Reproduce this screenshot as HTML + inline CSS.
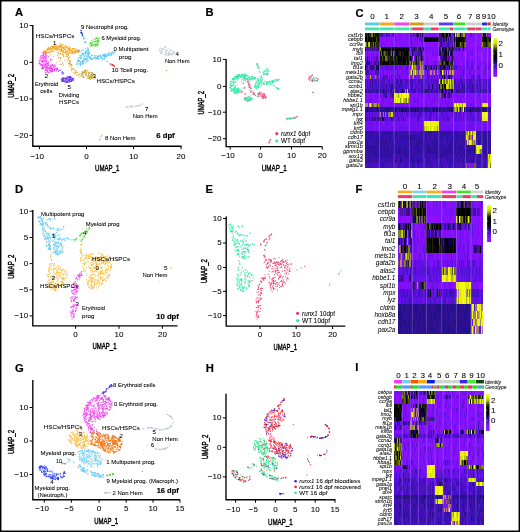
<!DOCTYPE html><html><head><meta charset="utf-8"><style>html,body{margin:0;padding:0;background:#fff}svg{display:block}text{font-family:"Liberation Sans",sans-serif;fill:#000;stroke:#000;stroke-width:0.07px}</style></head><body>
<svg width="520" height="532" viewBox="0 0 520 532" shape-rendering="auto">
<rect x="0" y="0" width="520" height="532" fill="#fff"/>
<path d="M32.8 25V146.2H181.6" fill="none" stroke="#000" stroke-width="1.35"/>
<path d="M29.6 25.6H32.8M29.6 62.3H32.8M29.6 98.9H32.8M29.6 135.4H32.8M39.4 146.2V149.2M86.5 146.2V149.2M133.6 146.2V149.2M181 146.2V149.2" stroke="#000" stroke-width="1"/>
<path d="M60.3 44.1h1m-.9-.3h1m1 .7h1m-19 6.4h1m.2 0h1m-.6-.1h1m-.6-1.7h1m-.7 1.4h1m-.9-.8h1m-.5-1.2h1m-.6-.9h1m-.8 1.8h1m-.9-2h1m-1 2h1m-.8-1.4h1m-.8 1h1m-.8-.5h1m-.9-.1h1m-.6.4h1m-.7 1.2h1m-.7-1.2h1m-.8-1.1h1m-1-.5h1m-.8 2h1m-.6.8h1m-.6-1.8h1m-.9 1.1h1m-.7-.4h1m-1-.1h1m-1-.6h1m-1-1.8h1m-.8.1h1m-1 3.5h1m-.8-.1h1m-.9-3.5h1m-1 .3h1m-.9-.1h1m-1 .3h1m-.9.6h1m-.8.7h1m-.9-.5h1m-.7-1.3h1m-.7 1.8h1m-1-.7h1m-.9-1.1h1m-.6 2.3h1m-.7 0h1m-.9-2.4h1m-.8 1.3h1m-.9-.6h1m-.9 3h1m-1-3.3h1m-.9.9h1m-.8-2.2h1m-.9 3.9h1m-.9-3.1h1m-.7 2.1h1m-1-1.6h1m-.8-.1h1m-.8 3h1m-.8-.9h1m-.8-.4h1m-.9-3.2h1m-.8 4.7h1m-.9-1.8h1m-.9-.7h1m-.9.1h1m-.7 3.5h1m-1-4.4h1m-.9-.3h1m-1 1.1h1m-.9.7h1m-.9 1.2h1m-.9-.2h1m-.9-.5h1m-.8-1h1m-.7 1.9h1m-.8-2.9h1m-.6 2.5h1m-.7-3.3h1m-.6.9h1m-1-1.3h1m-1 1.7h1m-.9 2.5h1m-1-2.5h1m-1 .4h1m-.9 2.2h1m-.7-.7h1m-.9-3.8h1m-.8 2.3h1m-1 3.4h1m-1-1.7h1m-.3-1.2h1m-.9-2.1h1m-1 .3h1m-.9 4.8h1m-.9-5.2h1m-1 3.7h1m-.9.1h1m-1 1h1m-1-4.5h1m-.9.3h1m-.9-.5h1m-.8 4.5h1m-1-2.9h1m-1 1.3h1m-.7 1.3h1m-.9-3.7h1m-.9-.9h1m-.8 2.3h1m-.3.8h1m-.9-.5h1m-1 2.5h1m-.7-2.7h1m-.6.2h1m-1-.7h1m-.9 1.3h1m-.8.8h1m-.9-2.8h1m-.3.7h1m-.9 1.9h1m-.9-3.8h1m-.8 5.5h1m-.9-1.7h1m-.4-1.5h1m-.8-.7h1m-.6 0h1m-.7.8h1m-.6-.9h1m-.8 1.4h1m-.8 0h1m-.7 1.8h1m-.6.4h1m-.9-2h1m-.5 2.1h1m-1-.9h1m-.8-2.8h1m-.9 1.7h1m-1 1h1m-.6-2.6h1m-.8 1.2h1m-1 .7h1m-1 1.9h1m-.9-.2h1m-.6-.7h1m-.9.4h1m-.8-1.1h1m.3 1.5h1m-.6-2.3h1m-1 .8h1m-.9-.8h1m-.4.5h1m-.1-.3h1m-.8 2.3h1m-.5-2.1h1m-.7 1.6h1m-.9-1.6h1m-.3 1.7h1m-.1-.9h1m-.4.7h1m-1 .3h1m-.5.1h1m-1-.7h1m-.7.8h1m-35.7 1h1m-1 0h1m-.2 1.3h1m-.8-1.8h1m-.7.8h1m-1 0h1m-.8.6h1m-.5-.8h1m-.9-.7h1m-.8 1.7h1m-.9-1.2h1m-.9 2h1m-.6-.8h1m-1-.2h1m-.4-.1h1m-.9.1h1m.5-.1h1m-.7-1.2h1m-.6.6h1m-.6.2h1m-.3-.4h1m-.9 3.1h1m-.2-3h1m.3-.8h1m-.9.3h1m-.3 5h1m-.4-4.8h1m2.4 3.7h1m-.3-2.4h1m-.9-1.1h1m-.6 1.7h1m-1 .2h1m.5-.1h1m-.9-.2h1m-.8-2.4h1m-.7 3.1h1m-.1-3h1m-.7-.1h1m-.7 3.1h1m-.9-2h1m-.7 1.1h1m-.8 1.9h1m-.8-.3h1m-.9-2.7h1m-.8 2.6h1m-1-2.8h1m-.8 4.5h1m-.8-5.2h1m-.9 5.1h1m-.4-3.5h1m0 0h1m-.9-.3h1m-.9-1.5h1m-.7 2.2h1m-1-.9h1m-.9-1.1h1m-1 .8h1m-.8 4.7h1m-.8-4.8h1m-1 2.6h1m-.8-2.2h1m-.5 4.1h1m-1-1.6h1m-.8-3.7h1m-.9 5.4h1m-.9-3.5h1m-.9-1.9h1m-.6 3.6h1m-.8-1.6h1m-1 2.3h1m-.8-.3h1m-.6-2h1m-.3-.7h1m-.9 4.5h1m-.7-3.6h1m-.9-.5h1m.2.5h1m-.6-2.1h1m-.9.4h1m-1 .1h1m-.8-.1h1m-.9 1h1m-.5-1h1m-1 1.4h1m-.9-1h1m-.9.9h1m-.5.6h1m-.5-1.2h1m-.7-1.1h1m-.6 1.1h1m-.6.1h1m-.9-1.1h1m-.6 1.9h1m-1-1.1h1m-.8.2h1m-.8-.2h1m-.4-.7h1m-.5.1h1m-.6-.4h1m-.9 1.7h1m-.8-1.5h1m0 1.3h1m-23.5 10.3h1m1.5-5h1m-1-.8h1m.4 4.5h1m-.5-3h1m-.8-.5h1m-.9-.4h1m3 2.5h1m1.9.4h1m-.7-1.5h1m-.5-.3h1m-.5-1.2h1m-1 2.9h1m-1-2.9h1m-.5 4.6h1m-1 .7h1m-.8-1.2h1m-.6-1.4h1m-.7 1.5h1m-11.5 2.7h1m.7.1h1m-.2-1h1m-.9-.5h1m-.1 2h1m4.2-1.5h1m-.9-.1h1m-.7.5h1m-.5-.1h1m-.9 3h1m-.9-3.2h1m-.4.6h1m-.8-1.2h1m-.3 3.2h1m-1 2.5h1m-1-4.4h1m-.9 0h1m-.9.9h1m-1 3.5h1m-.8-4.1h1m-.8.3h1m-.2 3.9h1m-.3-.2h1m-2.8 1.9h1m.8 1.7h1m-1-3.1h1m-.4.5h1m-.5 3.2h1m-.5 1.3h1m-.9-3.4h1m-.4 2.2h1m-.7-1.9h1m-.8 1h1m-.3.6h1m-.7.1h1m-1-.2h1m.3 2.2h1m-.1-.4h1m-.2-.7h1m85.1-3.1h1m-.5-.3h1m-90.9 5.2h1m1.3.8h1" stroke="#f4a521" stroke-width="1"/>
<path d="M40.5 56.2h1m-1 0h1m-.1-1.1h1m-.3.8h1m-.8-.3h1m-.6-2.6h1m-1-.4h1m-.9 1.4h1m-.9-1.4h1m-1 2.2h1m-.9 0h1m-.7-2.2h1m-.9 1.8h1m-1 1.7h1m-1 .7h1m-.6.2h1m-.9-.6h1m-.2-.6h1m-.6-1h1m-1 .2h1m-1-1.4h1m-.2 2.7h1m-.4-.6h1m.3.9h1m-10.2 5.6h1m-.8-1.5h1m-.7-.1h1m-.7-2.4h1m0-.3h1m-1 2.8h1m-1-.8h1m-.9-1.2h1m-.6 2.9h1m-.7-.3h1m-.7-3.8h1m-.8 4.7h1m-1-1.1h1m-.7 1.2h1m-1-1.3h1m-.9-2.8h1m-.7-.8h1m-.9 3.6h1m-.6.6h1m-.7-2.9h1m-.8.6h1m-.8 1.2h1m-.9-.2h1m-.5 1.7h1m-1-1.3h1m-.8-2.5h1m-.8 2.7h1m-1-.1h1m-.8-2.3h1m-.7.2h1m-.9-1.3h1m-.7 4.5h1m-1-3.3h1m-.9 2.1h1m-1-3.5h1m-.5 3h1m-1 2.6h1m-.6-1.3h1m.3.9h1m-.6-.3h1m.8-3.1h1m-1 1.7h1m.3-1h1m-13.6 3.8h1m-.5-.2h1m-.7.5h1m-.8.5h1m-.3-.3h1m-.9 1.2h1m-.9.1h1m-.6 3h1m-.8-3.7h1m-.9 4.1h1m-.7-.3h1m-.7-.3h1m-1-1.4h1m-.9-1h1m-.8-.4h1m-.9 1.2h1m-1-1.8h1m-1 3h1m-.8-1.4h1m-1-1.3h1m-.8 3.8h1m-.9-1.3h1m-.9.8h1m-.6-.6h1m-.9-3.9h1m-.9 1.6h1m-.6 1.6h1m-.7-2.8h1m-.8 3.1h1m-1-2.2h1m-.6-.5h1m-.9 3.1h1m-.8-1h1m-.9-1.4h1m-.8-1.5h1m-1 1.7h1m-.9-1.5h1m-.8 2.3h1m-.9 2.2h1m-.8-.5h1m-.9.6h1m-.9-1.1h1m-.7-.9h1m-1-3.1h1m-1 .7h1m-.9 1.1h1m-.8 2.9h1m-1-1h1m-1-1.1h1m-.4-2.4h1m-1 0h1m-.8.6h1m-.8 4.4h1m-.7-3.3h1m-.9 0h1m-.7 2.7h1m-.9-.6h1m-1 .3h1m-.8-.8h1m-.8 1.7h1m-.6-1h1m-.7.2h1m-.7-1.7h1m-.9 2.2h1m-.9-3.3h1m-.8 1.7h1m-.9-.3h1m-.9 1.9h1m-1-3.1h1m-.7 3.3h1m-.9-.1h1m-.9-1h1m-.4-2.3h1m-1-.8h1m-1 3h1m-1 1.1h1m-.6-3.4h1m-.3.4h1m-.6 1.1h1m-.8.3h1m-1 .1h1m-1-.2h1m-.5-1.6h1m-.8 3.3h1m-.6-3.4h1m-.8 3.8h1m-1-2.7h1m0 2.4h1m-1-.2h1m-.2 0h1m-1-.3h1m-13 2.8h1m-.7 1.7h1m-.9-2.5h1m-.8-.7h1m-.7-.3h1m-1 3.7h1m-.7-2.3h1m-.4 1.4h1m-.7-1.3h1m-.8-.1h1m-.6 1.4h1m-.9-.3h1m-.9-2h1m-.6 2.9h1m-.7 0h1m-.3-2.4h1m-.7.2h1m-.6.5h1m-.8.9h1m-.8-.9h1m-.4-1.5h1m-.8 2.8h1m-1-.5h1m-.6-2h1m-.9 1.2h1m-.9.7h1m-.8 0h1m-1-.3h1m-.8-1.5h1m-.9.3h1m-.9-.3h1m-1-.4h1m-.8.6h1m-.9.6h1m0 .7h1m-.7-1.6h1m-.6.6h1m-.9.4h1m-.9-1.5h1m-1 1.6h1m-.5-1.7h1m.5.9h1m0-.5h1" stroke="#f03cf0" stroke-width="1"/>
<path d="M56.1 70.9h1m.2-1.8h1m-.3 2.2h1m-.4-1.1h1m.3.3h1m.5 2.1h1m-.8 1.7h1m-.8-2.6h1m-.7 1.1h1m-.3.2h1m-1 .7h1m-3.2 5.9h1m-.6-.8h1m-.9 2h1m-.6.2h1m-.7-.4h1m-.8-2.6h1m-.7.5h1m-1 .9h1m-.9.8h1m-1-.5h1m-.8-2.1h1m-1 2.8h1m-.9-.8h1m-.9-.8h1m-1 .5h1m-1 1.2h1m-1-1.8h1m-1 1.5h1m-.9-1.7h1m-.6.2h1m-.6-.5h1m-.9 2.7h1m-.9-2.5h1m-.6 2.4h1m-.9-2.6h1m-.8 1.1h1m-.9-.8h1m-.7-.2h1m-.9 2h1m-.7-1.2h1m-1 .3h1m-.8-1.3h1m-.4 1.4h1m-1-1.2h1m-.7.3h1m-1-.7h1m-.8 2.8h1m-1-3.9h1m-.7 1.5h1m-.6-.9h1m-1 2h1m-.8-2.2h1m-.9.6h1m-.7 2.7h1m-1-1.3h1m-1 1.1h1m-.7-3.3h1m-.9-.3h1m-.9 0h1m-1 2.9h1m-.7.8h1m-.7-.6h1m-1-.8h1m-.9-1.5h1m-1 .9h1m-1-1.7h1m-.9 3.2h1m-.9-3.1h1m-.9.1h1m-1 3.7h1m-1-.8h1m-.9-2.9h1m-.9.7h1m-.8-.1h1m-.9 1.7h1m-1-2.4h1m-.9 1.3h1m-.9 1.2h1m-.8-.6h1m-1-1.5h1m-.9 1.9h1m-.6 1.3h1m-1-2.8h1m-.9 2.1h1m-.7 1.1h1m-.7-1.8h1m-1 1.4h1m-.9-1.4h1m-.8.7h1m-1-1.1h1m-.7 1.3h1m-1-1.7h1m-.6.7h1m-.8.2h1m-1 1.6h1m-.5-1.9h1m-12.3 2.7h1m-.1 0h1m-.6-.4h1m-1 .1h1m-.5.5h1m-.1.3h1m-.4 0h1m-.8.3h1m-.8.4h1m-.8-1.6h1m-.9.5h1m-.7-.5h1m-.7.7h1m-.5.7h1m-1-.8h1m-.8-.3h1m-.4.5h1m-.3-.7h1m-.8 1h1m-.5-1.1h1m-.2.4h1m-.9 0h1m-.4-.2h1m-.7.2h1" stroke="#6a3cf2" stroke-width="1"/>
<path d="M81.4 36.6h1m.1-.4h1m-.3 2.7h1m-.7-1.4h1m-.9.7h1m-.5-.2h1m-2.1 1.1h1m.2 3.1h1m-.9-.2h1m-.4.9h1m-.7-1h1m-.8.1h1m-7.6 8.2h1m1.5-.1h1m.8-.1h1m.7-1.4h1m.2 2.2h1m-.5-.5h1m-.3.4h1m-.9-3h1m-.9 2.2h1m-1-1.4h1m-.6 1.8h1m-.9-.8h1m-1 .8h1m-11.2 1.1h1m-.2.1h1m-.8-.4h1m-.8.1h1m-.7-.1h1m-.7.8h1m-1 3.8h1m-.8-.4h1m-.2.3h1m-.6-1.7h1m-.8 2.7h1m-.7-5.4h1m-.6 2.3h1m-.8.7h1m-1 .1h1m-.7-.5h1m-.8 0h1m-1 1.6h1m-.9-.7h1m-.3-2.4h1m-.9 1.8h1m-.9 2.8h1m-.6-.4h1m-.6-2.2h1m-.6-2.7h1m-.9 1.9h1m-.7-.8h1m-.8 2.9h1m-.9-2.3h1m-.8 2.6h1m-1-3.8h1m-1 1.1h1m-.9-1.7h1m-.3 5.2h1m-.6-4.5h1m-.9 1.5h1m-.7 2.5h1m-1-1.3h1m-.6.3h1m-.9-2h1m-.9-.4h1m-1 4.1h1m-.8-2.4h1m-.9 1.3h1m-.7-4.3h1m-1 1.6h1m-.9.5h1m-.5-.3h1m-.9-1h1m-.7 4.7h1m-.8-.2h1m.3-1.7h1m-.3.7h1m-.9-.5h1m1.2.2h1m-.7.3h1m-.8 1.1h1m.2-1.4h1m.2 1h1m-.8 0h1m-1 .4h1m-.3-.6h1m-.9-.5h1m-.3.4h1m-.4-.2h1m-.6.3h1m-.7-1.1h1m-.9.3h1m1.1-.3h1m-.9-.1h1m-.5 1.1h1m-.4-.9h1m-1-.2h1m-.4-.4h1m-1 2.2h1m-1-1.9h1m-.9 1h1m-1-.5h1m-.8.4h1m-.6-1.1h1m-1 1.2h1m-1 1h1m-.5-.4h1m-.8-.6h1m-.9-1.7h1m-.9 1h1m-.9-1.4h1m-.6 2.7h1m-.4-3h1m-1 2.1h1m-.4 0h1m-.4-1h1m-.9.7h1m-.9-.9h1m-.9-1.2h1m0-.7h1m-.6 2.7h1m-.9-2h1m-.9 1.1h1m-.6.3h1m-.4-.4h1m-.8-1.2h1m-.9 2.2h1m-.6-1.7h1m-.7-1.3h1m-.8 1.5h1m-.9-2.2h1m.2 2.3h1m-.8-1.9h1m-.4.7h1m-.8.1h1m-1-.3h1m-.8-1.2h1m-38.7 11.4h1m-.3-2.6h1m-.6 1.2h1m-1-.1h1m-1-.2h1m-.9.3h1m-.9-2.3h1m-.8 1.4h1m-.9-2.8h1m-.3 4h1m-.9-.9h1m-.7-3.5h1m-.4 4.7h1m-.9-4.2h1m-1 1.2h1m-.9 4.1h1m-1-4.9h1m-.7-.5h1m-.7 4h1m-.4-2.6h1m-.7 3h1m-.9 0h1m-.8-.5h1m-.7-.5h1m-.8 1.1h1m-.9.7h1m-1-2h1m-.6 2.1h1m-1-1.8h1m-.7-2.3h1m-1 1.5h1m-.9-1.8h1m-.6 2.9h1m-.9-2.3h1m-.3 0h1m-.7.7h1m-1-1.1h1m-.9.4h1m-.7 1h1m-1 2.9h1m-.4-.9h1m-.7-2.3h1m-.8-1.1h1m-.9.4h1m-.9 1.3h1m-.6-2.5h1m-.6 2.8h1m-.7.4h1m-.8-2h1m.2-1.9h1m-1 .1h1m-.6.9h1m-1-.4h1m-.2 0h1m-.8 1.7h1m-.9-1.6h1m-.7.8h1m-.8.6h1m-.5-.1h1m-.3-.3h1m-.7-.1h1m-.7-.4h1m-.5-.3h1m-.5-.4h1m0-.5h1m-.9.5h1m-.9 1.5h1m-.1-.4h1m-.8-1h1m-.8 1h1m-.5-.9h1m-.9.7h1m-.8-.4h1m-.8-.8h1m-.9.9h1m-1-.5h1m-.4 1.6h1m-.8-.7h1m1.2-1.5h1m-1-.2h1m-1 1.6h1m-.9-1.4h1m.2-.2h1m-.9 1.6h1m-1 1.1h1m-.3-1h1m.2 1.1h1m-1-1.5h1m-.8.5h1m.3-1.3h1m-.4 3.7h1m.3.6h1m-32.4 2.5h1m.4-.6h1m-.4 1h1m-.1-1.3h1m0 1.5h1m-.9-1.3h1m-.7-.5h1m-.9 1.1h1m-1 1.1h1m-.9-.2h1m-.6-1.5h1m.4.6h1m-.4-.7h1m-.8.5h1m-.8-.6h1" stroke="#55c6f3" stroke-width="1"/>
<path d="M95.4 38.3h1m-.7-.9h1m-.6.8h1m-.2.3h1m.1-.5h1m-.6.7h1m-9.6 5.4h1m-.9-1.7h1m-.8 1.4h1m-.3-.6h1m-.5 1.1h1m-1-1.4h1m-1-2.5h1m-.1 2.5h1m-.5 1.9h1m-1-2.9h1m-.4-2.7h1m-.8 2.7h1m.1-.7h1m-1 3.6h1m-.9-3.3h1m-.9 2.4h1m-1-4.1h1m-.3 4.2h1m-.9-2.7h1m-.5 2h1m-.6.5h1m-.8-2.3h1m-1-.4h1m-1-.8h1m-.9 4.5h1m-.9.2h1m-1-.1h1m-.9-.1h1m-.8-2.8h1m-.9-2.2h1m-.7 4.6h1m-.7-3.4h1m-.8 1h1m-1-1.5h1m-9.8 4.7h1m.3 1.2h1m-.5-.5h1m-.8-.5h1m0 0h1m0-.3h1m-.7 1h1m.2-.2h1m-.6-.6h1m-1-.3h1m.2 1.1h1" stroke="#35d81a" stroke-width="1"/>
<path d="M80.4 30.6h1m-.8 1.8h1m-.9.1h1m-1 .4h1m-.9-2.2h1m-.8 2.1h1m-.9-.5h1m-.8.9h1m-.6.9h1m-.8 1.2h1m-1-1.6h1m-.7 1.6h1" stroke="#0d2fd0" stroke-width="1"/>
<path d="M109.4 63.9h1m.3.2h1m-1 .8h1m.1.1h1m-.7-.3h1m-.7.5h1m-.3.3h1m-.9-.3h1m-.6 1.1h1m-.7.4h1" stroke="#e81515" stroke-width="1"/>
<path d="M80.9 74.9h1m-.6-.6h1m-.9-2.5h1m-1 2.2h1m-.4-1.6h1m-.9-.4h1m-1 .9h1m-.7.3h1m-.9-.7h1m-.3.4h1m-.9-.5h1m-.6-1.8h1m-.4 1.6h1m-.9-.3h1m-1-1.6h1m-1 1h1m-.7 2.4h1m-.8-3.5h1m-.9 1h1m-.9 3h1m-.7-2.6h1m-1 2.2h1m-.3-.1h1m-.9-1.1h1m-.7-2.3h1m-.2.7h1m-.5 3.2h1m-.8-1.5h1m-.2 1.1h1m-.4-.6h1m-1-.8h1m.2 2h1m-.4-1.9h1m-1 2.4h1m-.9-.3h1m-.8-.8h1m-.7-.5h1m-.9.1h1m-1-.1h1m-12.4 3h1m0-.9h1m-.1 1.7h1m-.9-2h1m-.9 1.6h1m-.3.7h1m-1-.3h1m.9-1.5h1m0 .1h1m-.8 2.5h1m-.5-1.4h1m-.1-1h1m-.7-.7h1m-.7 3.1h1m-1-1.5h1m-.9.3h1m-.8 1.4h1m-.6-.1h1m-.7-1h1m-.9-.4h1m-1 1h1m-.8 1h1m-.7-3.2h1m-1 3.5h1m-.5-3.1h1m-.9.8h1m-.8-.6h1m-1 .9h1m-.7 1.1h1m-.9-1.5h1m-.5 1.7h1m-.8-1.7h1m-.9-1.5h1m-.8.3h1m.1 3.5h1m-.4-1.6h1m-.6 0h1m-.9-1h1m-.8 1.6h1" stroke="#c59a1c" stroke-width="1"/>
<path d="M158.9 49.3h1m-.6 1.2h1m-.5-2.4h1m.3.4h1m-.9.1h1m-.7 1.4h1m-.7.2h1m-.9-1.1h1m-.8.5h1m.3-.3h1m-.9-2.2h1m-.7 2h1m0-1.8h1m-.9-.5h1m-.7.6h1m-.9-.8h1m-.9 3.4h1m-.2.6h1m-.6-1.6h1m.7-.8h1m-.3 2.5h1m-.3-.8h1m.1.7h1m-12.3 1.3h1m-.2 1.8h1m-.9-2.6h1m-.9 1.2h1m-.7 1.6h1m-.5-2.1h1m-.9.9h1m-.7-.3h1m.9 2.4h1m-.2-2.7h1m-.6 2.5h1m-.8-1.6h1m-.8-1.2h1m-.8 3.9h1m-.9-1.6h1m-.9-1.8h1m-.7-.1h1m-.1 1.9h1m-.9-3h1m-.5 2.8h1m-.8 1.7h1m-.7-.9h1m-.8-1.4h1m-1-.3h1m-.8 2h1m-.6-1.9h1m-.9 1.3h1m-.8-2.5h1m-.7 3.4h1m-.7-.9h1m-.9-.6h1m-.1.3h1m-.6.2h1m-.8-.3h1m-.9-.3h1m-.1-2.4h1m-1 3.7h1m-.6-1.2h1m-1 .4h1m-.7-1.9h1m-1 1.2h1m-.3-.5h1m-1-1.6h1m-.9 1.1h1" stroke="#c3c8cc" stroke-width="1"/>
<path d="M139 105h1m1.7-1.4h1m-.8.8h1m-17.2 2.5h1m-.9 0h1m-.8.8h1m-.5-1.3h1m-.6.2h1m-.5 1.1h1m.1-.9h1m-.5-.4h1m-.3-.1h1m-.2 1h1m-.9-1.5h1m-.7 1h1m-.7.2h1m-.6-1.2h1m-.8.7h1m-.2.5h1m1-.8h1m-.8.5h1m-.2-.7h1m-.9.1h1m.6-.4h1m-.8.5h1m-.6-.1h1m-.6-.5h1m-.5.1h1m.9-.5h1" stroke="#c7cbc9" stroke-width="1"/>
<path d="M98.8 139.6h1m-.8.5h1m-.6-1.1h1m-.7.3h1m-.3-2.9h1m-.8.4h1m-.4-1.5h1m-.6 0h1" stroke="#d6c77a" stroke-width="1"/>
<path d="M226.1 59V146.6H322.3" fill="none" stroke="#000" stroke-width="1.35"/>
<path d="M222.9 59.4H226.1M222.9 86.4H226.1M222.9 112.2H226.1M222.9 138.7H226.1M230.2 146.6V149.6M260.6 146.6V149.6M291.5 146.6V149.6M322.3 146.6V149.6" stroke="#000" stroke-width="1"/>
<path d="M264.5 71.6h1m1.4 3h1m-33.1 1.8h1m9.6-.9h1m1.1 5.5h1m2.6-2.1h1m-.6-2.2h1m24.2 3.4h1m30.5-1.3h1m-.8-2.7h1m-.6 2.2h1m-.7 2h1m-.7-.9h1m-.9-1.9h1m-.7-.7h1m-.9.4h1m-.1-.2h1m-1-1.6h1m-.9 5.6h1m-.5-2h1m-.7 1.8h1m-.7-5.8h1m-.8 5.5h1m-1-1.3h1m-.2 1.2h1m-.9-2.1h1m.7 2.3h1m-.2-2.7h1m-.7 2.5h1m-.1.2h1m-.4-.9h1m-.9-1.2h1m-83.4 3.8h1m7.1 1.1h1m.6-2.4h1m1.1 1.3h1m-.4-.2h1m-.7 3.1h1m-.8-1.1h1m-.8-2.7h1m-.9 2.5h1m-.6-.9h1m-.7 3.3h1m-.9-.3h1m-.7-1.1h1m-.8 2.1h1m13.1-2.8h1m47.4-2.6h1m3.4-.5h1m-86.9 9.6h1m6.2.8h1m1.7 1.1h1m-.2-1.2h1m-.1.7h1m.6-4h1m-.4-.8h1m3.1 0h1m.6 3.8h1m-1-3.2h1m-.9.7h1m-.9 3.8h1m-.8-4.1h1m0 2.7h1m0 1.6h1m-.3.1h1m5.2-.6h1m.5.6h1m50.4-.3h1m-.7-.2h1m-69.1 1.8h1m-.9 4.8h1m-.8-1.3h1m-.9-3.4h1m1.6 2.8h1m4.5-2.7h1m-.2-.3h1m-.9.1h1m-.9-.2h1m-.2 1.7h1m1.7-1.8h1m-.8.6h1m-.9 1.4h1m-.9 1.1h1m-.7-2.7h1m-.9-.4h1m-.3-.4h1m-.7 1.3h1m-.7 1.5h1m-.9-3h1m-.5 1.6h1m.1 1.5h1m-.9-.5h1m-.7 2.2h1m-1-1.1h1m-.8-2h1m-.5-.5h1m-1-.6h1m-1 3.3h1m-1 .7h1m-.7-1.6h1m-1 2.5h1m-.7-2.2h1m-.6 1.6h1m-.9-4.2h1m-1 3.1h1m-1-1.4h1m-.8-.8h1m-.8-.3h1m-.9.1h1m-1 2.4h1m-.8-.9h1m-.3 2.6h1m-.7-1.2h1m-.7 0h1m-.9-.7h1m-22.3 3h1m-.4-.3h1m1.8 1h1m-.8-.1h1m-.6-.7h1m.4.7h1m.4-1.2h1m44.4 17.2h1m-.8.6h1m-11.6 1.8h1m-.5-.4h1m.6.1h1m0 .6h1m-.5-.2h1m-.6-.4h1m-.5.4h1m.3-.6h1m-.2-.1h1m.1.1h1m-.7 0h1m-.4-.4h1m-.9-.5h1m-26.3 22.8h1m-.9.3h1m-.3-1.1h1m-2.8 3.1h1m-.9.4h1m-.7-.8h1m-.8.2h1" stroke="#f2366b" stroke-width="1"/>
<path d="M256.5 63.5h1m-.9 1.2h1m-1 .1h1m-1 .3h1m-.9-1.6h1m-.8 1.5h1m-1-.3h1m-.9.6h1m-.9 2.5h1m-.8-1.9h1m-.9.9h1m-1-1.1h1m-.8 1.1h1m-.8.7h1m-.3.9h1m-.7.4h1m6.9.1h1m-30.3 6h1m-.9.1h1m0-.1h1m-.5-.1h1m.9.1h1m-.9-.2h1m.2-.3h1m-.8-.3h1m.1.3h1m-.9 0h1m-.9.2h1m-.9-.1h1m-.6.3h1m-.5-1.3h1m13.2-1.7h1m-.9-.1h1m-.7.7h1m2.3-.4h1m-.8 1h1m-.7 1.9h1m-.9-2.4h1m-.8 2h1m-.9-2.1h1m-.9-1.9h1m-1 3.6h1m-.1-.4h1m-.6.2h1m-1-4.2h1m-.8 4.9h1m-.4-3.5h1m-1 2.6h1m-.9.8h1m-.5-5.5h1m-.9 2.2h1m-.7 1.4h1m-.7.4h1m-.9-1.7h1m-.9 2.4h1m-1-4.6h1m-1 4.8h1m-.9-.1h1m-1-.1h1m-.8-3.6h1m-.5.5h1m-37.2 9.1h1m-1-.3h1m-.8-.6h1m-.8.6h1m-.5-1h1m-.8.6h1m-.6 2h1m-1-2.1h1m-.9-.5h1m-.9 1.2h1m-.9-.9h1m-1-.6h1m-.7 1.5h1m-1-.1h1m-1-1.4h1m-.7-1.3h1m0 .2h1m-1 0h1m-.8-1h1m-.9.7h1m-1 1.8h1m-.7.4h1m-.8-2.3h1m-.9.9h1m-.7-.9h1m-.9-1.2h1m-1 3.4h1m-.7-1.3h1m-.7 1.3h1m-1-2.6h1m-.7.5h1m-1-.1h1m-1-.4h1m-.8 1.2h1m-.9-2.4h1m-.9.7h1m-.8 2.6h1m-1-2.1h1m-1-.4h1m-.6.4h1m-.9-.5h1m-.7.8h1m-.7-.8h1m-.9-.4h1m-.9-.2h1m-.8 1.9h1m-.4.2h1m-.9-.7h1m-.9-.2h1m-.7-.8h1m-.9.1h1m-.8 2.5h1m-.8-2h1m-.5 3.5h1m-1-2.6h1m-.7-.2h1m-.4-1.5h1m-1 .3h1m-.7 1.1h1m-.9-1.1h1m-1 4.4h1m-.9-1.9h1m-.9.1h1m-.8 2.2h1m-.9-4.5h1m-.8 1.2h1m-1 0h1m-1 .7h1m-.7.5h1m-1-.6h1m-.9-1.1h1m-.9 1.6h1m-.8.8h1m-.9-3.2h1m-.9 4h1m-.7-3.4h1m-.9-.4h1m-1 1.8h1m-.9 1h1m-.6-2.8h1m-1 .5h1m-.8-1.5h1m-.9 4.5h1m-.6-4h1m-.7 2.7h1m-1 1.3h1m-.9-1.3h1m-.8 1.6h1m-1-.6h1m-1-.8h1m-.7-3.1h1m-1 5.4h1m-.9-1.6h1m-.9-3.8h1m-.8.6h1m-.8 2.4h1m-.5-.7h1m-.9 2.1h1m-.8-1.8h1m-.6 0h1m-1-.6h1m-.8-.1h1m-.7 2.7h1m-1-.4h1m-.9-3.3h1m-1 1.7h1m-.2 2h1m-.7-1.2h1m-1 0h1m-.8-.7h1m-.7.7h1m-1 .9h1m-1-2.7h1m-.9-.6h1m-.6 3.7h1m-.5-1.7h1m-.9-1.9h1m-.9 1.7h1m-.6.3h1m-.9-.6h1m-.8 1.2h1m-.7-1.1h1m-.7.6h1m-.7-1.3h1m-.7 1.1h1m-1 1.2h1m-.9-1.8h1m-1 .2h1m-.6-.4h1m-.9.5h1m-.3.4h1m.4 1.9h1m-.7-2h1m-.7 1.7h1m-.9.6h1m-.8-.4h1m-.9 0h1m-.5-1.1h1m-.9 1.3h1m-.1-.4h1m-1-3.5h1m-.6 3.4h1m-.9-.9h1m-.4-1.3h1m-.7 2.5h1m-.8-2.2h1m-1-2.2h1m-.9 1.6h1m-.7.3h1m-1-.6h1m-1 .6h1m-.9 3h1m-.4-.8h1m-.9-.7h1m8.6 1.7h1m-.5 0h1m-.3-.6h1m.4.6h1m-.8-1h1m-.4-.5h1m-.6 1.3h1m-.1-1h1m-.4.5h1m-.2.1h1m-.5-.8h1m-.8-.2h1m30.3-1.7h1m1-2.4h1m-1 4.4h1m-.8-4h1m-.6 3.4h1m-.5-2.2h1m-.5 3.5h1m-.2-.6h1m-.8-1.7h1m-.5 2.3h1m-.2.3h1m-.2-2.2h1m-88.3 6.8h1m0-2h1m-1 2h1m-.9-.5h1m-1-.9h1m-1-1.8h1m-1 0h1m-.6 3.7h1m-.8-4.5h1m-.8 5.1h1m-1-.8h1m-.8.9h1m-1-.9h1m-.9-3.8h1m-.8 3.8h1m-.4-3.6h1m-.9 3.2h1m-.8-3h1m-.7 3.2h1m-.9-1.9h1m-.9 1.9h1m-.7-4.2h1m-1 2.7h1m-.9-.9h1m-.5-.9h1m-.6 3.8h1m-.2.6h1m.4-1.2h1m-.9-4.1h1m3.5.2h1m-.3 1.9h1m11.1 3.5h1m-.2-1h1m-1-.1h1m-1-.1h1m-1 .2h1m-.9-1.7h1m-.8 1h1m-1-2h1m-.5 2.9h1m-1-.7h1m-.8-2.5h1m-.8-1.1h1m-.8 1.4h1m-.9 4h1m-1-.1h1m-.7-3.9h1m-.4 1h1m-.9 2.2h1m-.9 0h1m-.9-.4h1m-.8-.3h1m-.8 1.3h1m-1-5.4h1m-.7 5.4h1m-.8-1.9h1m-1-1.3h1m-.8-1.1h1m-.8 1.6h1m-1-1.9h1m-.6 1.9h1m-.8.5h1m-1-.8h1m-.7 3.1h1m-.9-5.3h1m-.9.2h1m-.5 2h1m-.9-1.5h1m-.5-.4h1m-.8 3.6h1m-1-4.3h1m-.8 1.3h1m0 .9h1m-.4-.3h1m-.9 1.3h1m-.9-1.2h1m-.3-1.9h1m-.6 2.7h1m-.8-.1h1m-.1-2.4h1m-.8.2h1m-.7 1h1m-.9.3h1m-.9 1.2h1m-.4-.3h1m-.9-.7h1m-.9.7h1m-.6-1.7h1m-1 1.5h1m-.9-1.5h1m-.9 1.2h1m-.5.9h1m-.6-2.3h1m-.4 0h1m-.8-.7h1m-.9.2h1m-.6 1.1h1m-1 1.1h1m-1-1h1m-.2-.1h1m-1 1.9h1m-.8-3.2h1m-.2-.1h1m-.6-.1h1m-1 .7h1m-1 2.1h1m-1-2.4h1m-.8.3h1m-.8 0h1m-1 .7h1m-.5-.7h1m-.9-.5h1m-.7 4.3h1m-1-3.3h1m-.6-.7h1m-.6 4.4h1m.5-4.7h1m37.6-.2h1m-85.8 6.2h1m-.7-.2h1m-.8.4h1m-.9.4h1m-.5-.3h1m-1 .9h1m-.9.1h1m-.6 2.4h1m-.8-.2h1m-.8-.2h1m-.9-1h1m-.7-1.2h1m-.8 1.8h1m-.9.5h1m-.7-.4h1m-.3-.3h1m-.8-1.9h1m-.9 3.9h1m-.9-2.4h1m-.9-1h1m-.9.1h1m-.8.6h1m-1 3.1h1m-.9-1.5h1m-.9-.4h1m-.9.4h1m-1-.7h1m-.7-2.9h1m-1 .5h1m-1 .8h1m-1 3.8h1m-.9-2.5h1m-.9 2.5h1m-1-3.2h1m-.7-1.8h1m-1 4.3h1m-.4-3.1h1m-.8 1.6h1m-1 .2h1m-.9 1.6h1m-1-2.2h1m-.8 1.2h1m-1 1.2h1m-.8-1.9h1m-.9 2.3h1m-.8-2.2h1m-.9 2.2h1m-.9-3.4h1m-.9-.8h1m-.9 1.3h1m-1-.3h1m-.9 1.4h1m-1-2.2h1m-.7 2.3h1m-1-.7h1m-.9 1.5h1m-1 .8h1m-.7-4h1m-.9-.5h1m-1 2.1h1m-1 .8h1m-1 .9h1m-.8.1h1m-.5-3.2h1m-.7 1h1m-1 .1h1m-.9 1.9h1m-.7.4h1m-.9-.8h1m-.7 0h1m-.9-2.1h1m-.3 1.6h1m-.5 0h1m.9-2.8h1m4.9-.3h1m-.6 2.1h1m.2-1.8h1m-1 3.1h1m3.1-3.7h1m-.6.7h1m-.4-.9h1m-.4 1.1h1m-.6.3h1m-1-.2h1m-.8-1.1h1m.4 0h1m-.9.3h1m-.4 4.8h1m15.8-4.8h1m-.2.1h1m-.9.6h1m-.3.1h1m-.8-.2h1m-.8.3h1m-.6.2h1m-.9-.2h1m-.7.8h1m-.8.3h1m-45.3 3.8h1m-.4-.1h1m-.4.5h1m.7-.7h1m-.6 0h1m5.1 5.9h1m-.8-.6h1m.1.5h1m-.9-.5h1m-1 .3h1m-.4-.8h1m-.5 0h1m-.8.2h1m-.6.5h1m-1 .2h1m-.3-.6h1m-1-.5h1m-.2-.1h1m-.6-.6h1m-.9-.1h1m-.5 1.6h1m-.8-1.5h1m-.8.4h1m-.9 1.3h1m-.9-.9h1m-1 .9h1m-.8-.1h1m-.2-.1h1m-.8-.3h1m-.6.2h1m-.5 0h1m-.6-4.3h1m.1-.6h1m2.2 3h1m0-3.1h1m1.7.5h1m.9 4.1h1m-.7-.7h1m-18.8 2.1h1m-.7.2h1m-.9.7h1m-.4-.4h1m-1 .6h1m-.4.2h1m-.8-1.3h1m-.9 1.3h1m-.8.2h1m-.9.3h1m-.4-1.5h1m-.7 1.3h1m-.4-1.6h1m-.5 1.4h1m-1-1.3h1m-.8-.4h1m-.8.1h1m-.9.4h1m-.6.7h1m-.6-.1h1m-.9-.7h1m-.8.3h1m-.7-.3h1m34.4 19.2h1m-.8.6h1m-.4-.8h1m-.7.8h1m-.3-.6h1m-.2-.4h1m-.4-.4h1m-.8.7h1m-.6-.7h1m1.1.7h1m-.4-.5h1m.1-.2h1m-.4-.1h1m.6-.3h1m-26.9 21.8h1" stroke="#33e9a9" stroke-width="1"/>
<circle cx="276.8" cy="133.7" r="1.6" fill="#f2366b"/>
<circle cx="276.8" cy="141.0" r="1.6" fill="#33e9a9"/>
<rect x="364.95" y="22.5" width="14.40" height="2.9" fill="#5ec8f2"/>
<rect x="379.65" y="22.5" width="14.40" height="2.9" fill="#f4a622"/>
<rect x="394.35" y="22.5" width="14.90" height="2.9" fill="#f045f0"/>
<rect x="409.55" y="22.5" width="14.20" height="2.9" fill="#c9a020"/>
<rect x="424.05" y="22.5" width="14.60" height="2.9" fill="#c9cdd0"/>
<rect x="438.95" y="22.5" width="14.40" height="2.9" fill="#5a3cf0"/>
<rect x="453.65" y="22.5" width="11.70" height="2.9" fill="#44dd22"/>
<rect x="465.65" y="22.5" width="10.00" height="2.9" fill="#c9cdd0"/>
<rect x="475.95" y="22.5" width="5.80" height="2.9" fill="#c9cdd0"/>
<rect x="482.05" y="22.5" width="5.30" height="2.9" fill="#1f2fd8"/>
<rect x="487.65" y="22.5" width="3.00" height="2.9" fill="#e82020"/>
<rect x="365.00" y="27.5" width="14.30" height="2.8" fill="#3de6ae"/>
<rect x="379.70" y="27.5" width="14.30" height="2.8" fill="#3de6ae"/>
<rect x="394.40" y="27.5" width="14.80" height="2.8" fill="#3de6ae"/>
<rect x="409.60" y="27.5" width="2.54" height="2.8" fill="#3de6ae"/>
<rect x="412.14" y="27.5" width="11.56" height="2.8" fill="#f03c64"/>
<rect x="424.10" y="27.5" width="6.96" height="2.8" fill="#3de6ae"/>
<rect x="431.06" y="27.5" width="7.54" height="2.8" fill="#f03c64"/>
<rect x="439.00" y="27.5" width="10.73" height="2.8" fill="#3de6ae"/>
<rect x="449.73" y="27.5" width="3.57" height="2.8" fill="#f03c64"/>
<rect x="453.70" y="27.5" width="11.60" height="2.8" fill="#3de6ae"/>
<rect x="465.70" y="27.5" width="1.78" height="2.8" fill="#3de6ae"/>
<rect x="467.48" y="27.5" width="8.12" height="2.8" fill="#f03c64"/>
<rect x="476.00" y="27.5" width="5.70" height="2.8" fill="#f03c64"/>
<rect x="482.10" y="27.5" width="5.20" height="2.8" fill="#3de6ae"/>
<rect x="487.70" y="27.5" width="2.90" height="2.8" fill="#3de6ae"/>
<path d="M365 35.03h1M379 35.03h1M483 39.69h1M367 44.35h1M463 44.35h1M486 44.35h1M384 49.01h1M405 49.01h1M452 49.01h1M395 53.66h1M398 53.66h1M402 53.66h1M395 58.32h1M402 58.32h1M406 58.32h1M452 58.32h1M396 62.98h1M452 90.93h1" stroke="#101010" stroke-width="4.66" shape-rendering="crispEdges"/>
<path d="M366 35.03h1M370 35.03h1M439 35.03h1M377 39.69h1M464 39.69h1M370 44.35h1M372 44.35h1M399 53.66h1M403 53.66h1M391 58.32h1M408 58.32h1M381 62.98h1M389 62.98h2" stroke="#202000" stroke-width="4.66" shape-rendering="crispEdges"/>
<path d="M367 35.03h1M412 49.01h1M411 58.32h1M366 62.98h1M368 62.98h1M428 67.64h1M447 67.64h1M378 72.30h1M451 76.96h1M391 86.27h2M399 86.27h1M412 86.27h1M462 86.27h1M464 86.27h1M472 86.27h1M476 86.27h1M481 86.27h1M365 90.93h2M376 90.93h2M382 90.93h1M384 90.93h1M390 90.93h1M397 90.93h2M403 90.93h1M408 90.93h1M414 90.93h1M422 90.93h1M431 90.93h1M441 90.93h1M456 90.93h2M462 90.93h1M464 90.93h1M473 90.93h1M480 90.93h1M390 95.59h1M366 109.57h1M372 109.57h1M375 109.57h1M381 109.57h1M385 109.57h1M390 109.57h1M392 109.57h1M407 109.57h1M419 109.57h3M426 109.57h1M430 109.57h1M432 109.57h1M438 109.57h1M442 109.57h2M447 109.57h2M457 109.57h1M468 109.57h1M473 109.57h1M477 109.57h1M480 109.57h1M488 109.57h1M465 114.23h1M372 118.88h1M375 118.88h1M377 118.88h1M385 118.88h1M366 132.86h2M369 132.86h1M371 132.86h1M377 132.86h1M379 132.86h1M381 132.86h1M383 132.86h1M385 132.86h8M394 132.86h2M402 132.86h1M411 132.86h1M415 132.86h1M421 132.86h3M426 132.86h1M431 132.86h1M434 132.86h1M438 132.86h1M440 132.86h12M453 132.86h1M458 132.86h1M461 132.86h1M476 132.86h1M478 132.86h1M483 132.86h3M487 132.86h1M366 137.52h1M368 137.52h4M373 137.52h1M376 137.52h2M379 137.52h1M381 137.52h1M383 137.52h1M385 137.52h1M387 137.52h1M389 137.52h2M394 137.52h2M400 137.52h1M402 137.52h2M407 137.52h1M409 137.52h1M411 137.52h2M414 137.52h3M425 137.52h1M430 137.52h1M435 137.52h2M438 137.52h1M439 137.52h1M442 137.52h2M451 137.52h1M454 137.52h1M458 137.52h1M460 137.52h2M464 137.52h2M480 137.52h2M482 137.52h4M488 137.52h1M370 142.18h1M372 142.18h1M376 142.18h1M379 142.18h1M380 142.18h1M383 142.18h3M389 142.18h1M392 142.18h2M403 142.18h1M405 142.18h1M409 142.18h1M411 142.18h1M414 142.18h1M419 142.18h3M425 142.18h1M428 142.18h1M433 142.18h1M436 142.18h1M439 142.18h1M447 142.18h1M449 142.18h1M452 142.18h1M455 142.18h2M458 142.18h1M461 142.18h1M463 142.18h1M480 142.18h1M483 142.18h2M486 142.18h1M489 142.18h2M366 146.84h1M368 146.84h6M377 146.84h1M380 146.84h1M387 146.84h2M391 146.84h3M394 146.84h3M398 146.84h2M401 146.84h2M406 146.84h1M408 146.84h1M414 146.84h3M419 146.84h1M422 146.84h1M426 146.84h2M429 146.84h2M434 146.84h1M436 146.84h1M440 146.84h1M443 146.84h2M448 146.84h1M450 146.84h2M454 146.84h2M457 146.84h1M459 146.84h1M462 146.84h2M467 146.84h3M484 146.84h1M486 146.84h2M365 151.49h1M367 151.49h2M371 151.49h1M375 151.49h2M378 151.49h2M380 151.49h2M383 151.49h1M386 151.49h4M398 151.49h1M404 151.49h1M407 151.49h2M410 151.49h2M413 151.49h1M416 151.49h2M419 151.49h2M424 151.49h2M428 151.49h1M430 151.49h1M433 151.49h2M438 151.49h1M443 151.49h1M446 151.49h4M452 151.49h2M458 151.49h1M461 151.49h1M463 151.49h2M472 151.49h2M475 151.49h1M483 151.49h1M485 151.49h1M488 151.49h1M490 151.49h1M366 156.15h1M372 156.15h2M375 156.15h1M381 156.15h7M390 156.15h1M394 156.15h1M400 156.15h1M404 156.15h2M408 156.15h1M410 156.15h1M412 156.15h3M417 156.15h1M420 156.15h1M424 156.15h1M427 156.15h1M429 156.15h1M433 156.15h1M435 156.15h3M439 156.15h5M445 156.15h2M448 156.15h1M453 156.15h1M456 156.15h1M458 156.15h1M461 156.15h2M464 156.15h1M466 156.15h1M468 156.15h1M471 156.15h1M474 156.15h2M477 156.15h1M480 156.15h2M486 156.15h1M368 160.81h1M374 160.81h1M376 160.81h1M384 160.81h1M387 160.81h1M396 160.81h1M401 160.81h1M411 160.81h3M419 160.81h1M421 160.81h1M426 160.81h1M435 160.81h1M440 160.81h1M447 160.81h1M452 160.81h1M463 160.81h1M466 160.81h1M469 160.81h1M473 160.81h1M476 160.81h2M487 160.81h1M398 165.47h1M405 165.47h1M412 165.47h1M453 165.47h1M484 165.47h1" stroke="#3010a0" stroke-width="4.66" shape-rendering="crispEdges"/>
<path d="M368 35.03h1M373 35.03h1M442 35.03h1M446 35.03h1M465 35.03h1M485 35.03h1M487 35.03h1M368 39.69h1M432 39.69h1M434 39.69h1M436 39.69h1M454 39.69h1M458 39.69h1M465 39.69h1M485 39.69h1M374 44.35h1M456 44.35h1M382 49.01h1M385 49.01h1M387 49.01h1M390 49.01h1M392 49.01h2M394 49.01h4M399 49.01h2M403 49.01h2M408 49.01h1M453 49.01h1M388 53.66h1M392 53.66h1M396 53.66h2M405 53.66h1M446 53.66h1M451 53.66h1M394 58.32h1M397 58.32h4M403 58.32h1M409 58.32h2M384 62.98h1M403 62.98h1M442 62.98h1M431 67.64h1M441 81.62h1M439 86.27h1M442 90.93h1" stroke="#000010" stroke-width="4.66" shape-rendering="crispEdges"/>
<path d="M369 35.03h1M462 44.35h1M383 53.66h1M365 118.88h1" stroke="#303010" stroke-width="4.66" shape-rendering="crispEdges"/>
<path d="M371 35.03h1M373 44.35h1M460 44.35h1M393 53.66h1M385 58.32h1M440 86.27h1M452 86.27h1M390 114.23h1" stroke="#708000" stroke-width="4.66" shape-rendering="crispEdges"/>
<path d="M372 35.03h1M416 72.30h1M445 72.30h1M446 81.62h1M406 100.25h1M490 165.47h1" stroke="#808010" stroke-width="4.66" shape-rendering="crispEdges"/>
<path d="M374 35.03h1M444 35.03h1M461 44.35h1M391 49.01h1M441 62.98h1" stroke="#404000" stroke-width="4.66" shape-rendering="crispEdges"/>
<path d="M375 35.03h1M378 35.03h1M370 39.69h1M374 39.69h1M378 39.69h1M429 39.69h1M435 39.69h1M437 39.69h1M457 39.69h1M461 39.69h3M482 39.69h1M484 39.69h1M489 39.69h2M457 44.35h2M487 44.35h1M389 49.01h1M398 49.01h1M407 49.01h1M446 49.01h1M380 53.66h1M389 53.66h1M408 53.66h1M381 58.32h1M384 58.32h1M388 58.32h1M405 58.32h1M407 58.32h1M453 58.32h1M382 62.98h1M387 62.98h1M391 62.98h1M393 62.98h1M394 62.98h1M399 62.98h4M416 62.98h1M446 62.98h1M448 62.98h1M442 86.27h1M444 86.27h2" stroke="#101000" stroke-width="4.66" shape-rendering="crispEdges"/>
<path d="M376 35.03h1" stroke="#101020" stroke-width="4.66" shape-rendering="crispEdges"/>
<path d="M377 35.03h1M414 49.01h1M412 53.66h1M439 53.66h1M445 58.32h2M452 62.98h1M425 67.64h1M367 109.57h1M395 109.57h1M470 109.57h1" stroke="#100050" stroke-width="4.66" shape-rendering="crispEdges"/>
<path d="M380 35.03h1M440 35.03h2M440 39.69h1M444 39.69h1M452 44.35h1M485 44.35h1M367 49.01h1M372 49.01h1M419 49.01h1M442 58.32h1M375 62.98h1M411 62.98h1M430 67.64h1M442 67.64h1M453 67.64h1M366 72.30h1M427 72.30h1M440 72.30h1M446 72.30h1M389 76.96h1M379 81.62h1M446 90.93h1M392 95.59h1M453 95.59h1M374 118.88h1" stroke="#401080" stroke-width="4.66" shape-rendering="crispEdges"/>
<path d="M381 35.03h1M416 35.03h1M440 44.35h1M373 49.01h1M413 53.66h1M422 58.32h2M374 62.98h1M443 62.98h1M451 67.64h1M385 76.96h1M449 90.93h1M443 95.59h1M378 118.88h1" stroke="#501090" stroke-width="4.66" shape-rendering="crispEdges"/>
<path d="M382 35.03h1M368 49.01h1M379 62.98h1M448 67.64h1M367 72.30h2M427 76.96h1M367 81.62h1M410 81.62h2M419 81.62h2M433 81.62h1M454 81.62h1M467 81.62h1M469 81.62h3M481 81.62h1M370 86.27h1M401 86.27h1M411 86.27h1M422 86.27h1M438 86.27h1M458 86.27h1M463 86.27h1M465 86.27h1M468 86.27h2M473 86.27h1M480 86.27h1M489 86.27h2M370 90.93h1M374 90.93h1M387 90.93h1M401 90.93h1M406 90.93h1M413 90.93h1M419 90.93h1M423 90.93h1M433 90.93h1M437 90.93h1M469 90.93h2M489 90.93h1M384 95.59h1M374 109.57h1M394 109.57h1M435 109.57h1M441 109.57h1M445 109.57h1M397 114.23h1M409 114.23h1M369 118.88h1M439 118.88h1M443 118.88h1M372 132.86h1M374 132.86h3M378 132.86h1M380 132.86h1M397 132.86h1M399 132.86h3M403 132.86h3M408 132.86h1M412 132.86h3M418 132.86h1M420 132.86h1M424 132.86h1M427 132.86h1M432 132.86h2M436 132.86h1M454 132.86h1M459 132.86h2M462 132.86h1M482 132.86h1M489 132.86h1M367 137.52h1M375 137.52h1M380 137.52h1M384 137.52h1M386 137.52h1M388 137.52h1M391 137.52h1M393 137.52h1M396 137.52h3M401 137.52h1M404 137.52h1M418 137.52h1M422 137.52h1M427 137.52h1M431 137.52h3M437 137.52h1M444 137.52h2M449 137.52h2M455 137.52h1M477 137.52h1M479 137.52h1M486 137.52h1M489 137.52h1M366 142.18h1M369 142.18h1M371 142.18h1M373 142.18h2M377 142.18h1M387 142.18h2M391 142.18h1M398 142.18h1M402 142.18h1M407 142.18h2M412 142.18h1M415 142.18h1M417 142.18h1M426 142.18h2M429 142.18h1M442 142.18h1M444 142.18h3M448 142.18h1M450 142.18h1M453 142.18h1M454 142.18h1M459 142.18h2M462 142.18h1M476 142.18h2M378 146.84h2M382 146.84h1M385 146.84h2M389 146.84h2M397 146.84h1M403 146.84h1M405 146.84h1M407 146.84h1M409 146.84h2M412 146.84h1M420 146.84h1M431 146.84h1M433 146.84h1M437 146.84h1M445 146.84h1M452 146.84h2M456 146.84h1M464 146.84h2M470 146.84h1M475 146.84h1M482 146.84h2M488 146.84h1M366 151.49h1M377 151.49h1M382 151.49h1M390 151.49h1M394 151.49h1M401 151.49h1M412 151.49h1M414 151.49h1M426 151.49h1M442 151.49h1M454 151.49h1M456 151.49h1M460 151.49h1M462 151.49h1M466 151.49h1M471 151.49h1M489 151.49h1M365 156.15h1M367 156.15h1M370 156.15h1M392 156.15h2M395 156.15h5M403 156.15h1M409 156.15h1M418 156.15h1M422 156.15h1M426 156.15h1M428 156.15h1M431 156.15h1M434 156.15h1M438 156.15h1M444 156.15h1M447 156.15h1M449 156.15h4M454 156.15h2M459 156.15h2M463 156.15h1M465 156.15h1M467 156.15h1M469 156.15h2M478 156.15h1M482 156.15h3M365 160.81h3M369 160.81h1M378 160.81h2M380 160.81h2M383 160.81h1M385 160.81h1M388 160.81h1M390 160.81h1M393 160.81h1M394 160.81h1M399 160.81h1M404 160.81h1M407 160.81h1M410 160.81h1M422 160.81h1M429 160.81h2M433 160.81h1M436 160.81h2M441 160.81h1M443 160.81h2M446 160.81h1M448 160.81h1M451 160.81h1M455 160.81h2M460 160.81h3M464 160.81h1M467 160.81h2M470 160.81h1M474 160.81h1M478 160.81h1M480 160.81h2M482 160.81h1M484 160.81h2M366 165.47h1M368 165.47h1M375 165.47h1M379 165.47h1M381 165.47h1M383 165.47h1M385 165.47h1M392 165.47h1M394 165.47h1M423 165.47h1M426 165.47h4M438 165.47h1M445 165.47h1M448 165.47h2M462 165.47h2M477 165.47h1" stroke="#4010b0" stroke-width="4.66" shape-rendering="crispEdges"/>
<path d="M383 35.03h1M412 35.03h1M411 39.69h1M442 44.35h1M446 44.35h1M369 49.01h1M457 49.01h1M482 49.01h1M417 53.66h1M440 58.32h1M467 62.98h1M471 67.64h2M379 72.30h1M397 72.30h1M404 81.62h1M423 81.62h1M474 81.62h1M367 90.93h1M474 90.93h1M380 95.59h1M447 95.59h1M450 95.59h1M367 114.23h1M378 114.23h1M406 114.23h1M416 114.23h1M460 114.23h1M478 114.23h1M376 118.88h1M404 118.88h1M447 118.88h1" stroke="#6010d0" stroke-width="4.66" shape-rendering="crispEdges"/>
<path d="M384 35.03h2M391 35.03h1M401 35.03h1M406 35.03h1M414 35.03h1M470 35.03h1M474 35.03h1M395 39.69h1M415 39.69h1M422 39.69h1M410 44.35h1M412 44.35h1M445 44.35h1M450 44.35h2M379 49.01h1M421 49.01h1M425 49.01h1M430 49.01h1M467 49.01h1M473 49.01h1M477 49.01h1M481 49.01h1M486 49.01h1M489 49.01h1M376 53.66h1M423 53.66h1M432 53.66h1M437 53.66h1M467 53.66h1M471 53.66h2M368 58.32h1M371 58.32h2M427 58.32h1M370 62.98h1M433 62.98h1M435 62.98h1M437 62.98h2M454 62.98h2M458 62.98h1M466 62.98h1M468 62.98h1M470 62.98h1M475 62.98h1M477 62.98h1M484 62.98h1M489 62.98h1M368 67.64h1M375 67.64h1M381 67.64h1M383 67.64h2M388 67.64h1M394 67.64h1M402 67.64h1M417 67.64h2M460 67.64h2M463 67.64h1M468 67.64h1M470 67.64h1M476 67.64h2M479 67.64h1M481 67.64h1M483 67.64h1M486 67.64h1M489 67.64h2M369 72.30h1M372 72.30h3M380 72.30h1M389 72.30h1M393 72.30h1M395 72.30h1M401 72.30h1M403 72.30h1M407 72.30h1M426 72.30h1M428 72.30h2M435 72.30h1M438 72.30h1M464 72.30h2M466 72.30h1M475 72.30h1M477 72.30h1M482 72.30h1M368 76.96h1M371 76.96h2M382 76.96h1M392 76.96h1M396 76.96h3M400 76.96h2M405 76.96h1M419 76.96h1M424 76.96h1M426 76.96h1M447 76.96h1M457 76.96h2M463 76.96h1M466 76.96h1M475 76.96h1M476 76.96h2M480 76.96h1M482 76.96h2M485 76.96h1M487 76.96h1M488 76.96h1M390 81.62h1M393 81.62h1M427 81.62h1M434 81.62h1M413 86.27h1M460 86.27h1M416 90.93h1M444 90.93h1M447 90.93h1M365 95.59h1M371 95.59h1M374 95.59h1M387 95.59h1M411 95.59h1M413 95.59h1M418 95.59h1M421 95.59h2M427 95.59h1M434 95.59h1M436 95.59h2M457 95.59h1M463 95.59h1M469 95.59h1M474 95.59h1M478 95.59h2M482 95.59h1M366 100.25h1M369 100.25h3M381 100.25h1M383 100.25h1M389 100.25h1M393 100.25h1M409 100.25h1M414 100.25h2M426 100.25h1M429 100.25h1M434 100.25h1M437 100.25h2M439 100.25h1M442 100.25h1M445 100.25h1M449 100.25h1M460 100.25h1M465 100.25h1M473 100.25h1M476 100.25h1M480 100.25h2M489 100.25h1M380 104.91h2M386 104.91h1M390 104.91h3M396 104.91h1M398 104.91h1M401 104.91h1M403 104.91h1M406 104.91h1M411 104.91h1M417 104.91h1M421 104.91h1M427 104.91h1M431 104.91h2M440 104.91h1M446 104.91h2M450 104.91h1M471 104.91h1M473 104.91h2M371 114.23h1M377 114.23h1M396 114.23h1M405 114.23h1M422 114.23h1M432 114.23h1M434 114.23h1M440 114.23h1M448 114.23h1M450 114.23h2M453 114.23h1M464 114.23h1M467 114.23h1M480 114.23h1M381 118.88h1M396 118.88h1M400 118.88h1M402 118.88h1M407 118.88h2M409 118.88h1M415 118.88h2M420 118.88h4M428 118.88h1M431 118.88h4M441 118.88h2M444 118.88h1M451 118.88h3M454 118.88h1M464 118.88h1M468 118.88h2M479 118.88h1M488 118.88h1M365 123.54h7M373 123.54h1M376 123.54h4M380 123.54h2M384 123.54h3M388 123.54h4M394 123.54h7M402 123.54h2M406 123.54h1M409 123.54h8M418 123.54h5M439 123.54h4M444 123.54h1M447 123.54h2M450 123.54h1M452 123.54h2M455 123.54h1M457 123.54h3M462 123.54h1M464 123.54h2M468 123.54h8M476 123.54h2M479 123.54h2M482 123.54h2M485 123.54h1M487 123.54h1M489 123.54h2M365 128.20h4M370 128.20h3M374 128.20h1M376 128.20h1M379 128.20h1M381 128.20h4M386 128.20h8M395 128.20h5M401 128.20h7M409 128.20h7M418 128.20h6M439 128.20h2M442 128.20h7M450 128.20h4M455 128.20h1M457 128.20h2M463 128.20h3M466 128.20h8M475 128.20h1M476 128.20h3M480 128.20h2M482 128.20h6M489 128.20h2" stroke="#7010f0" stroke-width="4.66" shape-rendering="crispEdges"/>
<path d="M386 35.03h1M448 44.35h1M463 72.30h1M461 81.62h1M431 109.57h1M418 118.88h1M368 132.86h1M370 132.86h1M382 132.86h1M384 132.86h1M417 132.86h1M419 132.86h1M425 132.86h1M429 132.86h1M435 132.86h1M456 132.86h1M463 132.86h1M465 132.86h1M479 132.86h2M490 132.86h1M365 137.52h1M374 137.52h1M378 137.52h1M382 137.52h1M399 137.52h1M406 137.52h1M417 137.52h1M419 137.52h3M423 137.52h1M424 137.52h1M429 137.52h1M434 137.52h1M440 137.52h2M446 137.52h1M448 137.52h1M452 137.52h1M456 137.52h2M462 137.52h1M478 137.52h1M487 137.52h1M365 142.18h1M375 142.18h1M381 142.18h1M390 142.18h1M395 142.18h1M397 142.18h1M399 142.18h2M406 142.18h1M422 142.18h1M431 142.18h1M434 142.18h2M438 142.18h1M440 142.18h1M465 142.18h1M478 142.18h1M487 142.18h1M365 146.84h1M376 146.84h1M383 146.84h1M400 146.84h1M418 146.84h1M423 146.84h1M425 146.84h1M432 146.84h1M438 146.84h1M439 146.84h1M442 146.84h1M446 146.84h2M458 146.84h1M466 146.84h1M473 146.84h1M485 146.84h1M369 151.49h1M385 151.49h1M391 151.49h2M396 151.49h1M402 151.49h1M406 151.49h1M421 151.49h1M423 151.49h1M435 151.49h1M439 151.49h3M451 151.49h1M455 151.49h1M457 151.49h1M467 151.49h1M482 151.49h1M484 151.49h1M369 156.15h1M376 156.15h4M380 156.15h1M388 156.15h2M406 156.15h1M411 156.15h1M415 156.15h2M473 156.15h1M476 156.15h1M479 156.15h1M485 156.15h1M371 160.81h1M391 160.81h1M395 160.81h1M402 160.81h1M414 160.81h1M416 160.81h2M423 160.81h1M427 160.81h2M449 160.81h2M453 160.81h1M471 160.81h2M479 160.81h1M373 165.47h1M382 165.47h1M414 165.47h1M417 165.47h1M439 165.47h1M441 165.47h1M485 165.47h1" stroke="#3010b0" stroke-width="4.66" shape-rendering="crispEdges"/>
<path d="M387 35.03h1M417 39.69h1M456 49.01h1M377 58.32h1M395 67.64h1M377 72.30h1M399 76.96h1M473 76.96h1M376 81.62h1M389 81.62h1M394 81.62h1M396 81.62h1M398 81.62h1M412 81.62h1M422 81.62h1M428 81.62h1M435 81.62h1M455 81.62h1M457 81.62h1M476 81.62h1M479 81.62h1M486 81.62h1M367 86.27h1M369 86.27h1M376 86.27h1M378 86.27h1M380 86.27h1M383 86.27h1M390 86.27h1M393 86.27h1M394 86.27h1M397 86.27h1M400 86.27h1M402 86.27h1M405 86.27h1M421 86.27h1M429 86.27h1M433 86.27h1M437 86.27h1M455 86.27h2M461 86.27h1M467 86.27h1M471 86.27h1M477 86.27h1M371 90.93h3M386 90.93h1M388 90.93h1M395 90.93h2M400 90.93h1M415 90.93h1M427 90.93h1M432 90.93h1M435 90.93h2M440 90.93h1M459 90.93h1M461 90.93h1M471 90.93h2M481 90.93h1M485 90.93h3M451 95.59h1M397 109.57h1M365 114.23h1M384 114.23h1M395 114.23h1M419 114.23h1M431 114.23h1M456 114.23h1M367 118.88h1M398 118.88h1M430 118.88h1M472 118.88h1M398 132.86h1M407 132.86h1M409 132.86h2M416 132.86h1M439 132.86h1M452 132.86h1M372 137.52h1M392 137.52h1M428 137.52h1M459 137.52h1M368 142.18h1M394 142.18h1M396 142.18h1M401 142.18h1M404 142.18h1M413 142.18h1M430 142.18h1M443 142.18h1M457 142.18h1M481 142.18h1M421 146.84h1M422 151.49h1M487 151.49h1M371 156.15h1M374 156.15h1M402 156.15h1M419 156.15h1M421 156.15h1M423 156.15h1M430 156.15h1M432 156.15h1M457 156.15h1M472 156.15h1M373 160.81h1M375 160.81h1M377 160.81h1M382 160.81h1M386 160.81h1M389 160.81h1M392 160.81h1M397 160.81h1M403 160.81h1M405 160.81h2M408 160.81h1M415 160.81h1M420 160.81h1M431 160.81h2M438 160.81h1M445 160.81h1M454 160.81h1M457 160.81h1M459 160.81h1M465 160.81h1M475 160.81h1M486 160.81h1M369 165.47h3M376 165.47h1M380 165.47h1M384 165.47h1M386 165.47h2M390 165.47h1M399 165.47h1M401 165.47h1M404 165.47h1M406 165.47h3M410 165.47h1M413 165.47h1M418 165.47h2M421 165.47h2M430 165.47h3M436 165.47h2M440 165.47h1M442 165.47h2M450 165.47h2M454 165.47h3M459 165.47h1M464 165.47h2M476 165.47h1M478 165.47h4M482 165.47h1M487 165.47h1" stroke="#4010c0" stroke-width="4.66" shape-rendering="crispEdges"/>
<path d="M388 35.03h1M415 35.03h1M419 35.03h1M419 39.69h1M452 39.69h1M414 44.35h1M366 49.01h1M427 49.01h1M462 49.01h1M410 53.66h1M366 58.32h1M413 62.98h1M400 67.64h1M432 67.64h1M370 72.30h1M392 72.30h1M471 72.30h1M443 76.96h1M381 95.59h1M467 95.59h1M448 104.91h1M389 118.88h1" stroke="#7010e0" stroke-width="4.66" shape-rendering="crispEdges"/>
<path d="M389 35.03h1M420 35.03h1M418 53.66h1M420 53.66h1M415 58.32h1M451 62.98h1M438 67.64h1M441 72.30h1M385 90.93h1M460 90.93h1M383 95.59h1M393 95.59h1M448 95.59h1M371 118.88h1M393 118.88h1" stroke="#401090" stroke-width="4.66" shape-rendering="crispEdges"/>
<path d="M390 35.03h1M394 35.03h2M398 35.03h2M407 35.03h2M421 35.03h1M424 35.03h1M426 35.03h1M428 35.03h1M432 35.03h2M437 35.03h1M467 35.03h1M472 35.03h2M475 35.03h1M480 35.03h2M488 35.03h1M490 35.03h1M382 39.69h1M386 39.69h2M391 39.69h1M394 39.69h1M396 39.69h1M398 39.69h6M406 39.69h3M409 39.69h1M414 39.69h1M447 39.69h1M449 39.69h1M466 39.69h1M468 39.69h2M472 39.69h1M474 39.69h2M476 39.69h1M479 39.69h1M481 39.69h1M380 44.35h3M384 44.35h2M392 44.35h2M394 44.35h1M396 44.35h1M400 44.35h1M402 44.35h1M404 44.35h3M413 44.35h1M415 44.35h1M417 44.35h2M420 44.35h2M425 44.35h1M430 44.35h1M433 44.35h2M436 44.35h1M453 44.35h1M466 44.35h1M475 44.35h1M476 44.35h1M478 44.35h1M426 49.01h1M432 49.01h7M461 49.01h1M464 49.01h1M466 49.01h1M470 49.01h1M472 49.01h1M475 49.01h1M476 49.01h1M478 49.01h3M485 49.01h1M487 49.01h1M488 49.01h1M365 53.66h2M368 53.66h1M370 53.66h1M372 53.66h3M377 53.66h2M424 53.66h1M428 53.66h1M431 53.66h1M433 53.66h4M438 53.66h1M454 53.66h1M456 53.66h1M461 53.66h3M470 53.66h1M474 53.66h2M481 53.66h1M482 53.66h3M486 53.66h1M489 53.66h2M378 58.32h1M414 58.32h1M425 58.32h2M430 58.32h2M435 58.32h1M454 58.32h1M456 58.32h2M460 58.32h2M463 58.32h3M466 58.32h1M468 58.32h1M472 58.32h1M474 58.32h2M476 58.32h1M478 58.32h2M483 58.32h2M487 58.32h1M489 58.32h2M365 62.98h1M409 62.98h1M419 62.98h1M424 62.98h3M431 62.98h1M456 62.98h1M461 62.98h1M464 62.98h1M473 62.98h2M478 62.98h1M480 62.98h1M483 62.98h1M485 62.98h1M487 62.98h1M490 62.98h1M398 67.64h1M403 67.64h1M408 67.64h1M410 67.64h1M419 67.64h1M427 67.64h1M458 67.64h1M469 67.64h1M473 67.64h1M480 67.64h1M482 67.64h1M487 67.64h1M365 72.30h1M381 72.30h2M384 72.30h3M390 72.30h2M404 72.30h2M408 72.30h1M418 72.30h1M424 72.30h2M436 72.30h1M448 72.30h1M451 72.30h1M455 72.30h1M459 72.30h2M462 72.30h1M468 72.30h1M480 72.30h2M487 72.30h1M488 72.30h3M366 76.96h2M369 76.96h1M373 76.96h2M378 76.96h2M381 76.96h1M390 76.96h1M394 76.96h1M402 76.96h1M404 76.96h1M407 76.96h1M414 76.96h1M416 76.96h1M430 76.96h1M433 76.96h1M436 76.96h1M438 76.96h1M446 76.96h1M456 76.96h1M459 76.96h1M461 76.96h1M465 76.96h1M467 76.96h1M470 76.96h1M481 76.96h1M489 76.96h1M377 81.62h1M366 95.59h2M369 95.59h2M375 95.59h2M378 95.59h2M409 95.59h1M414 95.59h2M417 95.59h1M419 95.59h2M423 95.59h1M424 95.59h3M431 95.59h1M433 95.59h1M435 95.59h1M438 95.59h1M439 95.59h1M446 95.59h1M454 95.59h3M458 95.59h2M461 95.59h1M465 95.59h1M466 95.59h1M468 95.59h1M470 95.59h4M475 95.59h1M476 95.59h2M480 95.59h2M486 95.59h2M489 95.59h2M365 100.25h1M367 100.25h2M372 100.25h7M382 100.25h1M384 100.25h1M386 100.25h3M391 100.25h1M410 100.25h4M416 100.25h1M418 100.25h2M421 100.25h1M424 100.25h2M428 100.25h1M432 100.25h1M435 100.25h1M440 100.25h2M447 100.25h1M450 100.25h1M452 100.25h2M454 100.25h1M458 100.25h2M461 100.25h1M464 100.25h1M466 100.25h2M469 100.25h4M475 100.25h1M477 100.25h2M482 100.25h2M487 100.25h1M488 100.25h1M490 100.25h1M377 104.91h1M379 104.91h1M384 104.91h1M387 104.91h3M393 104.91h1M395 104.91h1M397 104.91h1M399 104.91h2M402 104.91h1M404 104.91h2M407 104.91h2M412 104.91h1M414 104.91h3M419 104.91h1M422 104.91h1M424 104.91h2M429 104.91h2M435 104.91h2M439 104.91h1M441 104.91h2M444 104.91h1M451 104.91h1M466 104.91h2M469 104.91h1M472 104.91h1M475 104.91h1M478 104.91h1M488 104.91h2M410 118.88h1M374 123.54h1M382 123.54h2M392 123.54h2M401 123.54h1M407 123.54h2M443 123.54h1M454 123.54h1M460 123.54h2M478 123.54h1M378 128.20h1M394 128.20h1M441 128.20h1M454 128.20h1M461 128.20h1M479 128.20h1M488 128.20h1M469 137.52h1M472 137.52h1M468 165.47h1M470 165.47h4M475 165.47h1" stroke="#8010ff" stroke-width="4.66" shape-rendering="crispEdges"/>
<path d="M392 35.03h1M409 35.03h1M452 35.03h1M410 39.69h1M420 39.69h2M423 39.69h1M442 39.69h1M451 39.69h1M409 44.35h1M411 44.35h1M439 44.35h1M443 44.35h1M455 49.01h1M460 49.01h1M414 53.66h1M365 58.32h1M369 58.32h1M375 58.32h1M379 58.32h1M373 62.98h1M434 62.98h1M369 67.64h1M379 67.64h1M380 67.64h1M385 67.64h1M390 67.64h4M396 67.64h2M399 67.64h1M401 67.64h1M406 67.64h1M429 67.64h1M435 67.64h1M457 67.64h1M466 67.64h2M488 67.64h1M383 72.30h1M387 72.30h1M398 72.30h1M457 72.30h1M474 72.30h1M432 76.96h1M445 76.96h1M454 76.96h1M462 76.96h1M468 76.96h1M472 76.96h1M474 76.96h1M490 76.96h1M366 81.62h1M368 81.62h1M373 81.62h1M380 81.62h1M385 81.62h2M395 81.62h1M399 81.62h1M402 81.62h1M408 81.62h1M416 81.62h2M424 81.62h1M429 81.62h2M432 81.62h1M456 81.62h1M458 81.62h1M463 81.62h1M466 81.62h1M468 81.62h1M473 81.62h1M478 81.62h1M482 81.62h2M485 81.62h1M366 86.27h1M371 86.27h1M373 86.27h1M377 86.27h1M387 86.27h1M407 86.27h1M409 86.27h2M414 86.27h1M418 86.27h3M426 86.27h1M430 86.27h2M434 86.27h2M457 86.27h1M466 86.27h1M478 86.27h1M482 86.27h1M485 86.27h1M389 90.93h1M399 90.93h1M429 90.93h1M479 90.93h1M391 95.59h1M429 95.59h1M417 100.25h1M426 104.91h1M481 104.91h1M366 114.23h1M368 114.23h1M370 114.23h1M374 114.23h3M379 114.23h1M394 114.23h1M398 114.23h2M404 114.23h1M408 114.23h1M413 114.23h1M417 114.23h1M424 114.23h1M435 114.23h1M437 114.23h2M439 114.23h1M444 114.23h1M446 114.23h1M449 114.23h1M454 114.23h2M461 114.23h1M466 114.23h1M469 114.23h1M473 114.23h3M476 114.23h2M479 114.23h1M488 114.23h1M368 118.88h1M370 118.88h1M384 118.88h1M386 118.88h1M388 118.88h1M390 118.88h1M395 118.88h1M397 118.88h1M399 118.88h1M413 118.88h2M426 118.88h2M435 118.88h1M438 118.88h1M440 118.88h1M457 118.88h1M465 118.88h1M466 118.88h1M473 118.88h1M475 118.88h1M481 118.88h1M417 123.54h1M380 128.20h1M417 128.20h1M460 128.20h1M374 165.47h1M378 165.47h1M396 165.47h1M416 165.47h1" stroke="#6010e0" stroke-width="4.66" shape-rendering="crispEdges"/>
<path d="M393 35.03h1M417 35.03h1M450 35.03h1M484 35.03h1M365 49.01h1M409 49.01h1M463 49.01h1M450 53.66h1M367 58.32h1M421 58.32h1M443 58.32h2M367 62.98h1M369 62.98h1M445 62.98h1M440 67.64h1M451 90.93h1M449 95.59h1M415 109.57h1M433 109.57h1M436 109.57h1M439 109.57h1M452 109.57h1M475 109.57h1M476 109.57h1M482 109.57h1" stroke="#200060" stroke-width="4.66" shape-rendering="crispEdges"/>
<path d="M396 35.03h2M400 35.03h1M402 35.03h4M425 35.03h1M427 35.03h1M429 35.03h1M431 35.03h1M436 35.03h1M438 35.03h1M466 35.03h1M468 35.03h1M477 35.03h3M489 35.03h1M380 39.69h2M383 39.69h3M388 39.69h3M392 39.69h2M397 39.69h1M404 39.69h2M412 39.69h2M416 39.69h1M418 39.69h1M467 39.69h1M470 39.69h2M473 39.69h1M477 39.69h2M480 39.69h1M383 44.35h1M386 44.35h1M388 44.35h4M395 44.35h1M397 44.35h3M401 44.35h1M403 44.35h1M407 44.35h2M419 44.35h1M423 44.35h1M424 44.35h1M426 44.35h2M429 44.35h1M431 44.35h2M435 44.35h1M437 44.35h2M467 44.35h2M470 44.35h5M477 44.35h1M479 44.35h3M428 49.01h1M431 49.01h1M468 49.01h2M471 49.01h1M474 49.01h1M483 49.01h2M369 53.66h1M375 53.66h1M379 53.66h1M411 53.66h1M425 53.66h1M427 53.66h1M429 53.66h2M455 53.66h1M457 53.66h1M459 53.66h2M464 53.66h2M466 53.66h1M473 53.66h1M476 53.66h1M478 53.66h3M485 53.66h1M487 53.66h1M488 53.66h1M370 58.32h1M419 58.32h1M424 58.32h1M428 58.32h2M432 58.32h3M436 58.32h3M450 58.32h1M455 58.32h1M458 58.32h2M470 58.32h2M473 58.32h1M480 58.32h2M482 58.32h1M485 58.32h2M423 62.98h1M428 62.98h2M457 62.98h1M459 62.98h2M462 62.98h1M465 62.98h1M469 62.98h1M476 62.98h1M486 62.98h1M437 67.64h1M475 67.64h1M484 67.64h1M388 72.30h1M396 72.30h1M400 72.30h1M454 72.30h1M456 72.30h1M467 72.30h1M476 72.30h1M483 72.30h1M388 76.96h1M408 76.96h1M452 76.96h1M464 76.96h1M469 76.96h1M484 76.96h1M486 76.96h1M372 95.59h2M382 95.59h1M389 95.59h1M412 95.59h1M416 95.59h1M430 95.59h1M452 95.59h1M484 95.59h2M380 100.25h1M390 100.25h1M420 100.25h1M423 100.25h1M427 100.25h1M436 100.25h1M443 100.25h2M456 100.25h1M462 100.25h2M468 100.25h1M474 100.25h1M486 100.25h1M385 104.91h1M420 104.91h1M428 104.91h1M433 104.91h1M437 104.91h1M476 104.91h1M479 104.91h1M469 165.47h1" stroke="#9010ff" stroke-width="4.66" shape-rendering="crispEdges"/>
<path d="M410 35.03h1M413 49.01h1M415 49.01h1M419 53.66h1M443 53.66h1M448 58.32h1" stroke="#501080" stroke-width="4.66" shape-rendering="crispEdges"/>
<path d="M411 35.03h1M430 35.03h1M434 35.03h2M451 35.03h1M469 35.03h1M476 35.03h1M387 44.35h1M416 44.35h1M428 44.35h1M469 44.35h1M371 49.01h1M410 49.01h1M424 49.01h1M429 49.01h1M490 49.01h1M367 53.66h1M371 53.66h1M426 53.66h1M458 53.66h1M468 53.66h2M477 53.66h1M374 58.32h1M462 58.32h1M467 58.32h1M469 58.32h1M477 58.32h1M488 58.32h1M372 62.98h1M421 62.98h1M430 62.98h1M432 62.98h1M436 62.98h1M463 62.98h1M471 62.98h1M479 62.98h1M482 62.98h1M488 62.98h1M404 67.64h1M462 67.64h1M465 67.64h1M474 67.64h1M399 72.30h1M402 72.30h1M409 72.30h1M432 72.30h1M439 72.30h1M444 72.30h1M458 72.30h1M470 72.30h1M472 72.30h2M478 72.30h2M485 72.30h2M403 76.96h1M406 76.96h1M410 76.96h2M417 76.96h2M423 76.96h1M425 76.96h1M435 76.96h1M453 76.96h1M455 76.96h1M368 95.59h1M377 95.59h1M388 95.59h1M410 95.59h1M428 95.59h1M432 95.59h1M460 95.59h1M462 95.59h1M464 95.59h1M483 95.59h1M488 95.59h1M385 100.25h1M392 100.25h1M422 100.25h1M430 100.25h2M433 100.25h1M446 100.25h1M448 100.25h1M451 100.25h1M455 100.25h1M457 100.25h1M479 100.25h1M484 100.25h2M368 104.91h1M382 104.91h2M394 104.91h1M409 104.91h2M413 104.91h1M418 104.91h1M423 104.91h1M434 104.91h1M438 104.91h1M443 104.91h1M445 104.91h1M449 104.91h1M452 104.91h2M468 104.91h1M477 104.91h1M480 104.91h1M490 104.91h1M457 114.23h1M462 114.23h1M406 118.88h1M412 118.88h1M450 118.88h1M459 118.88h1M462 118.88h1M372 123.54h1M375 123.54h1M404 123.54h2M423 123.54h1M445 123.54h2M449 123.54h1M451 123.54h1M456 123.54h1M463 123.54h1M466 123.54h2M484 123.54h1M486 123.54h1M488 123.54h1M369 128.20h1M373 128.20h1M375 128.20h1M377 128.20h1M408 128.20h1M416 128.20h1M459 128.20h1M462 128.20h1M474 128.20h1M467 165.47h1" stroke="#8010f0" stroke-width="4.66" shape-rendering="crispEdges"/>
<path d="M413 35.03h1M423 35.03h1M444 44.35h1M375 49.01h1M411 49.01h1M458 49.01h1M415 53.66h2M447 58.32h1M451 58.32h1M481 62.98h1M382 67.64h1M386 67.64h2M446 67.64h1M454 67.64h1M394 72.30h1M484 72.30h1M428 76.96h1M431 76.96h1M437 76.96h1M478 76.96h1M369 81.62h1M371 81.62h1M374 81.62h1M381 81.62h1M383 81.62h2M387 81.62h2M392 81.62h1M403 81.62h1M405 81.62h1M409 81.62h1M421 81.62h1M425 81.62h2M431 81.62h1M436 81.62h1M459 81.62h1M462 81.62h1M477 81.62h1M484 81.62h1M487 81.62h1M488 81.62h2M374 86.27h2M381 86.27h2M385 86.27h1M388 86.27h1M398 86.27h1M404 86.27h1M406 86.27h1M408 86.27h1M417 86.27h1M423 86.27h1M424 86.27h1M436 86.27h1M454 86.27h1M474 86.27h2M479 86.27h1M484 86.27h1M487 86.27h1M488 86.27h1M369 90.93h1M379 90.93h1M381 90.93h1M392 90.93h1M404 90.93h1M410 90.93h1M417 90.93h2M420 90.93h2M434 90.93h1M450 90.93h1M455 90.93h1M463 90.93h1M466 90.93h2M476 90.93h1M483 90.93h1M369 114.23h1M381 114.23h1M387 114.23h1M393 114.23h1M400 114.23h1M402 114.23h1M407 114.23h1M412 114.23h1M414 114.23h2M418 114.23h1M420 114.23h1M423 114.23h1M425 114.23h2M429 114.23h2M433 114.23h1M436 114.23h1M442 114.23h1M447 114.23h1M458 114.23h1M463 114.23h1M468 114.23h1M470 114.23h2M481 114.23h1M490 114.23h1M373 118.88h1M387 118.88h1M405 118.88h1M417 118.88h1M436 118.88h1M446 118.88h1M449 118.88h1M460 118.88h2M467 118.88h1M470 118.88h1M474 118.88h1M478 118.88h1M480 118.88h1M489 118.88h1M424 160.81h1M442 160.81h1M367 165.47h1M372 165.47h1M377 165.47h1M389 165.47h1M391 165.47h1M393 165.47h1M395 165.47h1M400 165.47h1M402 165.47h2M409 165.47h1M411 165.47h1M415 165.47h1M424 165.47h1M434 165.47h2M444 165.47h1M446 165.47h2M452 165.47h1M457 165.47h2M461 165.47h1M483 165.47h1M486 165.47h1" stroke="#5010d0" stroke-width="4.66" shape-rendering="crispEdges"/>
<path d="M418 35.03h1M439 39.69h1M450 39.69h1M440 49.01h1M444 49.01h1M459 49.01h1M465 49.01h1M394 53.66h1M442 53.66h1M441 58.32h1M371 62.98h1M378 62.98h1M377 67.64h1M441 67.64h1M378 81.62h1M397 81.62h1M439 90.93h1M465 90.93h1M386 95.59h1M416 109.57h1M391 118.88h1" stroke="#301080" stroke-width="4.66" shape-rendering="crispEdges"/>
<path d="M422 35.03h1" stroke="#101030" stroke-width="4.66" shape-rendering="crispEdges"/>
<path d="M443 35.03h1M383 49.01h1M423 49.01h1M442 49.01h1M449 49.01h1M382 53.66h1M378 67.64h1M444 67.64h1M444 76.96h1M445 90.93h1" stroke="#000020" stroke-width="4.66" shape-rendering="crispEdges"/>
<path d="M445 35.03h1" stroke="#301060" stroke-width="4.66" shape-rendering="crispEdges"/>
<path d="M447 35.03h1M443 49.01h1M448 53.66h1M365 67.64h1M376 67.64h1M444 95.59h2M402 109.57h1" stroke="#100040" stroke-width="4.66" shape-rendering="crispEdges"/>
<path d="M448 35.03h1M415 76.96h1M466 142.18h1" stroke="#603080" stroke-width="4.66" shape-rendering="crispEdges"/>
<path d="M449 35.03h1M443 39.69h1M388 49.01h1M404 58.32h1" stroke="#100020" stroke-width="4.66" shape-rendering="crispEdges"/>
<path d="M453 35.03h1M453 39.69h1M370 49.01h1M370 67.64h2M442 76.96h1M426 90.93h1M490 90.93h1" stroke="#301070" stroke-width="4.66" shape-rendering="crispEdges"/>
<path d="M454 35.03h1M446 39.69h1M420 49.01h1M445 49.01h1M390 58.32h1M379 118.88h1M382 118.88h1" stroke="#100030" stroke-width="4.66" shape-rendering="crispEdges"/>
<path d="M455 35.03h1M399 95.59h1M395 100.25h1M397 100.25h1M426 123.54h1M489 160.81h1" stroke="#e0e010" stroke-width="4.66" shape-rendering="crispEdges"/>
<path d="M456 35.03h1M449 62.98h1" stroke="#604070" stroke-width="4.66" shape-rendering="crispEdges"/>
<path d="M457 35.03h1M445 81.62h1M448 86.27h1M369 104.91h1M459 104.91h1M426 128.20h1" stroke="#c0d000" stroke-width="4.66" shape-rendering="crispEdges"/>
<path d="M458 35.03h1M482 44.35h1M380 49.01h1M400 100.25h1M378 104.91h1M462 104.91h1M471 137.52h1M481 151.49h1" stroke="#90a000" stroke-width="4.66" shape-rendering="crispEdges"/>
<path d="M459 35.03h1M449 53.66h1M441 86.27h1M480 151.49h1" stroke="#808000" stroke-width="4.66" shape-rendering="crispEdges"/>
<path d="M460 35.03h1M483 35.03h1M381 49.01h1M439 49.01h1M421 53.66h1M445 53.66h1M402 90.93h1" stroke="#200050" stroke-width="4.66" shape-rendering="crispEdges"/>
<path d="M461 35.03h1M455 39.69h1M385 53.66h1M387 58.32h1" stroke="#505000" stroke-width="4.66" shape-rendering="crispEdges"/>
<path d="M462 35.03h1M488 44.35h1M414 62.98h1M440 81.62h1M451 81.62h1" stroke="#506000" stroke-width="4.66" shape-rendering="crispEdges"/>
<path d="M463 35.03h2M414 67.64h1M405 100.25h1M408 100.25h1M470 137.52h1" stroke="#a0a010" stroke-width="4.66" shape-rendering="crispEdges"/>
<path d="M471 35.03h1M445 39.69h1M374 49.01h1M454 49.01h1M409 53.66h1M449 58.32h1M366 67.64h1M374 67.64h1M407 67.64h1M424 67.64h1M456 67.64h1M371 72.30h1M375 72.30h1M461 72.30h1M469 72.30h1M386 76.96h1M391 76.96h1M395 76.96h1M434 76.96h1M460 76.96h1M479 76.96h1M382 81.62h1M407 81.62h1M413 81.62h1M415 81.62h1M418 81.62h1M437 81.62h1M460 81.62h1M464 81.62h2M472 81.62h1M480 81.62h1M365 86.27h1M384 86.27h1M389 86.27h1M415 86.27h2M470 86.27h1M486 86.27h1M375 90.93h1M453 90.93h1M478 90.93h1M484 90.93h1M385 95.59h1M372 114.23h1M421 114.23h1M441 114.23h1M452 114.23h1M392 118.88h1M394 118.88h1M411 118.88h1M429 118.88h1M448 118.88h1M455 118.88h1M463 118.88h1M393 132.86h1M372 160.81h1M398 160.81h1M425 160.81h1M434 160.81h1M439 160.81h1M483 160.81h1M365 165.47h1M388 165.47h1M425 165.47h1M433 165.47h1M460 165.47h1" stroke="#5010c0" stroke-width="4.66" shape-rendering="crispEdges"/>
<path d="M482 35.03h1M375 44.35h1M464 44.35h1M440 62.98h1M443 86.27h1" stroke="#606000" stroke-width="4.66" shape-rendering="crispEdges"/>
<path d="M486 35.03h1M388 114.23h1" stroke="#907070" stroke-width="4.66" shape-rendering="crispEdges"/>
<path d="M365 39.69h2M369 39.69h1M371 39.69h1M373 39.69h1M375 39.69h1M379 39.69h1M424 39.69h4M430 39.69h2M433 39.69h1M438 39.69h1M456 39.69h1M459 39.69h2M486 39.69h2M441 44.35h1M386 49.01h1M401 49.01h2M406 49.01h1M401 53.66h1M404 53.66h1M406 53.66h2M444 53.66h1M380 58.32h1M401 58.32h1M380 62.98h1M383 62.98h1M386 62.98h1M388 62.98h1M398 62.98h1M404 62.98h2M407 62.98h2M447 62.98h1M449 76.96h1" stroke="#000000" stroke-width="4.66" shape-rendering="crispEdges"/>
<path d="M367 39.69h1M488 39.69h1M376 44.35h1M379 44.35h1M484 44.35h1M400 53.66h1" stroke="#303000" stroke-width="4.66" shape-rendering="crispEdges"/>
<path d="M372 39.69h1M386 53.66h1M443 67.64h1" stroke="#202010" stroke-width="4.66" shape-rendering="crispEdges"/>
<path d="M376 39.69h1M393 58.32h1" stroke="#405000" stroke-width="4.66" shape-rendering="crispEdges"/>
<path d="M428 39.69h1M383 58.32h1M416 58.32h1M392 62.98h1" stroke="#001000" stroke-width="4.66" shape-rendering="crispEdges"/>
<path d="M441 39.69h1" stroke="#202040" stroke-width="4.66" shape-rendering="crispEdges"/>
<path d="M448 39.69h1M418 49.01h1M451 49.01h1M418 58.32h1M439 67.64h1M383 76.96h1M439 76.96h1M372 81.62h1M400 81.62h2M379 86.27h1M386 86.27h1M428 86.27h1M411 90.93h1M424 90.93h2M438 90.93h1M448 90.93h1M458 90.93h1M475 90.93h1M482 90.93h1M368 109.57h3M373 109.57h1M376 109.57h1M383 109.57h1M391 109.57h1M398 109.57h1M400 109.57h1M403 109.57h1M410 109.57h1M414 109.57h1M423 109.57h1M427 109.57h1M429 109.57h1M446 109.57h1M466 109.57h1M471 109.57h1M474 109.57h1M479 109.57h1M489 109.57h1M365 132.86h1M373 132.86h1M406 132.86h1M428 132.86h1M430 132.86h1M437 132.86h1M455 132.86h1M457 132.86h1M464 132.86h1M477 132.86h1M481 132.86h1M486 132.86h1M405 137.52h1M408 137.52h1M413 137.52h1M426 137.52h1M447 137.52h1M463 137.52h1M476 137.52h1M490 137.52h1M367 142.18h1M378 142.18h1M382 142.18h1M386 142.18h1M410 142.18h1M416 142.18h1M418 142.18h1M423 142.18h1M424 142.18h1M432 142.18h1M437 142.18h1M441 142.18h1M451 142.18h1M464 142.18h1M479 142.18h1M482 142.18h1M488 142.18h1M367 146.84h1M374 146.84h2M381 146.84h1M384 146.84h1M404 146.84h1M411 146.84h1M413 146.84h1M424 146.84h1M428 146.84h1M435 146.84h1M441 146.84h1M449 146.84h1M460 146.84h1M471 146.84h2M489 146.84h1M370 151.49h1M372 151.49h3M384 151.49h1M393 151.49h1M395 151.49h1M397 151.49h1M400 151.49h1M403 151.49h1M409 151.49h1M415 151.49h1M418 151.49h1M431 151.49h2M436 151.49h2M444 151.49h2M459 151.49h1M465 151.49h1M468 151.49h1M486 151.49h1M368 156.15h1M391 156.15h1M401 156.15h1M407 156.15h1M425 156.15h1M487 156.15h1M370 160.81h1M400 160.81h1M409 160.81h1M458 160.81h1" stroke="#301090" stroke-width="4.66" shape-rendering="crispEdges"/>
<path d="M365 44.35h1M396 95.59h1M458 104.91h1M430 123.54h1" stroke="#e0e000" stroke-width="4.66" shape-rendering="crispEdges"/>
<path d="M366 44.35h1M381 53.66h1M384 53.66h1M444 81.62h1M469 132.86h1" stroke="#607000" stroke-width="4.66" shape-rendering="crispEdges"/>
<path d="M368 44.35h1M370 76.96h1M453 86.27h1M403 100.25h1M456 104.91h1M475 142.18h1" stroke="#b0c000" stroke-width="4.66" shape-rendering="crispEdges"/>
<path d="M369 44.35h1M479 151.49h1" stroke="#d0d000" stroke-width="4.66" shape-rendering="crispEdges"/>
<path d="M371 44.35h1M377 44.35h2M390 53.66h1M397 62.98h1M450 62.98h1" stroke="#203000" stroke-width="4.66" shape-rendering="crispEdges"/>
<path d="M422 44.35h1M373 58.32h1M472 62.98h1M389 67.64h1M405 67.64h1M459 67.64h1M464 67.64h1M485 67.64h1M406 72.30h1M429 76.96h1M440 76.96h1M414 81.62h1M368 86.27h1M395 86.27h1M403 86.27h1M425 86.27h1M427 86.27h1M468 90.93h1M488 90.93h1M441 95.59h1M379 100.25h1M470 104.91h1M373 114.23h1M382 114.23h1M386 114.23h1M401 114.23h1M403 114.23h1M410 114.23h2M427 114.23h2M443 114.23h1M445 114.23h1M472 114.23h1M489 114.23h1M419 118.88h1M424 118.88h2M437 118.88h1M445 118.88h1M456 118.88h1M458 118.88h1M471 118.88h1M476 118.88h2M387 123.54h1M481 123.54h1M385 128.20h1M400 128.20h1M449 128.20h1M456 128.20h1" stroke="#6010f0" stroke-width="4.66" shape-rendering="crispEdges"/>
<path d="M447 44.35h1M376 62.98h2M415 62.98h1M433 67.64h1M376 72.30h1M384 76.96h1M370 81.62h1M396 86.27h1M366 118.88h1M403 118.88h1" stroke="#5010b0" stroke-width="4.66" shape-rendering="crispEdges"/>
<path d="M449 44.35h1M376 49.01h1M376 58.32h1M393 76.96h1M450 76.96h1M477 90.93h1M442 95.59h1" stroke="#5010a0" stroke-width="4.66" shape-rendering="crispEdges"/>
<path d="M454 44.35h1" stroke="#302050" stroke-width="4.66" shape-rendering="crispEdges"/>
<path d="M455 44.35h1M465 44.35h1M391 53.66h1" stroke="#707010" stroke-width="4.66" shape-rendering="crispEdges"/>
<path d="M459 44.35h1M392 58.32h1M385 62.98h1M395 62.98h1" stroke="#102000" stroke-width="4.66" shape-rendering="crispEdges"/>
<path d="M483 44.35h1M387 53.66h1M396 58.32h1M406 62.98h1" stroke="#304000" stroke-width="4.66" shape-rendering="crispEdges"/>
<path d="M489 44.35h2M386 58.32h1M453 62.98h1M449 86.27h1M459 109.57h1M474 165.47h1" stroke="#707000" stroke-width="4.66" shape-rendering="crispEdges"/>
<path d="M377 49.01h1M422 49.01h1M367 67.64h1M434 67.64h1M365 81.62h1M375 81.62h1M406 81.62h1M438 81.62h1M459 86.27h1M378 90.93h1M430 90.93h1M380 118.88h1M401 118.88h1" stroke="#4010a0" stroke-width="4.66" shape-rendering="crispEdges"/>
<path d="M378 49.01h1M436 67.64h1M449 67.64h1M448 76.96h1M383 118.88h1" stroke="#200070" stroke-width="4.66" shape-rendering="crispEdges"/>
<path d="M416 49.01h1M453 53.66h1" stroke="#302060" stroke-width="4.66" shape-rendering="crispEdges"/>
<path d="M417 49.01h1" stroke="#703080" stroke-width="4.66" shape-rendering="crispEdges"/>
<path d="M441 49.01h1" stroke="#806060" stroke-width="4.66" shape-rendering="crispEdges"/>
<path d="M447 49.01h1" stroke="#605050" stroke-width="4.66" shape-rendering="crispEdges"/>
<path d="M448 49.01h1" stroke="#402070" stroke-width="4.66" shape-rendering="crispEdges"/>
<path d="M450 49.01h1" stroke="#403050" stroke-width="4.66" shape-rendering="crispEdges"/>
<path d="M422 53.66h1M412 58.32h1M427 62.98h1M455 67.64h1M478 67.64h1M471 76.96h1" stroke="#6010c0" stroke-width="4.66" shape-rendering="crispEdges"/>
<path d="M440 53.66h1" stroke="#100010" stroke-width="4.66" shape-rendering="crispEdges"/>
<path d="M441 53.66h1" stroke="#504030" stroke-width="4.66" shape-rendering="crispEdges"/>
<path d="M447 53.66h1M418 62.98h1M412 72.30h1" stroke="#502080" stroke-width="4.66" shape-rendering="crispEdges"/>
<path d="M452 53.66h1M372 67.64h1M426 67.64h1M432 86.27h1M409 90.93h1M443 90.93h1M387 109.57h2M405 109.57h1M424 109.57h1M451 109.57h1M464 109.57h1" stroke="#201070" stroke-width="4.66" shape-rendering="crispEdges"/>
<path d="M382 58.32h1M439 62.98h1" stroke="#505010" stroke-width="4.66" shape-rendering="crispEdges"/>
<path d="M389 58.32h1" stroke="#303030" stroke-width="4.66" shape-rendering="crispEdges"/>
<path d="M413 58.32h1M404 100.25h1M466 132.86h1" stroke="#b0b010" stroke-width="4.66" shape-rendering="crispEdges"/>
<path d="M417 58.32h1M409 67.64h1M423 67.64h1M376 76.96h1" stroke="#704080" stroke-width="4.66" shape-rendering="crispEdges"/>
<path d="M420 58.32h1" stroke="#503060" stroke-width="4.66" shape-rendering="crispEdges"/>
<path d="M439 58.32h1" stroke="#807050" stroke-width="4.66" shape-rendering="crispEdges"/>
<path d="M410 62.98h1M412 76.96h1" stroke="#805080" stroke-width="4.66" shape-rendering="crispEdges"/>
<path d="M412 62.98h1M410 72.30h1M452 81.62h2M456 109.57h1M424 128.20h1" stroke="#a0b000" stroke-width="4.66" shape-rendering="crispEdges"/>
<path d="M417 62.98h1M377 76.96h1M422 76.96h1" stroke="#602080" stroke-width="4.66" shape-rendering="crispEdges"/>
<path d="M420 62.98h1M414 72.30h1M437 128.20h1M489 156.15h1" stroke="#a0a000" stroke-width="4.66" shape-rendering="crispEdges"/>
<path d="M422 62.98h1M413 67.64h1M421 67.64h1M433 72.30h1" stroke="#906080" stroke-width="4.66" shape-rendering="crispEdges"/>
<path d="M444 62.98h1" stroke="#607020" stroke-width="4.66" shape-rendering="crispEdges"/>
<path d="M373 67.64h1M368 90.93h1M380 90.93h1M383 90.93h1M391 90.93h1M393 90.93h1M428 90.93h1M377 109.57h3M382 109.57h1M384 109.57h1M386 109.57h1M393 109.57h1M396 109.57h1M399 109.57h1M404 109.57h1M406 109.57h1M408 109.57h1M409 109.57h1M412 109.57h2M417 109.57h2M428 109.57h1M434 109.57h1M437 109.57h1M440 109.57h1M444 109.57h1M449 109.57h1M453 109.57h1M460 109.57h1M467 109.57h1M469 109.57h1M472 109.57h1M478 109.57h1M483 109.57h5M490 109.57h1M410 137.52h1M453 137.52h1M485 142.18h1M417 146.84h1M461 146.84h1M474 146.84h1M399 151.49h1M427 151.49h1M429 151.49h1M450 151.49h1M469 151.49h1M474 151.49h1" stroke="#201080" stroke-width="4.66" shape-rendering="crispEdges"/>
<path d="M411 67.64h1M420 67.64h1M422 67.64h1M419 72.30h1M422 72.30h1M431 72.30h1M434 72.30h1M443 72.30h1M449 72.30h1M453 72.30h1M365 76.96h1M409 76.96h1M413 76.96h1M421 76.96h1M365 104.91h2M371 104.91h1M375 104.91h1M389 114.23h1" stroke="#b08080" stroke-width="4.66" shape-rendering="crispEdges"/>
<path d="M412 67.64h1M415 72.30h1M394 95.59h1M400 95.59h1M402 95.59h1M408 95.59h1M394 100.25h1M399 100.25h1M407 100.25h1M461 104.91h1M465 104.91h1M484 104.91h1M484 114.23h1M487 114.23h1M482 118.88h2M486 118.88h2M428 123.54h1M431 123.54h3M435 123.54h1M438 123.54h1M425 128.20h1M468 132.86h1M471 132.86h1M475 132.86h1M466 137.52h1M473 137.52h3M469 142.18h2M477 146.84h2M488 156.15h1M490 160.81h1" stroke="#f0f010" stroke-width="4.66" shape-rendering="crispEdges"/>
<path d="M415 67.64h1M430 72.30h1M468 137.52h1" stroke="#c08080" stroke-width="4.66" shape-rendering="crispEdges"/>
<path d="M416 67.64h1" stroke="#804080" stroke-width="4.66" shape-rendering="crispEdges"/>
<path d="M445 67.64h1" stroke="#302040" stroke-width="4.66" shape-rendering="crispEdges"/>
<path d="M450 67.64h1M461 109.57h1" stroke="#706050" stroke-width="4.66" shape-rendering="crispEdges"/>
<path d="M452 67.64h1" stroke="#504040" stroke-width="4.66" shape-rendering="crispEdges"/>
<path d="M411 72.30h1M447 86.27h1M464 104.91h1M486 104.91h1M424 123.54h1M436 123.54h1M435 128.20h1M467 142.18h1M476 146.84h1M479 146.84h1M478 151.49h1" stroke="#e0f000" stroke-width="4.66" shape-rendering="crispEdges"/>
<path d="M413 72.30h1M439 81.62h1M446 86.27h1M407 90.93h1M397 95.59h1M401 100.25h1M428 128.20h1M430 128.20h1" stroke="#d0e000" stroke-width="4.66" shape-rendering="crispEdges"/>
<path d="M417 72.30h1M421 72.30h1M437 72.30h1M375 76.96h1M474 142.18h1" stroke="#a07080" stroke-width="4.66" shape-rendering="crispEdges"/>
<path d="M420 72.30h1" stroke="#b0c010" stroke-width="4.66" shape-rendering="crispEdges"/>
<path d="M423 72.30h1M447 72.30h1M450 72.30h1M367 104.91h1M468 142.18h1M473 142.18h1" stroke="#c08090" stroke-width="4.66" shape-rendering="crispEdges"/>
<path d="M442 72.30h1M407 95.59h1M398 100.25h1M370 104.91h1M454 104.91h1M457 104.91h1M482 114.23h1M485 114.23h1M427 123.54h1M429 123.54h1M438 128.20h1M477 151.49h1" stroke="#f0ff20" stroke-width="4.66" shape-rendering="crispEdges"/>
<path d="M452 72.30h1M450 86.27h1M482 104.91h1" stroke="#c0d010" stroke-width="4.66" shape-rendering="crispEdges"/>
<path d="M380 76.96h1M387 76.96h1M391 81.62h1M475 81.62h1M490 81.62h1M483 86.27h1M412 90.93h1M454 90.93h1M459 114.23h1M490 118.88h1M397 165.47h1M420 165.47h1" stroke="#5010e0" stroke-width="4.66" shape-rendering="crispEdges"/>
<path d="M420 76.96h1" stroke="#806080" stroke-width="4.66" shape-rendering="crispEdges"/>
<path d="M441 76.96h1" stroke="#403040" stroke-width="4.66" shape-rendering="crispEdges"/>
<path d="M442 81.62h1M395 95.59h1M403 95.59h3M396 100.25h1M487 104.91h1M463 109.57h1M483 114.23h1M486 114.23h1M485 118.88h1M425 123.54h1M434 123.54h1M429 128.20h1M480 146.84h2M490 156.15h1M488 165.47h2" stroke="#f0ff10" stroke-width="4.66" shape-rendering="crispEdges"/>
<path d="M443 81.62h1" stroke="#708010" stroke-width="4.66" shape-rendering="crispEdges"/>
<path d="M447 81.62h1M467 132.86h1M472 132.86h1" stroke="#909010" stroke-width="4.66" shape-rendering="crispEdges"/>
<path d="M448 81.62h1M450 81.62h1M406 95.59h1M483 104.91h1M485 104.91h1M458 109.57h1M484 118.88h1M437 123.54h1M427 128.20h1M431 128.20h1M433 128.20h1" stroke="#e0f010" stroke-width="4.66" shape-rendering="crispEdges"/>
<path d="M449 81.62h1" stroke="#809010" stroke-width="4.66" shape-rendering="crispEdges"/>
<path d="M372 86.27h1M365 109.57h1M371 109.57h1M380 109.57h1M389 109.57h1M401 109.57h1M411 109.57h1M422 109.57h1M481 109.57h1M396 132.86h1M488 132.86h1M490 146.84h1M405 151.49h1M470 151.49h1M418 160.81h1" stroke="#201090" stroke-width="4.66" shape-rendering="crispEdges"/>
<path d="M451 86.27h1" stroke="#909000" stroke-width="4.66" shape-rendering="crispEdges"/>
<path d="M394 90.93h1" stroke="#a08060" stroke-width="4.66" shape-rendering="crispEdges"/>
<path d="M405 90.93h1M380 114.23h1M385 114.23h1" stroke="#a08070" stroke-width="4.66" shape-rendering="crispEdges"/>
<path d="M398 95.59h1" stroke="#a0b010" stroke-width="4.66" shape-rendering="crispEdges"/>
<path d="M401 95.59h1M460 104.91h1M391 114.23h2M434 128.20h1M436 128.20h1M474 132.86h1M471 142.18h1" stroke="#d0e010" stroke-width="4.66" shape-rendering="crispEdges"/>
<path d="M440 95.59h1M373 104.91h1M466 165.47h1" stroke="#905080" stroke-width="4.66" shape-rendering="crispEdges"/>
<path d="M402 100.25h1M455 104.91h1M463 104.91h1M432 128.20h1" stroke="#ffff20" stroke-width="4.66" shape-rendering="crispEdges"/>
<path d="M372 104.91h1" stroke="#705080" stroke-width="4.66" shape-rendering="crispEdges"/>
<path d="M374 104.91h1M470 132.86h1" stroke="#b0b000" stroke-width="4.66" shape-rendering="crispEdges"/>
<path d="M376 104.91h1" stroke="#b07080" stroke-width="4.66" shape-rendering="crispEdges"/>
<path d="M425 109.57h1M450 109.57h1" stroke="#201060" stroke-width="4.66" shape-rendering="crispEdges"/>
<path d="M454 109.57h1" stroke="#908050" stroke-width="4.66" shape-rendering="crispEdges"/>
<path d="M455 109.57h1" stroke="#c0c000" stroke-width="4.66" shape-rendering="crispEdges"/>
<path d="M462 109.57h1" stroke="#807040" stroke-width="4.66" shape-rendering="crispEdges"/>
<path d="M465 109.57h1" stroke="#202030" stroke-width="4.66" shape-rendering="crispEdges"/>
<path d="M383 114.23h1" stroke="#908060" stroke-width="4.66" shape-rendering="crispEdges"/>
<path d="M473 132.86h1M467 137.52h1M476 151.49h1M488 160.81h1" stroke="#d0d010" stroke-width="4.66" shape-rendering="crispEdges"/>
<path d="M472 142.18h1" stroke="#809000" stroke-width="4.66" shape-rendering="crispEdges"/>
<path d="M379.50 32.70V167.80M394.20 32.70V167.80M409.40 32.70V167.80M423.90 32.70V167.80M438.80 32.70V167.80M453.50 32.70V167.80M465.50 32.70V167.80M475.80 32.70V167.80M481.90 32.70V167.80M487.50 32.70V167.80" stroke="#c8b8e0" stroke-opacity="0.55" stroke-width="0.5"/>
<defs><linearGradient id="cb38" x1="0" y1="0" x2="0" y2="1">
<stop offset="0.000" stop-color="#f0f812"/>
<stop offset="0.050" stop-color="#e8f308"/>
<stop offset="0.100" stop-color="#dfec00"/>
<stop offset="0.150" stop-color="#b9c500"/>
<stop offset="0.200" stop-color="#929e00"/>
<stop offset="0.250" stop-color="#5a6300"/>
<stop offset="0.300" stop-color="#242800"/>
<stop offset="0.350" stop-color="#0c0e00"/>
<stop offset="0.400" stop-color="#010004"/>
<stop offset="0.450" stop-color="#03010c"/>
<stop offset="0.500" stop-color="#050213"/>
<stop offset="0.550" stop-color="#07031b"/>
<stop offset="0.600" stop-color="#14064b"/>
<stop offset="0.650" stop-color="#280a8c"/>
<stop offset="0.700" stop-color="#3a0db1"/>
<stop offset="0.750" stop-color="#510ed1"/>
<stop offset="0.800" stop-color="#6710ed"/>
<stop offset="0.850" stop-color="#7610f5"/>
<stop offset="0.900" stop-color="#8510fd"/>
<stop offset="0.950" stop-color="#8910fe"/>
<stop offset="1.000" stop-color="#8d10ff"/>
</linearGradient></defs>
<rect x="493.3" y="38.3" width="3.9" height="38.5" fill="url(#cb38)"/>
<path d="M493.3 43.2h1.2" stroke="#fff" stroke-width="0.5"/>
<path d="M493.3 53.7h1.2" stroke="#fff" stroke-width="0.5"/>
<path d="M493.3 64.8h1.2" stroke="#fff" stroke-width="0.5"/>
<path d="M32.8 210V325.8H177.5" fill="none" stroke="#000" stroke-width="1.35"/>
<path d="M29.6 211.2H32.8M29.6 237.5H32.8M29.6 263.6H32.8M29.6 289.8H32.8M29.6 315.9H32.8M75.6 325.8V328.8M119 325.8V328.8M162.4 325.8V328.8" stroke="#000" stroke-width="1"/>
<path d="M37.4 217.4h1m-.6 0h1m-.9 1.3h1m-.3-2.1h1m-.2.7h1m-.7-.3h1m-1 .1h1m-.4-.6h1m-.9 1.6h1m-.9-.3h1m-.7.8h1m1.3-.6h1m-.9-.1h1m3.9.9h1m.3-.1h1m-.3.1h1m2.3-.2h1m-.1-.1h1m-16.9 2.6h1m-.9.3h1m-.2.1h1m-1 .2h1m-.9.6h1m-.9 2.4h1m-.6-1.5h1m-.5.4h1m-.7-4.6h1m-.8 5.3h1m-.8-4.2h1m-.8 4.3h1m-.9-3.5h1m-1-1.7h1m-1 5.1h1m-.9-.1h1m-.7-4.2h1m-.9 1.1h1m-1-1.6h1m-.9 1.4h1m-1 1.8h1m-1 2.1h1m-.4-.8h1m-1 .2h1m-.9-2.2h1m-.8 1.5h1m-1-.2h1m-.8.6h1m.6-.6h1m-.6-.7h1m-.7-2.8h1m-.8 4.6h1m-.9-1.5h1m-.2.3h1m-.5 1.3h1m-.7-4.7h1m.7-.5h1m-.2.6h1m-.9-.1h1m3.5-.2h1m-15.1 5.6h1m.4-.1h1m-.9 5.6h1m-.9-2.4h1m-1 .7h1m-.6-3h1m-.8 4.2h1m-.9-3h1m-.9-1.2h1m-.9 2.6h1m-.5 2.1h1m-.8-1.5h1m-.3-1h1m-.3 2.6h1m-.9-.1h1m-.5-5.1h1m.4.5h1m-.8.5h1m.2 1h1m-1-1.6h1m.3 1.8h1m-.9-.5h1m-.8.9h1m-.8.6h1m-.9.7h1m.2-1.1h1m-.1-.4h1m-.2.5h1m-.7-.5h1m1.1 1.2h1m0 .9h1m-.6-1.4h1m-.9 1.6h1m0 .3h1m-1-1.8h1m-.7.1h1m0 1.1h1m0-1h1m-.2.5h1m.7-1.4h1m-.7-1.3h1m-.8-.4h1m-22 7.2h1m-.6.6h1m-.7-2h1m-.7 4.3h1m-.3-.9h1m-.8-1.5h1m-.8-2.6h1m-.9 5.5h1m-.3-.8h1m-.9-4h1m-.3 1.5h1m.1 2h1m-1-1.7h1m-1-.9h1m-.1 1.4h1m-.8.4h1m-.9-1.7h1m-.5 2.8h1m-.9-.2h1m-.9-2.6h1m1.6 1.4h1m-.8.7h1m-.9-.9h1m-.7-.4h1m-1 2.7h1m-.3-3.3h1m-.6 0h1m-1 2.5h1m-.8-.8h1m-.7.3h1m-.9-.5h1m-.5.1h1m-.9 1.4h1m-.6-2.6h1m-.7 2.2h1m-.5-.6h1m-.7-3h1m1 2.2h1m-.1 1.2h1m-15.7 3.3h1m-.9.1h1m-.1-.4h1m-1 0h1m-1-.2h1m-.8-.1h1m-.9 0h1m-1-.4h1m-.5 3.6h1m-1-.1h1m-.6-4.4h1m-.9 1.7h1m-.7-.4h1m-.5-1.5h1m-.9 5.1h1m-1-5h1m-.9 2.5h1m-.7 1.2h1m-1-2.2h1m-.9-.5h1m-.3 3.1h1m-.3-3.7h1m-.9 4.8h1m-.4-.9h1m-1-3.2h1m-.4-.4h1m-.1 2.5h1m-.1 1.1h1m0-.3h1m-.9-.1h1m-.7-1.7h1m-.7-2.3h1m-.8 5h1m-.9-3.1h1m-.4-1.2h1m-1 5.1h1m-.7-.4h1m-1-.1h1m-.5.3h1m-.4-.3h1m-.7-3h1m-.8 3h1m-1-3.3h1m-.7 3.3h1m-.1.2h1m-.8-3.8h1m-.9-.3h1m-1 .7h1m-1 .9h1m-.6-.9h1m-.9-.1h1m-.7.1h1m-.2-.6h1m-.6 3.9h1m-.2-3.2h1m-.9 1.3h1m-.4-.9h1m0-.5h1m-.6.1h1m-.6 1.2h1m-.7-1.6h1m-.4 1.4h1m.2-2.2h1m-.6.2h1m-.5.3h1m.4-.1h1m-.6 1.1h1m1.2.4h1m.5-.1h1m-27.9 4.4h1m-.3 2.3h1m-.7-.9h1m-.9.2h1m.5 2.8h1m-.9-3.4h1m-.9-1.2h1m-.8.2h1m-.9 3.8h1m-.8-.5h1m-1 .7h1m-.9-3h1m-.8-1.4h1m-.9 1h1m-1 3.2h1m-.7-1.6h1m-1-1.3h1m-.9 1.3h1m-.8-.8h1m-.9.6h1m-.9 2h1m-.7.1h1m1.8-3.8h1m-.8 3.2h1m-.8-4h1m-.9 5h1m-.8.2h1m-.8-3.5h1m-.8.5h1m-.8-1.2h1m-.8 3.1h1m-.9-2.8h1m-.9 1.3h1m-.2-1.7h1m-1-.9h1m-.7 2.6h1m-.9-.2h1m-.5 2.3h1m-.9-2.5h1m-.9.6h1m-.7.3h1m-.4-3.3h1m-.9 4.5h1m-.8-2.1h1m-.9 1.7h1m-.9-4.5h1m-.5 2.1h1m-.4 1.3h1m-.8-2.5h1m-.2-.1h1m-.4 2.3h1m-1-2.5h1m-.9.6h1m-1-.1h1m-.9.5h1m-.9 1.3h1m-.6-.3h1m-.5 2.1h1m-.8 1.2h1m-.6-1.6h1m-1-1.7h1m-15.7 3.8h1m.6 0h1m-.6.4h1m-1-.6h1m2 3.5h1m-.2-1h1m-1 .3h1m-.7-2.6h1m-.7 2.3h1m-.6-.1h1m-.9 1.5h1m-.5-3h1m-1 3.5h1m-.8-2.1h1m-.9.5h1m-1 .3h1m-.7 2h1m-.5-4.2h1m-.9 3.6h1m-1-.9h1m-.9-3.2h1m-.9 1.7h1m-.6 0h1m-1 3.5h1m-.6-4.2h1m-1 3.3h1m-.9.5h1m-.9-1.6h1m-.2.1h1m-.9 1.1h1m-.9-.1h1m-.7-1.4h1m-.5-2.1h1m-.6.8h1m-1 .6h1m-.9 0h1m-.9 0h1m-.7 1.7h1m-.5-2.8h1m-.4 2.1h1m-.9-3.6h1m-.7 2.7h1m-.9-.4h1m-.5.2h1m-.8-.7h1" stroke="#66cbf2" stroke-width="1"/>
<path d="M85.8 230.1h1m-.6-1.2h1m.7.4h1m-.4-1.4h1m-.7-.1h1m-.9-.6h1m-.9.8h1m-10.7 8h1m-.9-.5h1m-.8-.5h1m-.7.6h1m-1 0h1m-.9-.6h1m-.6-1.1h1m-.2-.5h1m-.8.2h1m-.2-1.1h1m-.2.4h1m-.7 3.4h1m-.3-.6h1m.9-2.1h1m-.9-2.1h1m-.5.2h1m-1 .8h1m-.5-1.2h1m-14.2 8.6h1m-.8 0h1m-.6-.5h1m-.5.5h1m-.4-.3h1m-.7-1.5h1m-.4.3h1m3 3.1h1m-.3-1.3h1m-1 .2h1m-.4-1h1m-.5.2h1m-.8-1.3h1m.3-1.1h1m-.7-.1h1" stroke="#3fdc22" stroke-width="1"/>
<path d="M80.1 244.6h1m-.6 3.5h1m-.8-3.6h1m-.6.2h1m-31.5 7.4h1m-.8 2.2h1m27.8-3.4h1m-.9-.2h1m-.7 2.5h1m-1 .2h1m-.8-3.1h1m-.4-.9h1m-1 3.8h1m-.9-1.8h1m-.9.6h1m3.9 2.1h1m1.4.9h1m.6-.9h1m-1 .6h1m.2-.8h1m-.4.2h1m.2-.1h1m4-1h1m.4 1h1m1.1.7h1m-.9-.7h1m-52.8 2.9h1m-.6-1h1m-.7.4h1m-.8 3.1h1m-.6 1h1m-.9-1.6h1m27.9-.4h1m-.6 2h1m-1 .6h1m-.5-1.1h1m-.9-2.6h1m-.4-1.9h1m-.2 4.6h1m-.9-3.9h1m-.8-1h1m-.2 5.6h1m-.4-1.4h1m-.5-1h1m-.7-.4h1m-.6-2.6h1m-.9 3.3h1m-.9-.7h1m-.6-1.9h1m-.2-.2h1m-1 5.1h1m-.3-2.4h1m-.9-2.6h1m-.8.1h1m-1 2h1m-.5.3h1m-.8.2h1m-1-1.5h1m-.9-.2h1m-.8-.9h1m.4.9h1m-.8-.2h1m-.9 2.3h1m-1-1.4h1m-1-.7h1m-.4 3.8h1m-.6-1.1h1m-.4-1.2h1m-.5.5h1m-.6-1.5h1m-.6 2.6h1m-.9-.9h1m-1-.4h1m.4 1.5h1m-1-2.9h1m-1 .8h1m-.7-.5h1m-.8 2.5h1m-.8-.3h1m-.6-2.5h1m-.9 1.1h1m-1 .7h1m-.8-1.1h1m-.8.6h1m-.5 2.4h1m-.6-3.1h1m-.9 2.7h1m.1-1.7h1m-.2 1.6h1m-1-1.2h1m-.9.8h1m-.7-2.7h1m-1 2.5h1m-1-2.4h1m-.4.4h1m-.7-1.1h1m-1 2.1h1m-.7-2.7h1m-.9 3.6h1m-.2-1.2h1m-.8-3.3h1m-.6-.1h1m-.7 1.9h1m-.9 3.8h1m-1-3.8h1m-.6 3.5h1m-.8-2.9h1m-.9-1.2h1m-.8 1.8h1m-.1-1.6h1m-.3 0h1m-.9.4h1m-.6.2h1m0 2.2h1m-.5-1.3h1m-.9 2.3h1m-1-4.7h1m-.7 4.7h1m.6-3.6h1m0 3h1m1 .7h1m-.3-1h1m-65.2 5.5h1m-.3-1.6h1m-.2 2.6h1m-.5-1.1h1m-1-.9h1m0-.4h1m.3 2.9h1m-.8-1.3h1m-.3-1.5h1m-1 .4h1m2.4 1.7h1m-.3.5h1m-1 .5h1m23.1-.5h1m-.7-3.2h1m0 .3h1m-.8.6h1m-.8.3h1m-1 .9h1m-.2-1.5h1m-.5-1.2h1m1.4-.7h1m-.4 4.8h1m.2-1.7h1m-.1-2.2h1m-.2 2.6h1m-1-1h1m-.4-1.5h1m-.7 2.5h1m-.8-.8h1m0-2.9h1m-1 2.7h1m-1 2.5h1m-.6-5.5h1m-1 2h1m.5 2.1h1m-.8 1.2h1m-1-3.5h1m-1-1h1m-.8-.8h1m-.6 2.3h1m-.9.9h1m-1 2.3h1m-.8-1.9h1m-.8-.9h1m-.7-.9h1m-1 1.9h1m-.5-.5h1m-.2-3.4h1m-.6 2.9h1m-.9-2.9h1m-.8 1.2h1m-.5 1.5h1m-.8.8h1m-.3 2.3h1m-.5-3.7h1m-.4.3h1m-1-2.4h1m-.3 1.4h1m-.1.7h1m-.8-.8h1m-1-1.1h1m-1 1.5h1m-.9-1.5h1m-.5.1h1m-.7.4h1m-.7-.7h1m-.7 5.7h1m-.9-3.1h1m-.9.6h1m-.8-2.2h1m-.9 2.1h1m-.8-.9h1m-.7-2h1m-.9 2.4h1m-.5-1.9h1m-.8.2h1m-.7-.2h1m-.6 3.4h1m-.1-2.4h1m-.8 3.8h1m-.8-3.6h1m-.8 2.5h1m-.6-4h1m-.9-.5h1m.3 5.6h1m-.9 0h1m-1-.3h1m-.6-1.5h1m-1-.3h1m-63.7 3.5h1m-.7 3.1h1m-1-2h1m-.9 1.6h1m-.9.4h1m-.6-4h1m-1 5.2h1m-.8-2.5h1m-.1-1.7h1m.2 1.7h1m-.9 2.3h1m.1-3h1m-.6 1.9h1m-.7-1.9h1m.1.4h1m-.9-1h1m-.1-.4h1m-.6-.5h1m-.4 3h1m-.9 1.5h1m-.8.5h1m-1 .3h1m-.9-2.2h1m-.6-1.4h1m-1 3h1m-.4-.3h1m-1 .4h1m-.6-4.1h1m-.9.6h1m.2.1h1m-.4 3.5h1m-1-5.2h1m-.9 2.6h1m.2 1.2h1m-.9-1.4h1m-.1.1h1m-.9.3h1m.1-.4h1m-.7 1.5h1m.2.8h1m-.2-1.2h1m16.2-1.8h1m-.8 2.4h1m-.7-2.8h1m-.9 2.1h1m.3.3h1m.3-3.5h1m1.7.4h1m-.3.5h1m-.4 2.4h1m-.8-3.2h1m-1 .8h1m-.1 1.2h1m-.9-.6h1m-.9 1.8h1m-.9 1.1h1m-1-3.7h1m-.3 3.4h1m.4-3h1m-1-.9h1m-.8.3h1m-.8 3.7h1m-.6-1.3h1m-.8.9h1m.1-2.8h1m-.8 3.1h1m-1-.3h1m-1-2h1m-.7-.6h1m-.4.6h1m-.7-2h1m-.8.7h1m-.5 4.1h1m-.8-2.4h1m-.7-.9h1m-.5 3.1h1m0 .9h1m-.9-1.9h1m-.5-3h1m-.7.1h1m-.7 1h1m-1 2.4h1m-.8 0h1m-.6 1.4h1m-.8-5.2h1m-.8 2.6h1m-.9 2h1m1.5 0h1m-.8-.1h1m-1-2.2h1m-1 .7h1m.1-2.2h1m-.8 3.9h1m-.9-1.7h1m-.6-.2h1m-.6-1h1m-.5 0h1m-.3-1.3h1m-.1 2.4h1m-.7.1h1m-.5-2.5h1m-.5-.7h1m-.8.6h1m-1-.8h1m-1-.1h1m-64.9 8.1h1m-.9.3h1m-.6-.1h1m-.5 2h1m-1-1h1m-.8-2.1h1m-.2 4.6h1m-.4-2.7h1m-.7-2.5h1m-.7 3.9h1m.4-.7h1m-.9 1.3h1m-.9-1.1h1m-1-.8h1m.1.9h1m-1-.6h1m-.7-1h1m-.8 2.9h1m-.9-1.4h1m-.6-3.8h1m-.5-.1h1m-.5 4.1h1m-.8-3.1h1m-.2.6h1m-.9 3.1h1m-.8-.5h1m-.9-4.3h1m-.4 2.4h1m-.2 3.3h1m-.9-2h1m-.2-2.7h1m-.9.1h1m-.8 2.9h1m-.3-2h1m-.8 1.7h1m-.8-.8h1m-.3-2.5h1m-.5 4.8h1m-.4-.1h1m-.3-3.3h1m-.9-.1h1m-.8 3.7h1m-1-4.5h1m-.7 3.7h1m-.9 1.1h1m-.8 0h1m-.8-4.4h1m-.6 4h1m-.3-5.3h1m-.1 4.7h1m-.8-3.9h1m-.9 1.2h1m-1 2.8h1m.1-4.8h1m-.8 2.1h1m18.3-1.6h1m-.5 2h1m.8 2h1m-.7-.5h1m.1-1.9h1m-1 1.8h1m-.7 1.3h1m-.6.6h1m-.6-3.4h1m-.8 2.2h1m-.6-3.2h1m-.9 3.5h1m-.9.7h1m-.5 0h1m-.6-5.5h1m-.9 4.7h1m-.6-3.6h1m-.7 3.8h1m-.2-3.7h1m-.3 1.5h1m1.2-.5h1m-1 .4h1m-.3 1.3h1m-.9-3.3h1m-.7.6h1m0-.5h1m-.6 2.6h1m-1-2.6h1m-.8-.7h1m-1 5.6h1m-.5-.2h1m-.9-.4h1m-.9-.7h1m-.9-3.7h1m-.9 4h1m-.5-4.5h1m-.8 5.7h1m-.7-4.1h1m.1-1.4h1m-.9 3.7h1m.2-3h1m.2 4.2h1m-.8-4.7h1m-.2 4.2h1m-.6-.8h1m-.5.9h1m-1-1.3h1m-1-1.8h1m-.4.5h1m-.2.4h1m-.8-2h1m-.7 1.7h1m-63 6.3h1m-.4 1.8h1m-.6-2.6h1m-.8 1.9h1m-.7.6h1m-.9.9h1m-.9-4.4h1m0 2.9h1m-.7-.6h1m-.9-2.6h1m-.7 4.8h1m-.9-.9h1m-.7-1.5h1m-.9 0h1m-.8 2.6h1m-.6-3.8h1m-.2 1.8h1m-.7-1.2h1m-.9 0h1m-.9-2.4h1m-.5 5.4h1m-.9-.7h1m.2-.3h1m-.3-.5h1m-.9 1.8h1m.1-3.9h1m-1 3.2h1m-.4-5h1m-.9 2.8h1m-1-1.8h1m-.7 3.6h1m1.5-2.1h1m-.4-.5h1m-.9 1.7h1m-.7 1.8h1m-.3-2.8h1m-.8-2.4h1m-.9.6h1m-1 4.2h1m-.8-1.5h1m-1 .8h1m-.8-.8h1m.7-2.6h1m20.6 0h1m-.8-.7h1m-.2 3.1h1m-.9-.2h1m-.8 2.7h1m-.8-1.6h1m-.8.6h1m-.9-.6h1m-.9-2.3h1m-.7.9h1m-.6-1.2h1m-.4-1.1h1m-.4 1.6h1m-.7 3.3h1m-.4-4.3h1m-.8 3h1m-.8-2.1h1m-.8-1.6h1m-.8 2.8h1m-1-1h1m-.9-1h1m-.4.8h1m.4.5h1m-.9.8h1m-1 1.5h1m-1-2.5h1m-.9 2.5h1m-.5.1h1m-.9-4.5h1m-.9 4.1h1m-.4-3.4h1m-.3 3.9h1m-1-4.4h1m-.9 2.6h1m.2.8h1m-.8-2.9h1m-.9 1.1h1m-.6-.3h1m-.9-.9h1m-.6-.2h1m-.8 2.9h1m-1 .9h1m-.1-1.7h1m0 2h1m-.3.1h1m-.7-.8h1m-.4-2.8h1m-1 1.5h1m-.6 1.5h1m-.9-3.4h1m-.8 0h1m-.2-.5h1m-1 0h1m-.1-.5h1m-.2 1.3h1m-.6.8h1m-58.6 5.6h1m-.2-.4h1m-.9-1.4h1m-.7 2.6h1m-1-.8h1m-.4-.6h1m-.3-1.3h1m-.6 4.3h1m-.7-2.9h1m-.2 1.2h1m-.8 1.1h1m.3 0h1m-.9 1.5h1m-1-5.1h1m-.4.8h1m-.9 2.8h1m-.9-2.4h1m-1-1.2h1m-.7 4.8h1m-.7-.1h1m-1-.2h1m-1-3h1m-.8-.4h1m-1 4.5h1m-.9-2.6h1m-.6 2.5h1m-.5-5.2h1m-.5 3.8h1m.6-3.7h1m-.9 2.3h1m-.6-2.3h1m-.4 1.4h1m-.8-.9h1m-.7-1h1m-.3 1.5h1m26.5-.6h1m-.6 1.5h1m-.9.1h1m0 1.9h1m0-1.5h1m-.7-2.2h1m-.8.9h1m-.9 1.9h1m-1-1.8h1m-.8-.8h1m-.9 1.5h1m-1-2.2h1m0 3.3h1m-.8.4h1m-.9-1.1h1m-.9-1.1h1m0 .5h1m-.7-1.9h1m.8 2.7h1m1-1.1h1m-.2-1.7h1" stroke="#f7ba30" stroke-width="1"/>
<path d="M80.7 272.2h1m-.6-.7h1m-6.7 7.1h1m-.8.2h1m-.4-.5h1m-.8-1.3h1m-.1-1.7h1m-.5-.2h1m-1-.1h1m-.7 1.3h1m-.8-.5h1m-.5 1.6h1m-.9-1.3h1m-.9-.4h1m-.9 3.3h1m-1-5h1m-.9 1.1h1m-.8-1.7h1m-.7 2.1h1m-1 1.7h1m-.7-2h1m-.5-2h1m-.8 1.7h1m-.5-.7h1m-1 1.4h1m-.9-.4h1m-9.8 9.3h1m-.6-1h1m-.5-.6h1m-.3.6h1m-.4-1.5h1m-1-.3h1m-.6 2.5h1m-.3.8h1m-.9-1.3h1m-.2 1.2h1m-.8-5.8h1m-.8.8h1m-6.7 10.3h1m-.9-3h1m-.8 3.5h1m-.8-3.4h1m-.7-.2h1m-.3.2h1m-.5 3.2h1m-.9-5.3h1m-1 4.6h1m-.9-3.8h1m-1 1.5h1m-.8 2.1h1m-.8-2.4h1m-.4 1.4h1m-.5.9h1m-.9.4h1m-.1-3.6h1m-1 4h1m-.9-2.1h1m-1-.1h1m-.8-1.9h1m-.8 2.2h1m-.5-2.8h1m-.9 1.5h1m-.9.8h1m-.9-2h1m-.9 2.7h1m-.6-2.4h1m-7.9 5.1h1m-.6 5.4h1m-.7-3.3h1m-.5-1.3h1m-.6 4.6h1m-.7-3.2h1m-.7.5h1m-.9 0h1m-.1-1.4h1m-.9 1.6h1m-.7-3h1m-.6 5.4h1m-.3-2.6h1m-.9-2.8h1m-.6 1.2h1m-.6-1.2h1m-1 .4h1m-.8-.3h1m-7.5 6.2h1m-.9 1.4h1m-.7 2.9h1m-.8-1.7h1m-.9.9h1m-.8-.5h1m-.2-2.4h1m-.4 1.6h1m-.5 1.2h1m-.9.4h1m-1-.8h1m-.5-.2h1m-.8-.8h1m-.8-1.6h1m-.7.3h1m-1 3.4h1m-.7-3.2h1m0 .1h1m-.6-1.2h1m-.2.1h1m-7.7 9.8h1m-.4.7h1m-1-1h1m-.1-.3h1m-.4-.6h1m-.8-.9h1m-.7 2.4h1m-.7-.5h1m-.9.2h1m-.7-2.6h1m-.9 1.7h1m-.8-.8h1m.4-.7h1m-.8 3.7h1m-.7-.6h1m-.9-3.3h1m-.7 2.3h1m-7.1 5.4h1m-.7-1.1h1m-.6 3.4h1m-.9-1.6h1m-.5-.7h1m-.4 1.4h1m-.9-1.8h1m-.7-1.3h1m-.7.5h1m-1 .7h1m-.9-2.1h1m-.9.1h1m-.8 3.5h1m-.7 1.6h1m-.4 0h1m-.1-3.5h1m-.8-1h1m-1 .9h1m-.7-.7h1m-.4-1.4h1m-6.3 7.7h1m-.5-1.8h1m-.5 4.1h1m-.1-1.9h1m-.8-.4h1m-.9-1.8h1m-.3 2.5h1m-.9-1.3h1" stroke="#ee46ee" stroke-width="1"/>
<path d="M170.1 268.6h1m-.3-.7h1m-.3-.6h1m-14.1 14h1" stroke="#d8d090" stroke-width="1"/>
<path d="M226.2 216.5V326.1H345.3" fill="none" stroke="#000" stroke-width="1.35"/>
<path d="M223 218.6H226.2M223 243H226.2M223 267.5H226.2M223 291.4H226.2M223 315.6H226.2M260 326.1V329.1M296.2 326.1V329.1M332.6 326.1V329.1" stroke="#000" stroke-width="1"/>
<path d="M231.6 232h1m11.7 3.3h1m23.1 1.3h1m-.6-1.1h1m.4.4h1m-.5-1.4h1m-.7-.6h1m-.9.7h1m-9 6.9h1m-.9-.4h1m-.7.5h1m-1 .1h1m-.5-1.6h1m-.4-.5h1m-.2-.8h1m-.3.4h1m-.8 3h1m1.2-2.4h1m-.9-1.9h1m-.5.8h1m-20.5 6.2h1m9.2.4h1m-.7-1.4h1m-.5.3h1m2.9 1.6h1m-.1-.4h1m.5-2.3h1m-24.7 8.4h1m20-1.7h1m-.7.3h1m-2.2 5.7h1m-.9-.2h1m-.7-.4h1m-.4 2.7h1m-1-1.6h1m-.8.4h1m-.5 3.2h1m-.3.7h1m-.8-.9h1m1.2.1h1m-.5-1h1m-.4 1.5h1m-.2.1h1m-.5-.9h1m-.6.9h1m1.5-1.6h1m0-.2h1m3.1-.9h1m1.5 2.9h1m0-.8h1m-.6-.2h1m3.1.6h1m-23.9 2.5h1m-.2-1h1m.2 2.5h1m-.1.6h1m-.5-1.3h1m-.5-.9h1m-.6 3.9h1m-.8-3.6h1m.1 2.1h1m-.2.8h1m-.5-3.2h1m-.8-1.2h1m-1-.2h1m.5 5.5h1m-.9-3.6h1m-.2.6h1m-.4-1.1h1m-.7.5h1m-.6-1.4h1m-.8 4h1m-.9-1.6h1m-.9-1.2h1m-.9 2.5h1m.1-3h1m-.8-.5h1m-.8 2.3h1m-1 1.9h1m-.8-2.2h1m-.4-1.7h1m-.8.6h1m-.3-.7h1m-1 2.5h1m0 .6h1m-1-2.1h1m-.4 1.4h1m-1-1.1h1m-.7-1.8h1m-.9 2.4h1m-.3-2.9h1m-.7 2.8h1m-.8 1.3h1m-.4-2.4h1m-.4-1.4h1m-.8 0h1m-.7 3.3h1m-.8-2.7h1m-.8.5h1m-.8 3.4h1m.2-4.8h1m-1 .3h1m-.9 4h1m-.7-3.8h1m-.8 4.2h1m-.4-2.2h1m-.5-1.2h1m-.7 2.1h1m-.9 2.3h1m-.6.2h1m-.5-1.9h1m.1-1.1h1m.7.6h1m-.4-.9h1m12 2.7h1m-39.5.6h1m-.2.3h1m-.8.6h1m-.9.3h1m-.3-.6h1m.3 3.5h1m1.6-2.4h1m-.8 3.2h1m-.3-.7h1m-.5-2.1h1m-.5 2.7h1m.3-3.6h1m-.9 2.3h1m-.7 1.6h1m-.9-.8h1m-.9.3h1m0-2.4h1m-.8 1.1h1m-1-3.3h1m-.4 3.5h1m-1 2.3h1m-.9-4.1h1m-.8-.8h1m-.6 4.8h1m-.7-1.8h1m0 1.4h1m-.3-4.6h1m.2-.6h1m-.6.3h1m-.3 3.8h1m1.1-.7h1m-.9-2.9h1m-.9.5h1m-.6-.9h1m-.3 4.7h1m-.2-2.9h1m-.9 3.9h1m-.2-2.7h1m-.6-1h1m.2 2.4h1m-.7-1.3h1m-.7 1.2h1m-1-.7h1m-1 0h1m-.9-2.5h1m6.1 1.7h1m3.3-1.9h1m-54.5 8.5h1m2.7-1.4h1m9.4 3.2h1m-.7-.3h1m-.9 0h1m0 .6h1m-.9-.6h1m-.6.4h1m-.7-.3h1m-.4-.3h1m-.7-3.1h1m-.9 2.4h1m-1 1.4h1m2.1-4.3h1m.2 2.4h1m-.6 1.9h1m1.7-.4h1m-.1.3h1m-.5-.9h1m-.5-2.7h1m-.2 2.4h1m0-3.5h1m.3 1.1h1m.1 3.5h1m-1 .4h1m-.5-3.4h1m-.9 1.6h1m-.7.4h1m.2-.4h1m-1-1h1m-.9.4h1m-.9-2.2h1m.5 3.7h1m-.1-1.3h1m.7-2.6h1m-.4 2.9h1m-.1-3.1h1m-.4 4.1h1m-.6.5h1m-.3.4h1m-.4-4.9h1m48.8.1h1m-98.2 10h1m7.2-2.8h1m1.5-.5h1m6.5 3.8h1m-1-.3h1m-.4-2.9h1m-.3-.2h1m-.4.7h1m-.8.8h1m.4-2.4h1m-.9-1.1h1m-.4.9h1m4.3 2.7h1m-.8-.6h1m-.3 2.8h1m-.3-1.3h1m-.7.9h1m-.7-1.1h1m-.7-3.5h1m-.8 2.5h1m-.3-2.5h1m-.8 1.2h1m-.6 1.8h1m-.7.8h1m-.9-3.2h1m-.9 1.7h1m-.9 1.7h1m-.9-.9h1m-.8-2.2h1m-1 .7h1m-.7 2.2h1m.2-2.8h1m-1 3.3h1m-.9-.2h1m.1-1.1h1m-.4-.4h1m-.9 2.3h1m.2-.8h1m1.2-2.4h1m-.4-.6h1m-.8-.4h1m-.4 1.1h1m-.7 1.5h1m-1 1.4h1m-.1-4.6h1m-.7 2.4h1m-1-.1h1m-.2-.4h1m0 2h1m.1-3.9h1m-46.8 10.7h1m15.6-1.3h1m-.3 0h1m-1-3.5h1m-.5 1.6h1m-.9.7h1m-1 1.4h1m-.6-3.7h1m.7 2.6h1m-.9 1.7h1m-.8-1.8h1m-.8 2h1m-.4-2.3h1m-.6.3h1m6.9-1.1h1m-.8-1.5h1m-.8 0h1m-.7 2.3h1m-.7 1.4h1m.4-2.6h1m-.4-1.2h1m-1 2.2h1m-.8.9h1m-.9.1h1m-.9-.8h1m-.9 1.4h1m.2-.6h1m.1-2.5h1m.3.2h1m-.8 3.5h1m1.1-4.8h1m-.8 2.2h1m.3-1.1h1m-.3.1h1m-.8-.7h1m-.2.1h1m45.8-.9h1m-73.7 7.1h1m.3 3h1m-.5-3.3h1m-.4 2.5h1m.2 1.3h1m-.6-3.4h1m-1 1.9h1m-.7-1.1h1m-.9.4h1m-.9-.3h1m9.8-1.7h1m-17.1 8.7h1m-.8 2.7h1m-.7-.7h1m-.8-.5h1m-.9-3.5h1m0 2.7h1m-1-2.7h1m-.6 3.9h1m-.9.4h1m-1-.8h1m-.6-.2h1m-.8-.8h1m-.1-2.6h1m-.4 1.7h1m-.6-1.1h1m-.4.1h1m-6.1 8.8h1m-.3-.3h1m-.3-1.4h1m-.4 2h1m-.7-.9h1m-.8-.7h1m.2-.6h1m-.6 2.8h1m-.9-3h1m-5.6 6h1m-.7 3.2h1m-.9-1.5h1m-.5-.6h1m-.5-.4h1m-.5-.7h1m-.9-1.3h1m.9 1.5h1m-4.7 5.1h1m-.5-1.6h1m-.6 3.8h1m-.3-1.8h1m-.8-.3h1m-.9-1.7h1m-.5 2.3h1m-.9-1.2h1" stroke="#f2366b" stroke-width="1"/>
<path d="M228.3 224.8h1m.3-.1h1m-.7-.3h1m-.5-.4h1m-3 2h1m-.6 2.2h1m-.9.3h1m-.4.1h1m-.4 1.6h1m-.6.4h1m-.7-4.7h1m-.5 2.1h1m-1-1.5h1m-.6.7h1m-1 1.1h1m-1-1.6h1m-.9 1.3h1m-.4 1.1h1m-.8 1.2h1m-.8.5h1m-1-5.6h1m3.9 1.4h1m-.7-.6h1m-.6 1.2h1m-1-.2h1m1.9-1.1h1m-.2-.1h1m-.9 1.1h1m-13.5 4.6h1m-.3.5h1m-.5-.8h1m-.6.1h1m-1-.1h1m-.9-.1h1m-.6.6h1m-.5 2.2h1m-.2 1.9h1m.6-3.4h1m-.9-1.1h1m.2.1h1m-.9 1.9h1m0 .9h1m-1-1.5h1m.1 1.7h1m-1-.5h1m-.6 1.4h1m-.9.7h1m0-1h1m-.3-.4h1m-.3.5h1m-.8-.5h1m.8 1.1h1m2.2.7h1m-.2-.9h1m1.3-2h1m-.7-.4h1m-19.1 4h1m-.5 2.7h1m-.7.6h1m-.7-1.9h1m-.8-1.4h1m-.4 4.5h1m-.9-1.4h1m-.7 2.7h1m-.4-.8h1m-.9-3.6h1m-.4 1.4h1m-.1.3h1m-.9 2.8h1m-.2-2h1m-.9-1.6h1m-.6 2.6h1m-.9-.2h1m1.5-1.2h1m.2 1.3h1m-.6-.9h1m-.5.1h1m-.6-1.2h1m-.7 2.1h1m-.7-.6h1m-.7-2.7h1m.7 2h1m-.3 1.1h1m-13.3 3.1h1m-.9 0h1m-.2-.3h1m-1 0h1m-1-.2h1m-.8-.1h1m-1 0h1m-.9-.4h1m-.7 3.4h1m-.9-.2h1m.2.6h1m-1-4.7h1m-.8 3.5h1m-.3.3h1m-.3-3.4h1m-.5 3.6h1m-1-3h1m-.5-.3h1m-.2 2.3h1m-.3 1h1m.2-1.9h1m-.5-.4h1m-.5-1.1h1m-1 4.6h1m-.3-.1h1m-.3-3.1h1m-.8 2.9h1m-.2.6h1m-.8-.5h1m-.9-3.5h1m-.9.4h1m-.9.8h1m-.7-.8h1m-.9-.2h1m-.8.2h1m-.3-.6h1m-.7 3.6h1m-.3-2.9h1m-.9 1.1h1m-.5-.8h1m-.2-.4h1m1.4-1h1m-.7.2h1m-.5.2h1m.1-.1h1m-.6 1h1m10.6-1h1m-32 5.4h1m-.4 2.1h1m-.8-.8h1m.2 3.6h1m-.9-.8h1m-.9-3.2h1m-.9-1.1h1m-.8.1h1m-.7 1h1m-.8-1.3h1m-1 .9h1m-.9 3h1m-.7-2.7h1m-1 4h1m-1-2.8h1m-.9-.7h1m-.9 4h1m-1-3.5h1m-1 2.8h1m-.6-.8h1m1.5-.6h1m-.9-3.7h1m-.6 4.8h1m-.9.6h1m-.5-1.6h1m-.9-1.4h1m-.3-2.4h1m-.2 4.4h1m-.9-1.8h1m-.7.3h1m-.3-.9h1m-.9 1.6h1m.2-3.3h1m-.3-.1h1m-.6 2.1h1m-.9-2.3h1m-1 .6h1m-.9-.1h1m-.9.4h1m-.9 1.2h1m-.7-.3h1m-.6 2h1m-.6-.4h1m-11 8.3h1m-.8-3.9h1m.8.6h1m-.4-.6h1m-.1-.4h1m-.9 1.4h1m-.6.4h1m-.9-1.9h1m-.9.5h1m-.8 2.1h1m-.4-1.4h1m-.9-1.4h1m-.7 0h1m-.6-.6h1m-1 3.1h1m-.2-1h1m-.8 1h1m.2-2h1m.5 0h1m-.9-.3h1m-11.1 4.9h1m-.3 2.4h1m-.6.8h1m-1-1.4h1m29.4-.3h1m-33.3 6h1m-.8 1.9h1m-.6-3.4h1m-.4 2.4h1m.9 2.9h1m-.5-2.4h1m-.2-2.6h1m-1 .3h1m0 3.8h1m.6 1h1m-.8-3.2h1m-.4.5h1m.1 2.5h1m-.5-1.6h1m92.2 0h1m-105.3 7.3h1m0-.8h1m-.6-2.9h1m-.9 0h1m-.6 1h1m-.5 1.3h1m.4-3.6h1m-1 2.2h1m.3-1.1h1m-.9 4.3h1m1.9-3.2h1m-.8 3.1h1m-1-4.4h1m-.1 1.5h1m-.4 1.6h1m-1 .1h1m.3-1.6h1m0-1.3h1m-.9-1.3h1m-.2.2h1m-.9.2h1m-1 4.3h1m-.8-.7h1m-.3-4h1m.9 1.1h1m-.1 2.1h1m-.9 1.9h1m85.3-5h1m-103.8 11.1h1m-.5-4h1m-1-1h1m-.6 4.2h1m-.6-1.9h1m-.9 1.1h1m-.6-3.6h1m-.5 1.3h1m-.7 2h1m-.4 2.2h1m-.9 0h1m-.9-4.8h1m-.7.2h1m-1-.8h1m-.2.9h1m-.9-.6h1m-.8 4.5h1m-.9-2.2h1m-.9-.6h1m-.9-1.2h1m.1.1h1m.8 3.4h1m-.5-1.7h1m-.9.9h1m-1-1.1h1m-1-1.9h1m0 .3h1m.8 3.7h1m-.9-2.6h1m-.5-.1h1m-.7 3.3h1m-.8-2.2h1m-.9.6h1m.3-1.5h1m-.6 1.5h1m27.4-.1h1m49.3 1.3h1m-93.4 2.1h1m-.9 3h1m-.4-3.1h1m-1 2.8h1m-.7.3h1m-.3-3.6h1m-.6 1.9h1m-.8-.4h1m-.6 1.6h1m-.8-1.5h1m-.5 2.7h1m-.5-4.6h1m-.2 5.6h1m-1-3.3h1m-.9-1.2h1m-.6 1.9h1m-.9 2.6h1m-1-2.3h1m-.9-1h1m-.3.9h1m-.9 1.8h1m-.8-3h1m-.5.6h1m-.5-1.3h1m.3 3.5h1m-.7-2.2h1m-.5 1.3h1m-.8-.8h1m.2-3h1m-.8 1.7h1m-.1-.4h1m-.8-1.4h1m-1 .8h1m-7.3 5.6h1m.4-.3h1m13.6 8h1" stroke="#33e9a9" stroke-width="1"/>
<circle cx="297.6" cy="313.3" r="1.6" fill="#f2366b"/>
<circle cx="297.6" cy="320.6" r="1.6" fill="#33e9a9"/>
<rect x="397.85" y="190.6" width="14.40" height="2.7" fill="#f5b020"/>
<rect x="412.55" y="190.6" width="13.80" height="2.7" fill="#80d0f0"/>
<rect x="426.65" y="190.6" width="14.90" height="2.7" fill="#f5b020"/>
<rect x="441.85" y="190.6" width="14.40" height="2.7" fill="#f040f0"/>
<rect x="456.55" y="190.6" width="14.30" height="2.7" fill="#44e030"/>
<rect x="471.15" y="190.6" width="12.10" height="2.7" fill="#d0d4d4"/>
<rect x="397.90" y="195.1" width="14.30" height="3" fill="#f03c64"/>
<rect x="412.60" y="195.1" width="13.70" height="3" fill="#3de6ae"/>
<rect x="426.70" y="195.1" width="14.80" height="3" fill="#3de6ae"/>
<rect x="441.90" y="195.1" width="14.30" height="3" fill="#f03c64"/>
<rect x="456.60" y="195.1" width="5.96" height="3" fill="#3de6ae"/>
<rect x="462.56" y="195.1" width="8.24" height="3" fill="#f03c64"/>
<rect x="471.20" y="195.1" width="5.76" height="3" fill="#3de6ae"/>
<rect x="476.96" y="195.1" width="6.24" height="3" fill="#f03c64"/>
<path d="M398 204.68h1M443 270.93h1" stroke="#405000" stroke-width="7.36" shape-rendering="crispEdges"/>
<path d="M399 204.68h1M418 212.04h1M421 212.04h1M424 212.04h2M457 212.04h1M460 212.04h1M465 212.04h1M423 219.40h1M466 219.40h1M439 226.76h1M430 241.49h1M433 241.49h1M449 241.49h1M451 241.49h1M428 248.85h3M433 248.85h1M435 248.85h1M452 248.85h1" stroke="#101000" stroke-width="7.36" shape-rendering="crispEdges"/>
<path d="M400 204.68h1M414 204.68h1M469 204.68h1M402 212.04h1M406 212.04h1M449 226.76h1M440 234.12h1M429 293.01h1" stroke="#401090" stroke-width="7.36" shape-rendering="crispEdges"/>
<path d="M401 204.68h1M419 204.68h1M426 204.68h1M429 204.68h3M435 204.68h1M438 204.68h1M441 204.68h1M447 204.68h4M477 204.68h1M443 212.04h1M447 212.04h1M455 212.04h1M482 212.04h1M402 219.40h1M404 219.40h1M406 219.40h4M427 219.40h1M429 219.40h1M431 219.40h4M436 219.40h1M438 219.40h1M446 219.40h1M448 219.40h1M451 219.40h1M453 219.40h3M472 219.40h2M475 219.40h1M477 219.40h1M480 219.40h1M415 226.76h3M456 226.76h1M467 226.76h1M471 226.76h1M473 226.76h1M479 226.76h2M412 234.12h1M416 234.12h1M418 234.12h2M424 234.12h1M446 234.12h1M449 234.12h1M452 234.12h2M456 234.12h1M458 234.12h1M461 234.12h1M464 234.12h2M469 234.12h1M473 234.12h1M476 234.12h1M481 234.12h1M423 241.49h1M458 241.49h2M465 241.49h1M471 241.49h1M473 241.49h1M478 241.49h1M480 241.49h1M413 248.85h1M418 248.85h1M421 248.85h1M457 248.85h1M465 248.85h1M469 248.85h1M472 248.85h1M412 256.21h1M417 256.21h1M422 256.21h2M426 256.21h1M433 256.21h1M435 256.21h1M439 256.21h1M450 256.21h1M452 256.21h1M454 256.21h1M470 256.21h1M476 256.21h1M411 278.29h1M409 285.65h1M443 285.65h1M447 285.65h1M454 285.65h2M479 285.65h2M482 285.65h1" stroke="#9010ff" stroke-width="7.36" shape-rendering="crispEdges"/>
<path d="M402 204.68h1" stroke="#e0e010" stroke-width="7.36" shape-rendering="crispEdges"/>
<path d="M403 204.68h1M420 204.68h1M422 204.68h1M462 204.68h1M423 212.04h1M458 212.04h1M464 212.04h1M458 219.40h1M470 219.40h1M399 226.76h1M436 226.76h2M429 234.12h1M435 234.12h1M427 241.49h1M431 241.49h1M434 241.49h1M436 241.49h1M446 241.49h2M452 241.49h1M454 241.49h1M401 248.85h1M426 248.85h1M431 248.85h1M434 248.85h1M438 248.85h1M441 248.85h1M445 248.85h1M447 248.85h2M451 248.85h1M454 248.85h1M480 248.85h1M422 285.65h1M437 293.01h1" stroke="#000010" stroke-width="7.36" shape-rendering="crispEdges"/>
<path d="M404 204.68h1" stroke="#201060" stroke-width="7.36" shape-rendering="crispEdges"/>
<path d="M405 204.68h1M406 234.12h1M453 241.49h1" stroke="#201050" stroke-width="7.36" shape-rendering="crispEdges"/>
<path d="M406 204.68h1M407 234.12h1" stroke="#808020" stroke-width="7.36" shape-rendering="crispEdges"/>
<path d="M407 204.68h1M405 256.21h1M408 256.21h1M442 270.93h1M451 278.29h1M469 300.38h1" stroke="#a0b000" stroke-width="7.36" shape-rendering="crispEdges"/>
<path d="M408 204.68h1M461 204.68h1M470 204.68h1M418 219.40h1M428 241.49h1M442 248.85h1" stroke="#101010" stroke-width="7.36" shape-rendering="crispEdges"/>
<path d="M409 204.68h1" stroke="#604070" stroke-width="7.36" shape-rendering="crispEdges"/>
<path d="M410 204.68h1M475 307.74h1M475 315.10h1M481 315.10h1M476 322.46h1M477 329.82h2M482 329.82h1" stroke="#a08070" stroke-width="7.36" shape-rendering="crispEdges"/>
<path d="M411 204.68h1M412 219.40h1M415 219.40h1M453 226.76h1M405 241.49h1M442 241.49h1M444 241.49h1" stroke="#100040" stroke-width="7.36" shape-rendering="crispEdges"/>
<path d="M412 204.68h1M417 204.68h1M460 204.68h1M463 204.68h1M468 204.68h1M407 212.04h1M400 226.76h1M404 226.76h1M432 234.12h1M439 234.12h1M411 248.85h1M478 248.85h1M404 256.21h1M406 263.57h1M411 263.57h1M401 278.29h2M412 285.65h1M414 285.65h1M421 285.65h1M423 285.65h1M427 293.01h1M439 293.01h1" stroke="#401080" stroke-width="7.36" shape-rendering="crispEdges"/>
<path d="M413 204.68h1M456 204.68h1M465 226.76h1M479 248.85h1M419 285.65h1" stroke="#501090" stroke-width="7.36" shape-rendering="crispEdges"/>
<path d="M415 204.68h1M432 204.68h1M439 204.68h1M480 204.68h1M410 212.04h1M427 212.04h1M437 212.04h2M454 212.04h1M476 212.04h1M480 212.04h1M471 219.40h1M420 226.76h1M422 226.76h2M475 226.76h1M477 226.76h1M481 226.76h1M415 234.12h1M467 234.12h1M478 234.12h1M415 241.49h1M418 241.49h1M420 241.49h2M424 241.49h2M479 241.49h1M409 256.21h1M414 256.21h1M420 256.21h1M436 256.21h1M448 256.21h1M461 256.21h1M463 256.21h1M466 256.21h1M472 256.21h1M475 256.21h1M478 256.21h1M399 263.57h1M442 263.57h1M458 263.57h1M464 263.57h1M406 278.29h1M473 278.29h1M399 285.65h2M433 285.65h1M436 285.65h1M440 285.65h1M452 285.65h1M475 285.65h2M481 285.65h1M435 293.01h1" stroke="#8010f0" stroke-width="7.36" shape-rendering="crispEdges"/>
<path d="M416 204.68h1M451 226.76h1M470 226.76h1M413 234.12h1M417 234.12h1M421 234.12h1M414 248.85h1M420 248.85h1M464 248.85h1M471 248.85h1M439 263.57h1M482 263.57h1M412 278.29h1M432 293.01h1" stroke="#7010e0" stroke-width="7.36" shape-rendering="crispEdges"/>
<path d="M418 204.68h1" stroke="#502080" stroke-width="7.36" shape-rendering="crispEdges"/>
<path d="M421 204.68h1M404 212.04h1M411 212.04h1M401 226.76h2M409 226.76h1M455 226.76h1M469 226.76h1M403 234.12h1M408 234.12h1M482 234.12h1M473 248.85h1M451 256.21h1M467 256.21h1M415 263.57h1M422 263.57h1M426 263.57h1M437 263.57h2M452 263.57h1M467 263.57h1M474 263.57h1M399 270.93h1M402 270.93h1M404 270.93h1M406 270.93h1M412 270.93h1M414 270.93h1M419 270.93h1M422 270.93h1M426 270.93h1M428 270.93h1M433 270.93h1M436 270.93h1M440 270.93h1M462 270.93h1M464 270.93h1M470 270.93h1M430 278.29h1M436 278.29h1M469 278.29h1M475 278.29h1M400 293.01h2M404 293.01h2M409 293.01h1M414 293.01h2M418 293.01h1M420 293.01h1M436 293.01h1M445 293.01h1M449 293.01h1M454 293.01h2M473 293.01h1M475 293.01h2M481 293.01h2M405 300.38h2M409 300.38h2M416 300.38h1M419 300.38h1M421 300.38h1M427 300.38h1M434 300.38h2M445 300.38h1M476 300.38h1M474 307.74h1" stroke="#5010d0" stroke-width="7.36" shape-rendering="crispEdges"/>
<path d="M423 204.68h1M400 212.04h1M433 293.01h1" stroke="#5010a0" stroke-width="7.36" shape-rendering="crispEdges"/>
<path d="M424 204.68h1M403 226.76h1M409 241.49h1" stroke="#501080" stroke-width="7.36" shape-rendering="crispEdges"/>
<path d="M425 204.68h1M410 226.76h1M460 226.76h1M448 241.49h1M450 241.49h1M449 248.85h1M453 248.85h1" stroke="#100050" stroke-width="7.36" shape-rendering="crispEdges"/>
<path d="M427 204.68h2M434 204.68h1M440 204.68h1M443 204.68h3M472 204.68h2M478 204.68h1M434 212.04h1M446 212.04h1M450 212.04h1M452 212.04h1M481 212.04h1M414 226.76h1M424 226.76h1M442 226.76h1M463 226.76h1M474 226.76h1M423 234.12h1M437 234.12h1M445 234.12h1M454 234.12h2M462 234.12h1M477 234.12h1M408 241.49h1M456 241.49h1M466 241.49h1M468 241.49h1M398 248.85h1M412 248.85h1M415 248.85h2M422 248.85h3M458 248.85h1M461 248.85h1M467 248.85h1M399 256.21h1M415 256.21h1M418 256.21h2M421 256.21h1M428 256.21h1M431 256.21h1M437 256.21h1M449 256.21h1M453 256.21h1M455 256.21h1M460 256.21h1M462 256.21h1M464 256.21h2M479 256.21h2M412 263.57h3M418 263.57h1M421 263.57h1M423 263.57h3M427 263.57h1M429 263.57h1M433 263.57h1M435 263.57h1M440 263.57h2M443 263.57h4M448 263.57h1M450 263.57h2M456 263.57h2M460 263.57h1M462 263.57h1M470 263.57h1M471 263.57h1M475 263.57h3M479 263.57h1M398 270.93h1M401 270.93h1M409 270.93h1M418 270.93h1M425 270.93h1M431 270.93h1M441 270.93h1M456 270.93h1M459 270.93h1M465 270.93h1M474 270.93h2M477 270.93h1M481 270.93h1M404 278.29h1M407 278.29h2M413 278.29h1M417 278.29h1M419 278.29h2M423 278.29h2M427 278.29h2M432 278.29h1M435 278.29h1M438 278.29h1M441 278.29h1M457 278.29h1M459 278.29h2M463 278.29h1M476 278.29h1M398 285.65h1M408 285.65h1M411 285.65h1M416 285.65h1M425 285.65h1M426 285.65h1M429 285.65h1M431 285.65h1M434 285.65h2M437 285.65h2M441 285.65h1M444 285.65h1M473 285.65h1M477 285.65h1M423 293.01h1M426 293.01h1M442 293.01h1M456 293.01h1M400 300.38h1M418 300.38h1M420 300.38h1M422 300.38h2M441 300.38h1M447 300.38h1M472 300.38h2M472 322.46h1M474 329.82h1" stroke="#7010f0" stroke-width="7.36" shape-rendering="crispEdges"/>
<path d="M433 204.68h1M437 204.68h1M442 204.68h1M446 204.68h1M451 204.68h5M471 204.68h1M474 204.68h3M479 204.68h1M482 204.68h1M398 212.04h1M426 212.04h1M428 212.04h6M435 212.04h2M439 212.04h3M442 212.04h1M444 212.04h2M448 212.04h2M451 212.04h1M453 212.04h1M398 219.40h4M403 219.40h1M405 219.40h1M410 219.40h2M426 219.40h1M428 219.40h1M430 219.40h1M435 219.40h1M437 219.40h1M439 219.40h3M442 219.40h4M447 219.40h1M449 219.40h2M452 219.40h1M474 219.40h1M476 219.40h1M478 219.40h2M481 219.40h2M412 226.76h1M418 226.76h2M421 226.76h1M476 226.76h1M478 226.76h1M482 226.76h1M420 234.12h1M422 234.12h1M425 234.12h1M442 234.12h3M447 234.12h2M450 234.12h2M457 234.12h1M459 234.12h1M463 234.12h1M466 234.12h1M468 234.12h1M471 234.12h1M474 234.12h2M479 234.12h2M412 241.49h2M416 241.49h1M419 241.49h1M422 241.49h1M457 241.49h1M461 241.49h4M467 241.49h1M469 241.49h2M472 241.49h1M474 241.49h4M481 241.49h1M417 248.85h1M419 248.85h1M425 248.85h1M456 248.85h1M460 248.85h1M462 248.85h1M466 248.85h1M470 248.85h1M482 248.85h1M398 256.21h1M402 256.21h2M411 256.21h1M413 256.21h1M416 256.21h1M425 256.21h1M427 256.21h1M430 256.21h1M434 256.21h1M438 256.21h1M440 256.21h2M442 256.21h6M456 256.21h4M468 256.21h2M471 256.21h1M473 256.21h2M477 256.21h1M481 256.21h2M402 263.57h2M407 263.57h1M430 263.57h3M436 263.57h1M453 263.57h2M466 263.57h1M478 263.57h1M401 285.65h7M410 285.65h1M427 285.65h2M430 285.65h1M439 285.65h1M442 285.65h1M445 285.65h2M448 285.65h1M450 285.65h2M453 285.65h1M471 285.65h2M474 285.65h1M478 285.65h1" stroke="#8010ff" stroke-width="7.36" shape-rendering="crispEdges"/>
<path d="M436 204.68h1M459 204.68h1M399 212.04h1M403 212.04h1M472 212.04h1M413 226.76h1M443 226.76h1M446 226.76h1M472 226.76h1M414 234.12h1M430 234.12h1M438 234.12h1M472 234.12h1M402 241.49h2M417 241.49h1M460 241.49h1M482 241.49h1M459 248.85h1M463 248.85h1M468 248.85h1M481 248.85h1M424 256.21h1M432 256.21h1M416 263.57h2M419 263.57h2M428 263.57h1M434 263.57h1M449 263.57h1M469 263.57h1M480 263.57h2M400 270.93h1M403 270.93h1M405 270.93h1M411 270.93h1M416 270.93h2M420 270.93h2M423 270.93h1M430 270.93h1M432 270.93h1M434 270.93h1M437 270.93h1M457 270.93h2M460 270.93h2M463 270.93h1M468 270.93h1M471 270.93h1M478 270.93h1M480 270.93h1M482 270.93h1M405 278.29h1M415 278.29h1M418 278.29h1M421 278.29h1M429 278.29h1M431 278.29h1M433 278.29h2M437 278.29h1M439 278.29h1M456 278.29h1M458 278.29h1M461 278.29h2M464 278.29h5M470 278.29h1M472 278.29h1M477 278.29h1M479 278.29h2M482 278.29h1M449 285.65h1M398 293.01h2M406 293.01h1M408 293.01h1M411 293.01h1M416 293.01h2M421 293.01h1M424 293.01h1M431 293.01h1M434 293.01h1M471 293.01h1M480 293.01h1M398 300.38h2M403 300.38h1M407 300.38h1M412 300.38h1M424 300.38h2M426 300.38h1M428 300.38h2M431 300.38h2M436 300.38h1M438 300.38h2M442 300.38h2M446 300.38h1M448 300.38h1M450 300.38h2M454 300.38h2M474 300.38h2M477 300.38h1M479 300.38h3M479 329.82h2" stroke="#6010e0" stroke-width="7.36" shape-rendering="crispEdges"/>
<path d="M457 204.68h1M481 204.68h1M474 212.04h1M407 226.76h1M444 226.76h1M447 226.76h1M459 263.57h1M469 270.93h1M422 293.01h1M425 293.01h1M444 300.38h1M452 300.38h1" stroke="#4010b0" stroke-width="7.36" shape-rendering="crispEdges"/>
<path d="M458 204.68h1M409 212.04h1M475 212.04h1M420 285.65h1M450 293.01h1M402 307.74h1M405 307.74h1M412 307.74h1M419 307.74h1M425 307.74h1M427 307.74h1M454 307.74h1M404 315.10h1M425 315.10h1M452 315.10h1M470 315.10h1M415 322.46h1M421 322.46h1M435 322.46h1M439 322.46h1M399 329.82h1M408 329.82h1M414 329.82h2M439 329.82h1M441 329.82h1M452 329.82h1M462 329.82h1" stroke="#3010a0" stroke-width="7.36" shape-rendering="crispEdges"/>
<path d="M464 204.68h1" stroke="#704070" stroke-width="7.36" shape-rendering="crispEdges"/>
<path d="M465 204.68h1M463 219.40h1M448 226.76h1M409 234.12h1M401 241.49h1M474 248.85h2M410 278.29h1M441 293.01h1" stroke="#200060" stroke-width="7.36" shape-rendering="crispEdges"/>
<path d="M466 204.68h1M408 212.04h1M398 226.76h1M445 226.76h1M450 226.76h1M431 234.12h1M433 234.12h1M436 234.12h1M398 241.49h2M410 241.49h1M476 248.85h1" stroke="#301080" stroke-width="7.36" shape-rendering="crispEdges"/>
<path d="M467 204.68h1M477 248.85h1M400 278.29h1M403 278.29h1" stroke="#5010b0" stroke-width="7.36" shape-rendering="crispEdges"/>
<path d="M401 212.04h1M461 226.76h2M464 226.76h1M466 226.76h1M434 234.12h1M447 263.57h1M429 270.93h1M432 285.65h1M440 293.01h1" stroke="#6010d0" stroke-width="7.36" shape-rendering="crispEdges"/>
<path d="M405 212.04h1" stroke="#6010c0" stroke-width="7.36" shape-rendering="crispEdges"/>
<path d="M412 212.04h1M417 212.04h1M420 212.04h1M456 212.04h1M459 212.04h1M461 212.04h3M466 212.04h5M464 219.40h1M428 226.76h1M432 226.76h1M440 226.76h2M435 241.49h1M437 241.49h2M441 241.49h1M405 248.85h1M436 248.85h2M450 248.85h1" stroke="#000000" stroke-width="7.36" shape-rendering="crispEdges"/>
<path d="M413 212.04h1M425 219.40h1M439 248.85h1" stroke="#303000" stroke-width="7.36" shape-rendering="crispEdges"/>
<path d="M414 212.04h2M419 212.04h1M426 226.76h1M431 226.76h1M435 226.76h1M438 226.76h1M432 241.49h1M427 248.85h1M432 248.85h1M408 263.57h1" stroke="#202000" stroke-width="7.36" shape-rendering="crispEdges"/>
<path d="M416 212.04h1" stroke="#707000" stroke-width="7.36" shape-rendering="crispEdges"/>
<path d="M422 212.04h1M433 226.76h1" stroke="#304000" stroke-width="7.36" shape-rendering="crispEdges"/>
<path d="M471 212.04h1M407 293.01h1" stroke="#3010b0" stroke-width="7.36" shape-rendering="crispEdges"/>
<path d="M473 212.04h1M452 226.76h1M410 248.85h1M410 270.93h1M427 270.93h1M476 270.93h1M398 278.29h1M409 278.29h1M403 293.01h1M413 293.01h1M419 293.01h1M443 293.01h1M446 293.01h1M451 293.01h3M472 293.01h1M474 293.01h1M477 293.01h2M401 300.38h1M411 300.38h1M430 300.38h1M482 300.38h1" stroke="#4010c0" stroke-width="7.36" shape-rendering="crispEdges"/>
<path d="M477 212.04h2M441 234.12h1M455 263.57h1M461 263.57h1M468 263.57h1M473 263.57h1M407 270.93h1M415 270.93h1M479 270.93h1M399 278.29h1M410 293.01h1M447 293.01h1" stroke="#5010c0" stroke-width="7.36" shape-rendering="crispEdges"/>
<path d="M479 212.04h1M400 241.49h1M463 263.57h1M424 270.93h1M439 270.93h1M466 270.93h1M472 270.93h1M474 278.29h1M402 293.01h1M448 293.01h1M404 300.38h1M408 300.38h1M440 300.38h1M449 300.38h1" stroke="#5010e0" stroke-width="7.36" shape-rendering="crispEdges"/>
<path d="M413 219.40h1" stroke="#101030" stroke-width="7.36" shape-rendering="crispEdges"/>
<path d="M414 219.40h1M411 241.49h1M428 293.01h1M438 307.74h1M452 307.74h1" stroke="#201070" stroke-width="7.36" shape-rendering="crispEdges"/>
<path d="M416 219.40h1M455 270.93h1" stroke="#708010" stroke-width="7.36" shape-rendering="crispEdges"/>
<path d="M417 219.40h1M473 315.10h1" stroke="#809000" stroke-width="7.36" shape-rendering="crispEdges"/>
<path d="M419 219.40h1M399 234.12h1" stroke="#808030" stroke-width="7.36" shape-rendering="crispEdges"/>
<path d="M420 219.40h1" stroke="#301060" stroke-width="7.36" shape-rendering="crispEdges"/>
<path d="M421 219.40h1" stroke="#706040" stroke-width="7.36" shape-rendering="crispEdges"/>
<path d="M422 219.40h1" stroke="#706060" stroke-width="7.36" shape-rendering="crispEdges"/>
<path d="M424 219.40h1M439 241.49h1" stroke="#606000" stroke-width="7.36" shape-rendering="crispEdges"/>
<path d="M456 219.40h1M468 219.40h1M453 270.93h1M445 278.29h1M458 285.65h1M465 285.65h1M468 293.01h1M457 300.38h1M479 307.74h1M477 322.46h1M482 322.46h1" stroke="#e0f000" stroke-width="7.36" shape-rendering="crispEdges"/>
<path d="M457 219.40h1M429 226.76h1M454 270.93h1" stroke="#607000" stroke-width="7.36" shape-rendering="crispEdges"/>
<path d="M459 219.40h1M448 270.93h1M444 278.29h1M460 285.65h1M463 285.65h2M469 285.65h2M462 293.01h1M463 300.38h1M468 300.38h1M473 307.74h1M478 307.74h1M472 315.10h1M480 315.10h1M482 315.10h1M478 322.46h1M481 322.46h1M472 329.82h1M475 329.82h1" stroke="#f0ff10" stroke-width="7.36" shape-rendering="crispEdges"/>
<path d="M460 219.40h1" stroke="#909010" stroke-width="7.36" shape-rendering="crispEdges"/>
<path d="M461 219.40h1" stroke="#505000" stroke-width="7.36" shape-rendering="crispEdges"/>
<path d="M462 219.40h1M400 234.12h1M409 248.85h1" stroke="#808010" stroke-width="7.36" shape-rendering="crispEdges"/>
<path d="M465 219.40h1M452 270.93h1" stroke="#506000" stroke-width="7.36" shape-rendering="crispEdges"/>
<path d="M467 219.40h1" stroke="#506020" stroke-width="7.36" shape-rendering="crispEdges"/>
<path d="M469 219.40h1M424 285.65h1" stroke="#707010" stroke-width="7.36" shape-rendering="crispEdges"/>
<path d="M405 226.76h1M427 234.12h1" stroke="#300070" stroke-width="7.36" shape-rendering="crispEdges"/>
<path d="M406 226.76h1M426 234.12h1M430 293.01h1" stroke="#100030" stroke-width="7.36" shape-rendering="crispEdges"/>
<path d="M408 226.76h1M404 241.49h1M426 241.49h1M440 241.49h1" stroke="#100020" stroke-width="7.36" shape-rendering="crispEdges"/>
<path d="M411 226.76h1" stroke="#905080" stroke-width="7.36" shape-rendering="crispEdges"/>
<path d="M425 226.76h1M460 234.12h1M470 234.12h1M406 241.49h1M414 241.49h1M429 256.21h1M465 263.57h1M472 263.57h1M408 270.93h1M413 270.93h1M435 270.93h1M438 270.93h1M467 270.93h1M473 270.93h1M414 278.29h1M416 278.29h1M422 278.29h1M425 278.29h1M426 278.29h1M440 278.29h1M471 278.29h1M478 278.29h1M481 278.29h1M412 293.01h1M444 293.01h1M479 293.01h1M402 300.38h1M413 300.38h3M417 300.38h1M433 300.38h1M437 300.38h1M453 300.38h1M471 300.38h1M478 300.38h1" stroke="#6010f0" stroke-width="7.36" shape-rendering="crispEdges"/>
<path d="M427 226.76h1M440 248.85h1" stroke="#202010" stroke-width="7.36" shape-rendering="crispEdges"/>
<path d="M430 226.76h1M415 285.65h1" stroke="#404010" stroke-width="7.36" shape-rendering="crispEdges"/>
<path d="M434 226.76h1M405 234.12h1M429 241.49h1M445 241.49h1M446 248.85h1M455 248.85h1" stroke="#000020" stroke-width="7.36" shape-rendering="crispEdges"/>
<path d="M454 226.76h1M413 285.65h1M399 307.74h1M401 307.74h1M403 307.74h1M406 307.74h4M414 307.74h1M418 307.74h1M420 307.74h2M423 307.74h2M426 307.74h1M429 307.74h6M436 307.74h1M442 307.74h2M445 307.74h2M448 307.74h1M450 307.74h2M453 307.74h1M456 307.74h2M460 307.74h1M462 307.74h1M464 307.74h2M468 307.74h1M402 315.10h1M405 315.10h7M412 315.10h4M417 315.10h2M421 315.10h2M424 315.10h1M426 315.10h2M429 315.10h2M432 315.10h1M437 315.10h2M440 315.10h1M442 315.10h1M444 315.10h4M449 315.10h3M453 315.10h3M457 315.10h7M467 315.10h3M398 322.46h2M401 322.46h2M406 322.46h2M409 322.46h3M416 322.46h2M419 322.46h2M422 322.46h1M424 322.46h1M426 322.46h4M431 322.46h4M436 322.46h1M438 322.46h1M440 322.46h2M443 322.46h1M446 322.46h3M450 322.46h4M456 322.46h2M460 322.46h1M462 322.46h3M466 322.46h2M469 322.46h2M401 329.82h6M409 329.82h3M416 329.82h1M418 329.82h3M422 329.82h3M426 329.82h1M428 329.82h2M431 329.82h1M433 329.82h1M435 329.82h4M440 329.82h1M444 329.82h2M447 329.82h1M450 329.82h1M454 329.82h2M458 329.82h2M465 329.82h1M467 329.82h1M469 329.82h2" stroke="#301090" stroke-width="7.36" shape-rendering="crispEdges"/>
<path d="M457 226.76h1M468 226.76h1M398 307.74h1M400 307.74h1M404 307.74h1M413 307.74h1M415 307.74h1M417 307.74h1M422 307.74h1M435 307.74h1M439 307.74h2M447 307.74h1M458 307.74h1M463 307.74h1M466 307.74h1M398 315.10h1M400 315.10h1M423 315.10h1M431 315.10h1M434 315.10h1M441 315.10h1M456 315.10h1M400 322.46h1M403 322.46h1M408 322.46h1M412 322.46h1M414 322.46h1M418 322.46h1M425 322.46h1M442 322.46h1M449 322.46h1M454 322.46h1M458 322.46h1M461 322.46h1M412 329.82h1M417 329.82h1M425 329.82h1M427 329.82h1M432 329.82h1M448 329.82h1M451 329.82h1M461 329.82h1M468 329.82h1" stroke="#201080" stroke-width="7.36" shape-rendering="crispEdges"/>
<path d="M458 226.76h2" stroke="#301070" stroke-width="7.36" shape-rendering="crispEdges"/>
<path d="M398 234.12h1" stroke="#808040" stroke-width="7.36" shape-rendering="crispEdges"/>
<path d="M401 234.12h1" stroke="#c0c010" stroke-width="7.36" shape-rendering="crispEdges"/>
<path d="M402 234.12h1M455 278.29h1M460 293.01h1M473 322.46h2" stroke="#d0e000" stroke-width="7.36" shape-rendering="crispEdges"/>
<path d="M404 234.12h1" stroke="#807060" stroke-width="7.36" shape-rendering="crispEdges"/>
<path d="M410 234.12h1" stroke="#202040" stroke-width="7.36" shape-rendering="crispEdges"/>
<path d="M411 234.12h1M400 263.57h1M417 285.65h1M458 293.01h1M481 307.74h1" stroke="#c08090" stroke-width="7.36" shape-rendering="crispEdges"/>
<path d="M428 234.12h1" stroke="#4010a0" stroke-width="7.36" shape-rendering="crispEdges"/>
<path d="M407 241.49h1M410 256.21h1M401 263.57h1M409 263.57h1M445 270.93h1M466 293.01h1M471 307.74h1M474 315.10h1M478 315.10h1M473 329.82h1M476 329.82h1" stroke="#b08080" stroke-width="7.36" shape-rendering="crispEdges"/>
<path d="M443 241.49h1" stroke="#303020" stroke-width="7.36" shape-rendering="crispEdges"/>
<path d="M455 241.49h1M444 248.85h1" stroke="#200050" stroke-width="7.36" shape-rendering="crispEdges"/>
<path d="M399 248.85h1" stroke="#a0a000" stroke-width="7.36" shape-rendering="crispEdges"/>
<path d="M400 248.85h1" stroke="#908040" stroke-width="7.36" shape-rendering="crispEdges"/>
<path d="M402 248.85h1" stroke="#401070" stroke-width="7.36" shape-rendering="crispEdges"/>
<path d="M403 248.85h1" stroke="#402060" stroke-width="7.36" shape-rendering="crispEdges"/>
<path d="M404 248.85h1" stroke="#102000" stroke-width="7.36" shape-rendering="crispEdges"/>
<path d="M406 248.85h1" stroke="#502070" stroke-width="7.36" shape-rendering="crispEdges"/>
<path d="M407 248.85h1" stroke="#202050" stroke-width="7.36" shape-rendering="crispEdges"/>
<path d="M408 248.85h1" stroke="#808000" stroke-width="7.36" shape-rendering="crispEdges"/>
<path d="M443 248.85h1" stroke="#200070" stroke-width="7.36" shape-rendering="crispEdges"/>
<path d="M400 256.21h1M407 256.21h1M469 293.01h1" stroke="#805080" stroke-width="7.36" shape-rendering="crispEdges"/>
<path d="M401 256.21h1" stroke="#90a000" stroke-width="7.36" shape-rendering="crispEdges"/>
<path d="M406 256.21h1M446 278.29h1M453 278.29h1" stroke="#d0e010" stroke-width="7.36" shape-rendering="crispEdges"/>
<path d="M398 263.57h1" stroke="#704080" stroke-width="7.36" shape-rendering="crispEdges"/>
<path d="M404 263.57h1M456 300.38h1" stroke="#809010" stroke-width="7.36" shape-rendering="crispEdges"/>
<path d="M405 263.57h1M446 270.93h1" stroke="#906080" stroke-width="7.36" shape-rendering="crispEdges"/>
<path d="M410 263.57h1" stroke="#a07080" stroke-width="7.36" shape-rendering="crispEdges"/>
<path d="M444 270.93h1" stroke="#b0c010" stroke-width="7.36" shape-rendering="crispEdges"/>
<path d="M447 270.93h1" stroke="#805070" stroke-width="7.36" shape-rendering="crispEdges"/>
<path d="M449 270.93h1M457 285.65h1M459 300.38h1M461 300.38h1M481 329.82h1" stroke="#e0f010" stroke-width="7.36" shape-rendering="crispEdges"/>
<path d="M450 270.93h1" stroke="#c0c000" stroke-width="7.36" shape-rendering="crispEdges"/>
<path d="M451 270.93h1M452 278.29h1" stroke="#b0c000" stroke-width="7.36" shape-rendering="crispEdges"/>
<path d="M442 278.29h1M476 315.10h1" stroke="#ffff20" stroke-width="7.36" shape-rendering="crispEdges"/>
<path d="M443 278.29h1M448 278.29h1M450 278.29h1M454 278.29h1M456 285.65h1M459 285.65h1M461 285.65h1M467 285.65h1M457 293.01h1M459 293.01h1M461 293.01h1M463 293.01h1M465 293.01h1M460 300.38h1M462 300.38h1M464 300.38h1M467 300.38h1M470 300.38h1M477 307.74h1M480 307.74h1M479 322.46h1" stroke="#f0f010" stroke-width="7.36" shape-rendering="crispEdges"/>
<path d="M447 278.29h1M479 315.10h1" stroke="#c0d000" stroke-width="7.36" shape-rendering="crispEdges"/>
<path d="M449 278.29h1M462 285.65h1M464 293.01h1M465 300.38h1M472 307.74h1" stroke="#f0ff20" stroke-width="7.36" shape-rendering="crispEdges"/>
<path d="M418 285.65h1" stroke="#703080" stroke-width="7.36" shape-rendering="crispEdges"/>
<path d="M466 285.65h1" stroke="#e0e000" stroke-width="7.36" shape-rendering="crispEdges"/>
<path d="M468 285.65h1" stroke="#d0d000" stroke-width="7.36" shape-rendering="crispEdges"/>
<path d="M438 293.01h1" stroke="#504060" stroke-width="7.36" shape-rendering="crispEdges"/>
<path d="M467 293.01h1M471 315.10h1M475 322.46h1" stroke="#907070" stroke-width="7.36" shape-rendering="crispEdges"/>
<path d="M470 293.01h1" stroke="#d0d010" stroke-width="7.36" shape-rendering="crispEdges"/>
<path d="M458 300.38h1" stroke="#b0b010" stroke-width="7.36" shape-rendering="crispEdges"/>
<path d="M466 300.38h1" stroke="#a0b010" stroke-width="7.36" shape-rendering="crispEdges"/>
<path d="M410 307.74h2M416 307.74h1M428 307.74h1M437 307.74h1M441 307.74h1M444 307.74h1M449 307.74h1M455 307.74h1M459 307.74h1M461 307.74h1M467 307.74h1M469 307.74h2M399 315.10h1M401 315.10h1M403 315.10h1M416 315.10h1M419 315.10h2M428 315.10h1M433 315.10h1M435 315.10h2M439 315.10h1M443 315.10h1M448 315.10h1M464 315.10h3M404 322.46h2M413 322.46h1M423 322.46h1M430 322.46h1M437 322.46h1M444 322.46h2M455 322.46h1M459 322.46h1M465 322.46h1M468 322.46h1M398 329.82h1M400 329.82h1M407 329.82h1M413 329.82h1M421 329.82h1M430 329.82h1M434 329.82h1M442 329.82h2M446 329.82h1M449 329.82h1M453 329.82h1M456 329.82h2M460 329.82h1M463 329.82h2M466 329.82h1" stroke="#201090" stroke-width="7.36" shape-rendering="crispEdges"/>
<path d="M476 307.74h1" stroke="#907080" stroke-width="7.36" shape-rendering="crispEdges"/>
<path d="M482 307.74h1M471 322.46h1M480 322.46h1M471 329.82h1" stroke="#a08080" stroke-width="7.36" shape-rendering="crispEdges"/>
<path d="M477 315.10h1" stroke="#a07070" stroke-width="7.36" shape-rendering="crispEdges"/>
<path d="M412.40 201.00V333.50M426.50 201.00V333.50M441.70 201.00V333.50M456.40 201.00V333.50M471.00 201.00V333.50" stroke="#c8b8e0" stroke-opacity="0.55" stroke-width="0.5"/>
<defs><linearGradient id="cb205" x1="0" y1="0" x2="0" y2="1">
<stop offset="0.000" stop-color="#f0f812"/>
<stop offset="0.050" stop-color="#e8f308"/>
<stop offset="0.100" stop-color="#dfec00"/>
<stop offset="0.150" stop-color="#b9c500"/>
<stop offset="0.200" stop-color="#929e00"/>
<stop offset="0.250" stop-color="#5a6300"/>
<stop offset="0.300" stop-color="#242800"/>
<stop offset="0.350" stop-color="#0c0e00"/>
<stop offset="0.400" stop-color="#010004"/>
<stop offset="0.450" stop-color="#03010c"/>
<stop offset="0.500" stop-color="#050213"/>
<stop offset="0.550" stop-color="#07031b"/>
<stop offset="0.600" stop-color="#14064b"/>
<stop offset="0.650" stop-color="#280a8c"/>
<stop offset="0.700" stop-color="#3a0db1"/>
<stop offset="0.750" stop-color="#510ed1"/>
<stop offset="0.800" stop-color="#6710ed"/>
<stop offset="0.850" stop-color="#7610f5"/>
<stop offset="0.900" stop-color="#8510fd"/>
<stop offset="0.950" stop-color="#8910fe"/>
<stop offset="1.000" stop-color="#8d10ff"/>
</linearGradient></defs>
<rect x="487.1" y="205.3" width="3.9" height="36.7" fill="url(#cb205)"/>
<path d="M487.1 210.5h1.2" stroke="#fff" stroke-width="0.5"/>
<path d="M487.1 220.8h1.2" stroke="#fff" stroke-width="0.5"/>
<path d="M487.1 231.2h1.2" stroke="#fff" stroke-width="0.5"/>
<path d="M32.8 380V499.7H180" fill="none" stroke="#000" stroke-width="1.35"/>
<path d="M29.6 407.5H32.8M29.6 441H32.8M29.6 474.5H32.8M44.3 499.7V502.7M71.3 499.7V502.7M99.1 499.7V502.7M126.2 499.7V502.7M153 499.7V502.7M180 499.7V502.7" stroke="#000" stroke-width="1"/>
<path d="M92.6 399h1m-.8-.9h1m-.5-.3h1m-.2.9h1m-.2-.2h1m0-1.6h1m-.8 1.2h1m-.5-.2h1m-.9-1.6h1m-.9 2h1m-.9-1.3h1m-.8-1.4h1m-.9 1.2h1m-.9.6h1m-.7-.7h1m-.9-1.2h1m-.9.7h1m-.9 1.9h1m-.8-.1h1m-.6-.9h1m-.5-1.4h1m-.2 2.5h1m-.4-3h1m-1 3.6h1m-.2-1.3h1m-.9 1.1h1m-.7 0h1m-.9-.4h1m-.9-.2h1m-.9-.3h1m.4-2.4h1m-.6 1.1h1m-.9.2h1m-.5-.8h1m-.6 2.2h1m-1-2.4h1m-.9 1.3h1m-.3 0h1m-.1 2.1h1m-.6-.7h1m-.8.2h1m-.1-.7h1m-.6.3h1m-.8.6h1m-.9-.9h1m-.9 0h1m-22.9 6.9h1m-.5.1h1m-.9-2.3h1m-1-.1h1m-.4.1h1m-.9 1.9h1m-.6-1.5h1m-.7.9h1m-.6-2.8h1m-.9 1.4h1m-.6-1.3h1m-1 2.9h1m-1 .9h1m-.5-2.4h1m-.9 1.1h1m-1-1.6h1m-.1-2.7h1m-.9.7h1m-.4 1h1m-.7-.8h1m.2-1.1h1m-.8 2.7h1m.2-.9h1m-.7-.7h1m-.6.2h1m-.4-1h1m-1 1.3h1m-.8 2.9h1m-.9-2.9h1m-.1 3h1m-.8-4.5h1m-1 5.3h1m-.8-2.1h1m-.7 1.6h1m-.9-2.1h1m-.1-1.4h1m-.6 1.9h1m-.9 2.3h1m-.8-5.5h1m.3.4h1m-.9 5.1h1m-.8-2.4h1m0 2.1h1m-1 .1h1m-.8-1.7h1m-.9-3.3h1m-1 1.8h1m-.8-1.8h1m-.8.7h1m-1 .7h1m-.7 1.1h1m-.7 2.3h1m-.9-.8h1m-.5-1.9h1m-.5 2.6h1m-1-.7h1m-.7.3h1m-1-2.3h1m-.9 1.6h1m-.9-1h1m-.7-1.1h1m-1-1.5h1m-.5.2h1m-.9 2.8h1m-.6-2.9h1m0 2.3h1m-1-2.1h1m-.8-.5h1m-.8.6h1m-.9 2.7h1m-.5-3.3h1m-.9 4.9h1m-.7-4h1m-.9-.3h1m-.9 4.1h1m-.7-3.4h1m-.9 3.9h1m-.7-4.4h1m-.8 1.4h1m-1 2.5h1m0-.6h1m-.6-.1h1m-1-1.8h1m-.9 1.4h1m-28.8 5.4h1m-.6 2.4h1m-1-1.5h1m-.5.6h1m-.2-1.9h1m-1-2.4h1m-.8 2.9h1m-1 1.1h1m-.7-3.2h1m-.8.9h1m-1 3.2h1m-.8-4.9h1m-.6 4.3h1m-1-2.1h1m-.7.3h1m-1 1h1m-1-3.3h1m-.9 1.7h1m-1 1.9h1m-.9-.6h1m-.7-2.4h1m-.6 2.5h1m-.8 1.1h1m-.7-4.5h1m-.9 2.2h1m.2 2.9h1m-.3-1.3h1m-.6-3.5h1m-.4 3.6h1m-.7-.5h1m-.7 2.2h1m-.6-4.5h1m-.8-1.2h1m-.9 5.4h1m-.9-2.6h1m-.8-1.9h1m-.8 3.9h1m-.4-4.2h1m-.8 4.7h1m-.7-5.6h1m-.8 4.2h1m-.5-1.3h1m-.6.4h1m0 1.8h1m-.6-3.2h1m-.4-1.4h1m-1-.3h1m-.4 3.6h1m-1 1.9h1m-.9-4.3h1m-.8 3.1h1m-.8-3.4h1m-1 1.4h1m-1 1.7h1m-.8-1h1m-.3-3h1m-.8 2.8h1m-.8-2.5h1m-.6-.1h1m-.7 2.7h1m-.5-1.4h1m-.3.4h1m-1 1.9h1m-.7-.2h1m-.9-3.5h1m-.9 3.5h1m-.9-2.1h1m-.9 3.1h1m-.9-1.2h1m-.8-.3h1m-.4 1.4h1m-.9-2.9h1m-.9 1.1h1m-.9.4h1m-.2-2.5h1m-.3 3.9h1m-.9-1.1h1m-.6-1.8h1m-.7-.2h1m-.7 2h1m-1-2.9h1m-.9 2.3h1m-.8.8h1m-.4-.3h1m-.8-3.4h1m-.9 5.2h1m.4-3h1m-.9 2.2h1m-.9-3.1h1m-.9 3.3h1m-.9-.1h1m-1 .1h1m-.1-2.5h1m-.7-2.2h1m-1 3.9h1m-.6-1.9h1m-.5-1.8h1m-.8.4h1m-30.1 10h1m-.5-2.3h1m-.9.6h1m-.3-2h1m-1 2.5h1m-.6-2.6h1m-.9 2.9h1m-.9 1.5h1m-.9-2.1h1m-.9-.3h1m-1-1.8h1m-.9 4.8h1m-.6-3.3h1m-.8.7h1m-1 1.9h1m-.6-.2h1m-.8-2.3h1m-.9-1h1m-.9 3.1h1m-.7-.2h1m-.9-1h1m-.8.1h1m-.6-1.6h1m-.8 1.3h1m.2-2.9h1m-.9.6h1m-.9 2.6h1m-.5-.4h1m-.6 0h1m-.9-2.6h1m-1 4.1h1m-.5-1h1m-1 1h1m-.9-3.7h1m-.9 4.3h1m-1-.4h1m-.9-2.1h1m-1 .1h1m-1-1.8h1m-.5 4.2h1m-.9.6h1m-.7-4.8h1m-.9 4.9h1m-.7-5.2h1m-.7 4h1m-.9-3.8h1m-.7 3.3h1m-.9.9h1m-.6-2.1h1m-.9-1.5h1m-.9.6h1m-.9 1h1m-.5-1h1m-1-1h1m-.9-.2h1m-.9 1.5h1m-.9 1.7h1m-.9.9h1m-.5-2.2h1m-.9 3h1m-.6-5h1m-1 4.4h1m-.2-4.6h1m-.8 4.3h1m-1 .6h1m-.8-2.3h1m-.6-2h1m-.9 1.1h1m-1 1.8h1m-.5 1.7h1m-1-2.6h1m-.8 2.5h1m-.9-1.7h1m-.5 0h1m-.6-3.3h1m-.7.2h1m-.8 4.3h1m-.9-.6h1m-1-2.9h1m-.6.8h1m-.9 1.1h1m-1-1.1h1m-.8 1.3h1m-1 1.6h1m-.4-.2h1m-.7-3.6h1m-.7.1h1m-.3 2.5h1m-.9 1.6h1m-1-4h1m-.8 2.1h1m-.8.1h1m-1-3.4h1m-.9 1.1h1m-.7-1.7h1m-.8 4.5h1m-1 .1h1m-.8-4.3h1m-.8 4.7h1m-.8-1h1m-1-1.5h1m-.9 1.3h1m-1-1.7h1m-.8 3.6h1m-.9-1.3h1m-.9 0h1m-1 .1h1m-.9-2.4h1m-.7 1.8h1m-.6-2.8h1m-.7 1.9h1m-.9 1.1h1m.1-2.7h1m-.9.9h1m-.7.7h1m-24.6 3.2h1m-.4 2.3h1m-.9-2h1m-.7 3h1m-.9-2.1h1m-.4 2.7h1m-.9-2.7h1m-.6 3.9h1m-1-4.3h1m-.4 1.6h1m-1 1.7h1m-.6 1.2h1m-.9-.6h1m-.2.9h1m-.8-4.9h1m-.5 2.3h1m-.9-.3h1m-.7 1.2h1m-.6.5h1m-.9-3.8h1m-.8 2.8h1m-1-1.5h1m-.8-.3h1m-.9-1.1h1m-.5.5h1m-.7 1.3h1m-1-2.2h1m-.7 2.7h1m-.7-3h1m-.8 1.3h1m-.4.9h1m-1 2.1h1m-.6.4h1m.4-.8h1m-.9-3.2h1m-.8-.4h1m-.3.6h1m-.9 1.1h1m-.5 2.5h1m-.9-2h1m-.2-2h1m0-.5h1m-.6.6h1m-.8.9h1m-.5-.8h1m-.7.8h1m-.9.2h1m-.1.5h1m-.6-.1h1m-.3-1.8h1m-.1-.3h1m.9.1h1m-17.5 7.2h1m-.9 1.4h1m-.8-2.2h1m-.4 1.7h1m-.6 1.7h1m-.7 1.2h1m-1-4h1m-.9 3h1m-.7-3.8h1m-1 .3h1m-.6 2.9h1m-.3 1.8h1m-1-3.3h1m-1 .9h1m-.7.3h1m-.7 2.3h1m-.8-1h1m-.3-.1h1m-.9 1.3h1m-.9-.2h1m-.8-3.5h1m-.8-.1h1m-.6 3.3h1m-.7-3.4h1m.5 2.3h1m-7 2.6h1m.7 2.9h1m-.8-3.5h1m-1 2.6h1m-1 .5h1m-.9-2.2h1m-.7 2.6h1m-.7-.5h1m-.5-2.1h1m-.8-.7h1m-.9.1h1m-.6.3h1m-.5-.6h1m-.5 4.8h1m-.9-2.4h1m-.8 2h1m-.8-3.1h1m-.8 2.4h1m-.3-1.9h1m.6-1.8h1m-.9 4.6h1m-.8-2.3h1m-.5.3h1m-.9-1.6h1m-.8 3.9h1m-.7-.3h1m-.9.4h1m.2-1.3h1m-.7-.7h1" stroke="#ee42ee" stroke-width="1"/>
<path d="M108.9 386h1m-.7 1h1m-.6-1.6h1m-.6 1.2h1m-.7-1.8h1m-.4 1.9h1m-1-2.2h1m-.8 1h1m-.6.5h1m-.9 0h1m-10.1 6.4h1m-.9 0h1m-.2-.7h1m-.9.4h1m-.8.3h1m-.1-.4h1m-.6-.6h1m-.9.3h1m-.6-.1h1m-.8-1.3h1m-.8-1.2h1m-.9.1h1m-.7-.4h1m.2-.2h1m.3-1.5h1m-1 .3h1m-.9-.3h1m-8.4 6.2h1m.3.6h1m-1-.7h1m-.8.1h1" stroke="#4a2ee2" stroke-width="1"/>
<path d="M68.8 434.7h1m.8-1.9h1m-.9-.2h1m.4-.5h1m-.6 2.2h1m-1-.4h1m-.9-1.2h1m-.2 1.6h1m-.9.2h1m-.9.5h1m-.1-.7h1m-.7.2h1m.1-.6h1m-1-3.9h1m-.4 3.5h1m-.8-3h1m-.9-.6h1m-.9 1.8h1m-.7 3h1m-.7.2h1m-1-2.4h1m-.7.8h1m-.4-.2h1m-1-1.9h1m-.2 2.6h1m-.9.5h1m.5-4.7h1m-.9.8h1m-.6-.6h1m.2 2.5h1m-.6.2h1m-.3 1.1h1m-.9-1.6h1m1.8 1.9h1m-19.2 6.1h1m-.7.7h1m-.8-4.8h1m-.9 4h1m-.6.3h1m-.8-3.9h1m-.9.8h1m-.7-.6h1m-.8-1.1h1m-.7 4.9h1m-.8-2.5h1m-.6-.6h1m-.7 1.2h1m-.8.5h1m-.8 1.1h1m-.9-1.3h1m.4.5h1m-.7.5h1m-.9.7h1m-.7.3h1m-.9-4h1m-.9 4h1m-.8-3.4h1m-1 1.6h1m-1-3.1h1m-.1 2h1m-.7 2.8h1m-.8-3h1m-1 1.3h1m-1-2.8h1m-.9 3.6h1m-.8 0h1m-.9-3.4h1m-1 2.8h1m-.9 1.4h1m-.1-2.5h1m-.9-1.6h1m-.9 3h1m-1-1.2h1m-.6.9h1m-.5-.3h1m-1 1.6h1m-.6-4h1m-.9 3h1m-.4-4.3h1m-.9 1.9h1m-.9 3.8h1m-.9-2.5h1m-.9 2.5h1m-.1-1.4h1m-1-1h1m-.7 2h1m-.6-3.1h1m-.9-.8h1m-1 .9h1m-.6-1.1h1m-.9-1.1h1m-.7 4.1h1m-1-.2h1m-.6-2.5h1m-.7 2.9h1m-1-1.6h1m-.3-2.2h1m-.7 1.1h1m-.9-1.5h1m-1 1.1h1m-.9 1.8h1m-.7-1.2h1m-1 1.8h1m-.7-2h1m-.7 2.2h1m-.8 1.3h1m-1-3.2h1m-.8-1.1h1m-1 3h1m-.5-.9h1m-.6 2.1h1m-.9-3.4h1m-.8 3.5h1m-1-3.1h1m-.6-1.5h1m-1 0h1m-.6 1.2h1m-1 3.7h1m-.9-1h1m-19 2.6h1m-1-.1h1m-.7.7h1m-.3-1.5h1m-.3 2.4h1m-1-1.9h1m2 1.5h1m-.7.2h1m-.6 1.7h1m-.9-.7h1m-.9-2.4h1m-.9-.9h1m-.7 3.6h1m-.9-.1h1m-.9-1.1h1m-.8-1.1h1m-.9 4.4h1m-.7-4.8h1m-.9 4h1m-1-.4h1m-.7.2h1m-.8-4h1m-.9 3.1h1m-.8-3.8h1m-.7.7h1m-.9 3.4h1m-.6-.5h1m-.7-.6h1m-1 1.6h1m-.5-2.2h1m-.8 1.4h1m-.8-.3h1m-.6 1.1h1m-.4-2.4h1m-.9 2.2h1m-.8-2.8h1m.4 2.8h1m-.9-3h1m-.5-.1h1m-.9 4.2h1m-.8-2.2h1m-.8-2.9h1m-.8 3.9h1m-.9-.1h1m-.8-2.4h1m-.9 1.1h1m-1-.2h1m-.9 1.7h1m-.8-1.9h1m-.9 1.2h1m-1-1.1h1m-.9.2h1m-.9-3h1m-1 4.3h1m-.9-3.8h1m-1 .3h1m-.8 4.1h1m-.9.5h1m-.7.2h1m-.8-5.6h1m0 3.2h1m-.6-2.3h1m-.9 4.6h1m-.5-5h1m-.5 1.5h1m-.3-.7h1m-.9 1.2h1m-.9 1.1h1m-.8-3.4h1m-11.9 6.7h1m1-.8h1m0 1.3h1m-.4-1.2h1m-.9 1.2h1m-.7-.7h1m-.1.5h1m-1-1.2h1m-1 .2h1m-.1-.1h1m.6 1.1h1" stroke="#f9bc44" stroke-width="1"/>
<path d="M91.2 434.7h1m-1-1.4h1m-.6 0h1m-1-1h1m-.5 1h1m-.5-.8h1m-.1-.1h1m-.3.7h1m.9 1h1m-.8-1h1m-.6.9h1m-.6-1.2h1m-.8.4h1m-.9 1h1m-.2.7h1m-.2-1.9h1m-.6 1.4h1m-1-.1h1m-.3-.6h1m-.9.2h1m1.4 0h1m1.6.3h1m.5.6h1m-17.8 5.6h1m-.4.3h1m-.9-4.2h1m-.4.3h1m-.7 4.1h1m-.9-1.3h1m-1-4.3h1m-.8 1.1h1m-.8 3.4h1m-.9-2.7h1m-.5 1.2h1m-.7-.6h1m-.6-1.7h1m-.6 3.3h1m-.3 1.7h1m-.4-1.5h1m-.7-2.5h1m-.9 1.4h1m-.4-1.1h1m-.9.1h1m-.4 3.1h1m-.6-2.3h1m-.9-2.7h1m-.5 4h1m-1-.2h1m-.6-.7h1m-1-2.3h1m-.9 3.4h1m-.8-3.5h1m-.8 4.1h1m-1-2.9h1m-.9 3.5h1m-.7-2.4h1m-1 1.3h1m-.9 1.2h1m-.9-4.3h1m-.7-.6h1m-.6 1.3h1m-.8-1.3h1m-.9 3.6h1m0-3.6h1m-.6 3h1m-1-3.1h1m-.9-.3h1m-.9 2.1h1m-.6 3h1m-.7-5.5h1m-1 4.2h1m-.8 1.1h1m-.4-5.3h1m-1 1.5h1m-.5.2h1m-.9-1.6h1m-1 .1h1m-.8 4.5h1m-.7-4.3h1m-.9.8h1m-.9 1.9h1m-1-3.3h1m-.7 3.2h1m-.9 1.7h1m-.9-2.6h1m-1-1.3h1m-.4-.9h1m-1 5.2h1m-.4-2h1m-.6-3.2h1m-.9 2.1h1m-.7.5h1m-.8 1.9h1m-.9-1.8h1m-.9 2.1h1m-.9-2.2h1m-1 2.9h1m-.9-4h1m-.9-.9h1m-1 2.8h1m-.6-3.6h1m-.9 2.1h1m-.9 1.8h1m-1-2h1m-.7 1.8h1m-.8 2h1m-.8.2h1m-.3-.7h1m-.8.4h1m-.6.2h1m-.7-1.2h1m-.9-2.4h1m-.9 1.4h1m-.4-.1h1m-.8 2.5h1m-1-.6h1m-.8-2.1h1m-1-1.5h1m-1-.9h1m-.9 1.8h1m-.9-2h1m-.9-.1h1m-.9 4.3h1m-.6-4.2h1m-.9 2.5h1m-.9-1.4h1m-.9 1.4h1m-.9 1.5h1m-.9.5h1m-.8-3.5h1m-.5-.8h1m-.8 4.2h1m-.9-2.5h1m-.9 2.9h1m-.8-4.2h1m-.9 1.8h1m-.7 2.6h1m-1-3.6h1m-.9.5h1m-.8 2.5h1m-.8-2.6h1m-.4.3h1m-.9-.2h1m-.8 3.2h1m-.4-2.1h1m-.8.4h1m-.4 1.8h1m-.8-.9h1m-.9 0h1m-.9-1.8h1m-.6 0h1m-1 .8h1m-.9 1.5h1m-.8-1.4h1m-.9.1h1m-.9 1.7h1m-1-4.1h1m-.9 2h1m-.9-.8h1m-.7 2h1m-.8.2h1m-.7-2.9h1m-1 2.9h1m-30.5 3.4h1m-.9 1.1h1m-1-2.5h1m-1-.6h1m-.8 2.5h1m-1 .3h1m-.8-2.2h1m-.7 2.2h1m-.6-1.5h1m-.7.9h1m-.1 1.2h1m-.7-.7h1m-.6.6h1m-.8-.1h1m-.8-.4h1m-.9-1.4h1m-.9 1.9h1m-.7.7h1m-1-.4h1m-.8-.6h1m-.8-1.9h1m-.6 3.2h1m-.7-4.9h1m-.9 1h1m-1-.7h1m-.9 1.1h1m-.5 3.2h1m-.4-.2h1m-.9-3.3h1m-1-.8h1m-.5 0h1m-.9.3h1m-.9 5.3h1m-.8-1.7h1m-.8-2.8h1m-.9 0h1m-1 3.3h1m-.9-2.2h1m-.8 1.9h1m-.6-2.9h1m-.5-.8h1m-.7 1h1m-.9 1.3h1m-.9.6h1m-.8-1.3h1m-.8-1h1m-1 4.6h1m-.8-3.5h1m-.8 2.2h1m-.9-1.7h1m-1 1.7h1m-1 .5h1m-.9-2.2h1m-.9-2.5h1m-1 2.6h1m-.9 1.3h1m-.9-.6h1m-1-1.9h1m-.9 2.4h1m-1-2.3h1m-.9 3.4h1m-.8-3.7h1m-.8 1.2h1m-1 1h1m-1-1.1h1m-.9.5h1m-1-3.1h1m-.8 5.5h1m-.9-3.6h1m-.8 1.1h1m-.9 1.7h1m-.9-3.4h1m-.8 1.2h1m-.9-2.5h1m-.8 4.5h1m-.8-1.2h1m-.8-2.9h1m-.8 2.2h1m-1-2.3h1m-1 3.6h1m-.8 1.7h1m-1-3.8h1m-.9-.8h1m-.7 1.5h1m-.8.2h1m-1 1.7h1m-.8-.8h1m-.4-1.6h1m-.6 3.2h1m-.9.1h1m-.4-4.5h1m-.7 3.1h1m-.9-1.9h1m-.9-.7h1m-.9 2.3h1m-.7 1.3h1m-.7-1.1h1m-1 .4h1m-.8-1.5h1m-1 1.1h1m-.5-.8h1m-.8 1.4h1m-.8-4.4h1m-.8 4h1m-.8 1.5h1m-.8-3.2h1m-.9-2.2h1m-.9 2.6h1m-.9-2.7h1m-.7 2.6h1m-.6 2.2h1m-.5-.1h1m-.4-.1h1m-1-3.2h1m-.5-1.1h1m-.9 2.2h1m-.9-2h1m-1 4.4h1m-.8-4h1m-1 2.3h1m-.7-.1h1m-.9-2.5h1m-.8 2.4h1m-.9-3.1h1m-.9.6h1m-1 2.3h1m-1-1.3h1m-.8 1.7h1m-.8 2.4h1m-.8-5.4h1m-.9 5.6h1m-.9-3h1m-1-1.2h1m-.8.2h1m-1 .2h1m-.9.7h1m-.9-.8h1m-.8-1.5h1m-.9 1.9h1m-.8-1.4h1m-1 2.4h1m-.9 2.3h1m-.9-4.3h1m-.3 1.4h1m-.9-1.5h1m-.9 2.1h1m-.9-3.3h1m-1 2.5h1m-.8-2.5h1m-.9.3h1m-.8 2.2h1m-.9.7h1m-.9-.4h1m-.9 1h1m-1 1h1m-.8-3.7h1m-1 3.2h1m-.5.3h1m-.4-4.6h1m-.8 3.9h1m-.5 1.5h1m-.6 0h1m-.9-5.1h1m-.7 0h1m-.8 5.1h1m-.9.5h1m-.9-2.2h1m-.2-.5h1m-.9.3h1m-.5-.7h1m-1 .3h1m-.9-.8h1m-.7-1.9h1m-24.3 6.2h1m-.7-.4h1m.3 1h1m-.6-1.3h1m.3 1h1m-.9-.8h1m-.5 2.6h1m-.8-1.5h1m-.6.3h1m-.9-1.2h1m-.9 1.6h1m-.8 1.5h1m-.9-.5h1m-1 0h1m-.7-.8h1m-.6 1.8h1m-.9.2h1m-.6-.1h1m-.8-1.7h1m-.9-.4h1m-.9 1.9h1m-.7-3.5h1m-.2.7h1m-.9 3.9h1m-.6-3.3h1m-.7 1.5h1m-.7 1.2h1m-.7-1.8h1m-.7-1.9h1m-1 4.7h1m-.9-3.6h1m-.7 2.9h1m-.9-4.6h1m-.2 1.7h1m-.8 3.2h1m-.9-1.4h1m-1 2h1m-.9-3.9h1m-1-.8h1m-.5 3.2h1m-1-1.3h1m-.3-1.3h1m-.7 1.4h1m-.9-2.5h1m-.5 2.6h1m-.5-1.5h1m-.9 3.1h1m-1-3.8h1m-1 .6h1m-.7-1.3h1m-1 2.9h1m-.6 1.7h1m-1-.8h1m-.7.8h1m-1 .1h1m-.3.7h1m-.5-1.1h1m-.9-3.7h1m-.7 4.1h1m-.7-4.8h1m-.6 4.3h1m-.7-1.7h1m-.7-.4h1m-.8 2.6h1m-.3-4.7h1m-1 1.1h1m-.4 2.7h1m-.6-1h1m-.9-.1h1m-.5-2.5h1m-.6 2.7h1m-.8-.3h1m-.6-.5h1m-.6-2.2h1m-1 .6h1m-7.9 5.8h1" stroke="#f27512" stroke-width="1"/>
<path d="M77.4 452.8h1m-.6-1.2h1m-.6-.1h1m-1 0h1m-.5-.1h1m0-.1h1m-.3-.5h1m-.8 2.2h1m-.5-2.7h1m-1 .5h1m0 1.6h1m-1-1.5h1m-.9-.8h1m-.7 2.6h1m.1.2h1m-.7-.8h1m-.9-1.5h1m-.5.2h1m-1-.8h1m.1 1.5h1m-.5-.2h1m-.6.1h1m-.8-.2h1m-.9-1.2h1m-.8 1.5h1m-.7-.5h1m-.5-.9h1m-.8 1.2h1m-.9-1.1h1m-.6 2.1h1m-.9-1.9h1m-.4 0h1m-.6 1.1h1m-.9-1.4h1m.4 1.9h1m-.6-1.4h1m-.8 1h1m-.9.7h1m-.7-.7h1m-.9-.8h1m-.4.6h1m-.7 1h1m-.2.4h1m-.9-.1h1m-.9-.5h1m.3.4h1m-.9-.9h1m.8.7h1m-31.8 6.5h1m10.9-2.3h1m-.6-1.6h1m-.8 3.7h1m-.8-4.3h1m-.7 2.4h1m-1 1.5h1m-1-2.1h1m.2-2.9h1m-.3 5.2h1m-.8-.7h1m-.8.7h1m-.6-4.8h1m-.7.6h1m-.9 1h1m-1 3.1h1m-.9-3.7h1m-.9 2.1h1m-.9-2.6h1m-.6 2.3h1m-.6-3.2h1m-.7 2.1h1m-.9 3.5h1m-1-1h1m-.4-.1h1m-.2-3.5h1m-.8 4.5h1m-.5-4.3h1m-.8.3h1m-.9 2.2h1m-1-2.1h1m-.9 2.2h1m-.8-.4h1m-.6 2.2h1m-.5-2h1m-1-.4h1m-1-3.5h1m-.2 4h1m-.9-1.5h1m-.8-.3h1m-1-1h1m-.7 3.4h1m-.5-.7h1m-.7-.7h1m-.6-3.1h1m-.5 3h1m-.3-1.8h1m-.5.3h1m.7 3.2h1m-.8-2h1m-.6 1.5h1m-1-1.8h1m-.8 2.6h1m-.8-1.4h1m-.7-2.4h1m-.9 4.4h1m-1-4.7h1m-.7 1.9h1m-.6-.2h1m-.6 1.6h1m-.5-.2h1m-1-3.2h1m-.5-.1h1m-.1 2h1m-.6-2.5h1m-.5 3.3h1m-.8-.7h1m-.9 2.2h1m-.7-3.2h1m.9 3.1h1m-35.9 4.8h1m.5-1.2h1m-.9-2.5h1m-.8.7h1m0-.3h1m-.6.9h1m2 .9h1m-.1 1.6h1m4.7-3.7h1m-1 .7h1m-.9 5h1m-.9-4h1m.4-1.7h1m-.8 1.3h1m-.9 1.8h1m-.2-2.6h1m-.9 1.2h1m-.8-.5h1m-.4 2.6h1m-.9-1.2h1m-.6-.6h1m-.7-.4h1m-.9-.9h1m-.8-.9h1m-.9 5h1m-.8-1h1m-.2-2.9h1m-.7 1.3h1m-.9.3h1m-.5-2.3h1m-1 3.2h1m-.9-1.5h1m-.6.6h1m-.7 0h1m-.3.2h1m-.8-1.6h1m-1 3.2h1m-.5.1h1m-.7.6h1m-.8-3h1m-.3.5h1m-1 3h1m-.8-1.6h1m-.9-4.1h1m.2 5.2h1m-.8-2h1m-.9-3h1m-.8 2.3h1m-.7-1.6h1m-.6 3.5h1m-.2.4h1m-.4-3.4h1m-.7 3.7h1m-.4-4.6h1m-.9-.3h1m-.9 2.2h1m-.3-.8h1m-1-1.3h1m-.9 1.2h1m-.9 3h1m-.9-.2h1m-.6-3.6h1m-.7-.5h1m-.8 5.6h1m-.7-1.9h1m-.8 1.4h1m-.9-3.8h1m-.8.7h1m-.6.9h1m-.9-.9h1m-.9 2.9h1m-.7-2.8h1m-.5-2.3h1m-.8 4.7h1m-.7.5h1m-.7-2.1h1m-.8-1.2h1m-.8 3.4h1m-.9-1.7h1m-.6 1h1m-.7-.5h1m-.8-2.2h1m-.3-1.5h1m-25.5 8.2h1m-.6-.3h1m-.4-1.4h1m-.9 1.7h1m-.5-2.3h1m-.9.6h1m-.4-.6h1m-.7 4.1h1m-.8-2.9h1m-.7.8h1m-.5 2.8h1m-1-.6h1m-.8.2h1m-.8 1.1h1m-.7-3.7h1m-.8 3.1h1m-.9-1.1h1m-.7-.3h1m-.8 2.2h1m-1-2.4h1m-.8.6h1m-.7-1h1m-.9-.5h1m-.9 3.1h1m-.3-2.5h1m-.9-.1h1m-.9 2.2h1m-.7.3h1m-1-.6h1m-.9-.1h1m1.2-.2h1m-.7-3.7h1m-.7 4.5h1m-.9.2h1m-.9-.8h1m1.9-3.4h1m-.1-1.3h1m-.5 1.6h1m4.3-1.8h1m-.8 1.8h1m-.8 0h1m-16.7 4.3h1m-.2-.2h1m-.7.8h1m-.8-.7h1m-.5.3h1m-.2-.2h1m-.8 1.4h1m-.3-1.1h1m-.6 1h1m-.9-.8h1m.7 2h1m-1 .1h1m1.7-2.7h1m-.3 1h1m-.9-.1h1m-.7 3.5h1m-.8-1.9h1m-.3-.8h1m-1 1.6h1m-.8-2.1h1m-.4.2h1m-.7 3.2h1m-1-1.4h1m-.8 1.2h1m-1 .4h1m-.6-.5h1m-.8-3h1m-.9 3.5h1m-1-.6h1m-.9-2.8h1m-1 1.5h1m-.6 1.9h1m-.9-2.4h1m-.9-.9h1m-.9.8h1m-.8 2.7h1m-.7-.9h1m-.9.9h1m-.6-.7h1m-.7.1h1m-.7-1.6h1m-.7-.4h1m-.9-.2h1m-.8 3.4h1m-.7-2.4h1m-1 .6h1m-.5 1.4h1m-1-3.1h1m-.7 1h1m-.9 2.8h1m-.5-2.6h1m-1 1.3h1m-.5.6h1m-.8-1.2h1m-.3 1.8h1m-1-.7h1m-.9.2h1m-.9-1.2h1m-1 1.4h1m-.7-.5h1m-.9.6h1m-.2-.4h1m-.3-1.1h1m-.6 0h1m-.9 1.6h1m-1-2h1m-.9-.1h1m-1-.2h1m-4.3 2.6h1m-.6 0h1m1.5.7h1" stroke="#6ccbf3" stroke-width="1"/>
<path d="M106.2 475.3h1m-.9.5h1m-.2-.5h1m-.7-.1h1m.7-.5h1m-.9-.3h1m-.5.9h1m-1-.5h1m-.9-.3h1m.9-.7h1m-.7.9h1m-.6-.6h1m-1-.5h1m-.6 1.3h1m-.6-1h1m27.6-2.4h1" stroke="#3fcc22" stroke-width="1"/>
<path d="M60.7 462.7h1m-.4 0h1m-.4 1h1m-.3-.6h1m.3.6h1m-.5 0h1m-.6.2h1" stroke="#3aa83a" stroke-width="1"/>
<path d="M38.5 467.8h1m-.7 1h1m-.9-1.8h1m-.9-.2h1m-.8 1.2h1m-.9 2.1h1m-.7-3.8h1m-.9.3h1m-.9.9h1m-.7 2.5h1m-1-1.8h1m-.6-2.7h1m-.7 1.2h1m-.6-.1h1m-.9.7h1m-.7 2.7h1m-1-3.6h1m-.3 1.8h1m-1 0h1m-.8-1.6h1m-.6.4h1m-1 .7h1m-.4 3h1m-.6-2.1h1m-.8-.8h1m-.9-1.9h1m-.6 1.2h1m-1 2.1h1m-.7-.2h1m-.7-2h1m-.4.2h1m-1 1.4h1m-.9-.8h1m-.2 3h1m-.9-1.9h1m-1 2h1m-.6-1.4h1m-7.2 1.9h1m-.7.9h1m-.7.1h1m.4-1h1m-.9 2.8h1m-.7-3h1m-.7 3h1m-1-1.8h1m-.9 1.5h1m-.9 1.2h1m-1-3.2h1m-.5 3.8h1m-.9-4.6h1m-.6 2.5h1m-1 .9h1m-.9-2.7h1m-.4 4.1h1m-.7.8h1m-.9-3.4h1m-.7 1.5h1m-.6-3.7h1m-.5 0h1m-.8 5.5h1m-.6-.4h1m-1 .3h1m-.6.3h1m-.7-2.1h1m-.7-3.1h1m-.9.1h1m-.6 3.1h1m-.9.2h1m-.8 1.5h1m-.2-5.5h1m-.8 3.9h1m0-3.7h1m-.9 5.5h1m-1-3.9h1m-.6 2.8h1m-.9 1.3h1m-.8-2h1m-.7 1.7h1m-.9-1.4h1m-.2-1.9h1m-.5 1.9h1m-.6-1.4h1m-.8 2.3h1m.1-2.4h1m-.9 1.6h1m-.6-.7h1m-1 .1h1m.1-.5h1m0-.1h1m.4 1h1m-.8-1.6h1m-.7 3h1m1.2-1.7h1m-.6 2h1m-1-3h1m-.9 2.4h1m-.7-3.3h1m-.8 3.4h1m-.9-4.5h1m-1 .9h1m-.9.5h1m-.8-.4h1m-.9 3.4h1m-.8-4.4h1m-.3 1.5h1m-16.3 4h1m-.4.8h1m-.9-.6h1m-.9 1.1h1m-.7-1.5h1m-.3.9h1m-1 .4h1m-1-1.3h1m-.9 1.5h1m-.9-.7h1m-.5.1h1m-.9 1h1m-.9-.2h1m-.8-.5h1m-.4.7h1m-.5-1.9h1m-.3-.1h1m-1 2h1m-.8 0h1m-.6.6h1m-.6-2.2h1m.1 1h1m-1 .2h1m-.5-1.3h1m-.8 1.8h1m-.8-.3h1m-.9.9h1m-.8-2.4h1m-.9 1.3h1m-.7-.8h1m-1 1.8h1m-1-1.4h1m-1 .8h1m-.8-1h1m1.4-.2h1m-.2-.1h1m-.7-.5h1m-.6.4h1" stroke="#2a3ef2" stroke-width="1"/>
<path d="M166.4 414.6h1m-.5-.3h1m-.6 0h1m0 1.1h1m-.4.1h1m-.9.4h1m-1-.4h1m-.7.8h1m-1-.5h1m-.5.6h1m-.7.2h1m-.7.3h1m-.8.2h1m-.5-.1h1m-.5 1.4h1m-.9.3h1m-.4.2h1m-.9 4h1m-.6-.3h1m-31.5 6.1h1m-.8.1h1m3.3-.6h1m-.6-.4h1m-.9.6h1m-.3-.8h1m.1.1h1m-.8 0h1m-.3-.2h1m-.3.3h1m-.7.3h1m-.9-.1h1m-.5.3h1m-.2-.2h1m.1.1h1m-.2.5h1m-.5-.2h1m-.1.2h1m-.4 0h1m-.1.1h1m6.3 0h1m.3-.3h1m-.8.5h1m.2-.6h1m-.9-.1h1m-1 .1h1m-1-.4h1m-.3.2h1m.3-.5h1m-.6-1h1m-1 .3h1m-.8-.8h1m-.2-.4h1m-.6.6h1m-.9-1.1h1m-28.7 3.9h1m10.9.2h1m-.4-.3h1m1.6.7h1m-.7.2h1m-.8-.2h1m-.6.2h1m-.6-.1h1m-.2-.5h1m0 .1h1m-.5.4h1m-1-.7h1m-.8.1h1m1.1.3h1m-.4-.4h1m2.9 16.3h1m-.9-2.1h1m-15.7 4.9h1m-.1.7h1m-1-.1h1m-.3-.1h1m.4.6h1m-.3.1h1m0-.5h1m-.4.6h1m-1 0h1m0-.1h1m-.6-.3h1m.1-.4h1m-.2.1h1m-.8.2h1m-.6.2h1m-.9-.6h1m-.8.4h1m-.3-.3h1m-.9.2h1m-.9-.6h1m-.8-.2h1m-.9-.1h1m.3-.2h1m-.8.2h1m-.6-.5h1m-.7-.2h1m-.8-.4h1" stroke="#bcc6d0" stroke-width="1"/>
<path d="M103.9 492.8h1m-.1-.5h1m-1 .7h1m-.9.3h1m-.1-.2h1m-.6-.3h1m-.5-.3h1m-.5-.1h1m-.6.2h1m.7.2h1m-.4-.1h1" stroke="#b8c0c8" stroke-width="1"/>
<path d="M146.5 446.5h1m0-1.9h1m-5 5.4h1m-1.7 4.2h1" stroke="#d8d8b0" stroke-width="1"/>
<path d="M226 393.8V499.7H335.4" fill="none" stroke="#000" stroke-width="1.35"/>
<path d="M222.8 417.9H226M222.8 447.3H226M222.8 476.9H226M235.6 499.7V502.7M255.5 499.7V502.7M275.4 499.7V502.7M295.2 499.7V502.7M315.2 499.7V502.7M335 499.7V502.7" stroke="#000" stroke-width="1"/>
<path d="M254.5 440.9h1m-1-.2h1m.1-.4h1m2.3-1.5h1m-1-.4h1m.3 1.1h1m.7-.8h1m.2 1.8h1m-.6.1h1m-.5-.4h1m-11.3 3.7h1m-1 .8h1m-.7-.5h1m-.9-1h1m-.7 2.1h1m-.7-.5h1m-.6 1.4h1m-.8-.1h1m-.5-3.9h1m-1-.4h1m-.4 4.8h1m-.9-4.4h1m-1 .2h1m-.6 1.9h1m-.8 2h1m-.9-2.8h1m-.7-1.1h1m-.7 2.9h1m-.6 1h1m-1-2.5h1m-.9-2h1m-.9 5.2h1m-1-3.1h1m-1 2.6h1m-.6-5h1m-.6 4h1m-.9 1.2h1m-1-1.1h1m-.6-4.3h1m-.6-.2h1m-.8 3h1m-.9 2.6h1m-.7-4.9h1m-.9.4h1m-.1 4.5h1m-.9-.9h1m-.4-.8h1m-.8-1h1m-.9-1h1m-.5 1.2h1m-.8 2.6h1m-.9-1.5h1m-.6-1.9h1m-.7 1h1m-.9-.3h1m-1 1.5h1m-.8-1h1m-.7-.2h1m-.7.2h1m-.8 1.8h1m-.7-.9h1m-.6-1.1h1m-1-2.6h1m-.9 3h1m-.7-1.4h1m-.9 0h1m-.7 3.5h1m-15 .3h1m-.8.6h1m-.8-.7h1m.2 1.3h1m-.5 2.1h1m-1-1.7h1m-.7-1.6h1m.4.4h1m.1 1.4h1m-.9-.7h1m-.8-.5h1m-.9 2.6h1m-.6-2.7h1m-.9 1.4h1m-.9 3.5h1m-1-.3h1m-.8.1h1m-.6-4.1h1m-.4 3.2h1m-.5-1.1h1m-.7.9h1m-.7-3.3h1m-1 4.3h1m-.9-4.4h1m-.5 4.2h1m-.9-2.4h1m-.8-2.1h1m-.2 4.5h1m-1-2.6h1m-.5-.1h1m-.5 2.7h1m-1-.2h1m-.8-2.1h1m-.9.9h1m-1 1.5h1m-.8-.7h1m-.9-.9h1m-.9-2h1m-.9.2h1m-.4-1.3h1m-.4 3.5h1m-.6-2.1h1m-1 4h1m-1-5.5h1m-.6 1.1h1m-.6 1.4h1m-.5-.7h1m-1 1.1h1m-.9.9h1m-.9-2.9h1m-9.2 10.2h1m-.7-1.1h1m-.7 0h1m-1-.1h1m.1-3.8h1m-.3 5.4h1m-.9-4.3h1m-.5-1h1m-1 1.1h1m-.7-.7h1m-.9 4.1h1m-.6.3h1m-1-5.3h1m-.9 1.3h1m-1-1h1m-1 .2h1m-.4-.1h1m-.7 3.1h1m-.6.1h1m-.7-3.6h1m-.8 1.4h1m0 2.7h1m-.8-1.1h1m-.7.8h1m-.6 1.8h1m-1-2.6h1m-.8 1h1m-1-.9h1m-.6.2h1m-.2-.3h1m-.6 2.7h1m-.4-1h1m-.5-.4h1m-.2-.1h1m-.2 1.2h1m-.9-.1h1m-1-.4h1m0 .3h1m.3-.1h1m32.8-2.2h1m-57.3 7.9h1m.4.7h1m-.2-.2h1m5.5-2.5h1m-.7-1.5h1m-.7-.5h1m-.8 4.2h1m-1 .6h1m-1-1.3h1m-.9-1.9h1m.6 2h1m-.7 1.1h1m-1-5.3h1m-.7 1.4h1m-.9-.5h1m-.9 1.8h1m-.2 2.7h1m-.9-.8h1m-1-.9h1m-.6-.1h1m-.6 2.1h1m-.3-.7h1m-.9-4.3h1m-.9.2h1m-.9.1h1m-1 1.9h1m-.8-.2h1m.2.2h1m-.9-1.4h1m-.9-1.1h1m-.7 3.1h1m-.7-.7h1m-.8 1.9h1m.4.8h1m.4-1.9h1m-.8-1.8h1m-.8 1.3h1m-.8.8h1m-.8-1.2h1m-.8-2.2h1m-.9-.3h1m-.6 1.5h1m-.7 3.6h1m-.6-2.3h1m-.6-3h1m.2 4.7h1m-.9-2.1h1m-.8-.7h1m-1 2h1m.7-.2h1m-.9 1.3h1m-44.3 6.3h1m1 .4h1m11.2-3h1m-.5-.4h1m.3.5h1m.6-.8h1m.2-1.1h1m2.3-.2h1m3 4h1m-.6-.5h1m.8-2.6h1m-.3-1.3h1m-.9-.4h1m-.5 2.3h1m-.9-1.1h1m-.5-.8h1m-.7 2.8h1m-.9-1h1m-.1-1.1h1m0 0h1m-.5.2h1m-.5 1.5h1m-.8.6h1m-.4-2.3h1m-.9 2.7h1m-.6 1.7h1m-.3-1.2h1m-.6 1.4h1m-.6-3.1h1m.9-1.8h1m-.5-.7h1m-.9 2.6h1m-.3 1.1h1m-.8-1.7h1m-.9 2h1m-.9 1.6h1m-1-2.3h1m-.9-3.4h1m-.9.7h1m-.7.8h1m-.9-.8h1m-1 2.6h1m-.7-2.5h1m-.5 2.1h1m-.8.4h1m-.6-2.9h1m-.8 1.5h1m-.7.9h1m-.8-.5h1m-.8-1.9h1m-44.7 10.1h1m-.3-3.6h1m-.4 2.7h1m.1-3.7h1m-.7 1.7h1m-.3-1.1h1m0 1.5h1m2.2 1.5h1m-1 1.4h1m5.1.6h1m11.6-5.2h1m-.7-.2h1m.9 0h1m-.6 2.5h1m-1-.6h1m-.9.2h1m-.8.9h1m-.7.4h1m-1-.9h1m-.5-1.4h1m-.9 2.1h1m-1-1.6h1m-.8 2.4h1m-.9-3.7h1m-.9 2.7h1m-.5-2.2h1m-.8 1.9h1m-.8-.3h1m-.9 2.2h1m-.4-.9h1m-.8.8h1m-.9-.7h1m.3 1.8h1m-1-3.2h1m-1 3.2h1m.9-2.3h1m-.4.8h1m-.6 1.4h1m-.5-.7h1m-.5-.3h1m-.2-.1h1m-.8.2h1m-.5.8h1m.4 0h1m-39.7.4h1m-.5 1.5h1m.1 1h1m.9-1.8h1m-.2 2.3h1m.3.6h1m1-2.4h1m1.8 3.8h1m.3-4h1m.2 2.3h1m22.2-1.7h1m-.9-.2h1m.5.5h1m-.6-.6h1m-.8 0h1m-.2-1h1m-.9.6h1m-.7 1.1h1m-.8-1.8h1m-.9 2.5h1m-.7-2.3h1m-.3 2.4h1m-.7 0h1m-.9-.2h1m-.9-.4h1m-1-1.1h1m.5 2.3h1m-.7-2.7h1" stroke="#34e88c" stroke-width="1"/>
<path d="M283.5 398.6h1m-4.8 6.1h1m-.8-.1h1m-.6-2.2h1m-.8-.2h1m-.1-.3h1m-.1-1.3h1m-.7-.1h1m.3-.3h1m-.9-1h1m-14 10.8h1m1.6.5h1m-.9-1.1h1m-.7.3h1m-.7-1h1m.5 1.7h1m.4 0h1m-.4-5.1h1m-.8.7h1m-.9.1h1m-.8 1.8h1m-.8-2.8h1m-.9.2h1m-.9 3.7h1m1.4 1.7h1m-.4-.7h1m-.7.3h1m-.8.6h1m-17.3 6h1m-.3-.7h1m-.9-2h1m-1-.1h1m-.5.1h1m-1 1.7h1m-.5-.6h1m-.3-2.3h1m-.7 1.2h1m-.2-2.9h1m-.9.7h1m-.6.9h1m-.5-1.8h1m-.4.1h1m-.8 2.4h1m-.5 2.8h1m-.5-4.2h1m-.7.2h1m-.3.2h1m-.4 2.7h1m-.9 1.6h1m-.9-.3h1m-1-5.3h1m-1 4.7h1m-.8-1.9h1m.2 2.5h1m-.9-.5h1m-.9-4.8h1m0 .3h1m-1 4.5h1m-.2.6h1m-.9-.8h1m-.9-1.5h1m-.6-1.6h1m-.8 1h1m-.7 1.9h1m-.2 0h1m-.8-2.4h1m-.7-.4h1m-.3-1.2h1m-.2.1h1m-.8-.4h1m-.8 2.9h1m-.7-3h1m-.7.9h1m-.9 3.3h1m.8-2.2h1m-1 1.2h1m-21.3 4.8h1m-1 3.2h1m-.3-1.9h1m-.5-1.6h1m-.4 2.2h1m-.3-1.3h1m-1-2.9h1m-1 1.5h1m0 3.6h1m-1 .4h1m.3.1h1m-.9-2.5h1m-.7-3.1h1m-.6 3.2h1m-.7 2.2h1m-1-2.6h1m-.1-2.4h1m-.9 3.5h1m-.6 1.9h1m-.9-5.6h1m-.5 2.9h1m-.6 2.4h1m-.7-3.2h1m-.3 1.6h1m-.7-2.8h1m-.2 1.6h1m-1 1.7h1m-.6 1h1m-.8-3.2h1m-1 3.4h1m.7-4.7h1m-.3 1.8h1m-.9 2.6h1m-.7-2.7h1m-.7 2.5h1m0-5h1m-.5 3.5h1m-.6-2.6h1m-.8-.2h1m-.8 1.8h1m-.9-2.6h1m-.1 4.1h1m-.1-2.7h1m-.8 1.9h1m0-.5h1m-20.5 4.9h1m-1 2.8h1m-.5-3.1h1m-.8 2.4h1m-.6-2.3h1m-.7 1.5h1m-.7-.1h1m-.8-.2h1m-.3 2.1h1m0-3h1m-.9 2.9h1m-.9 1.2h1m-.8-.3h1m-.9-.9h1m-.7.4h1m-.1-1.7h1m-.9.5h1m-.8 2.1h1m-.9-2.1h1m-.3-1.5h1m-.9.9h1m-.5-1.8h1m-.8 2.8h1m-.9-3.7h1m-.8 1.8h1m-.9.8h1m-.9 1.6h1m-.9 1.1h1m-.9-4.6h1m-.5 2.1h1m-.6 1.1h1m-.7-.9h1m-.3 1h1m-.8.8h1m-1-3.8h1m-.9 2.2h1m-.5 1.8h1m-.4-2.2h1m-.9-.6h1m-1-2.5h1m-.8.7h1m-.9 1h1m-1-1h1m-.8 2.5h1m-.6-.1h1m-.5.6h1m-.5-.2h1m-.8-1.6h1m-.5.6h1m-.9 0h1m-.7.3h1m-.9-.9h1m-.9-1.6h1m-.8 2h1m-1 .1h1m-1 0h1m0-.3h1m12.1-.8h1m30.7.3h1m.8 1.1h1m-1 0h1m-.2.6h1m-1 0h1m.1 1.6h1m-1 0h1m-.9.3h1m-1 0h1m-.6.1h1m-1 0h1m-64.1 2.3h1m-.7.4h1m-.8 2.2h1m-1 1.2h1m.2-4h1m-.7 2.2h1m-1-1.8h1m-.8-.9h1m-.2-.9h1m-.8.4h1m-.1 1.1h1m-.8 3.2h1m-1-2.8h1m-.6 2.7h1m.8-2.9h1m2.1-2h1m51.4 5.7h1m.2-2.5h1m-1 0h1m-.7-.3h1m-1 0h1m-61.7 8.9h1m-.9-.8h1m-.6.3h1m-.5-1.8h1m-.8-1.4h1m-.8 3.4h1m-.6-3.6h1m-.1 4.1h1m-.7-5h1m-.8 3.3h1m.2-1.6h1m-.4 2.3h1m-.9-1.4h1m.2 2.4h1m31.1-3.7h1m2.3-.4h1m-1 0h1m-.7-.4h1m-1 0h1m.6-.1h1m-1 0h1m2 .4h1m-1 0h1m3.1 1.4h1m-.4.2h1m-1 0h1m.3-.4h1m3-1h1m-1 0h1m1-1.9h1m-.1.1h1m-1 0h1m-67.9 10.5h1m.2-.8h1m.8-3.3h1m.3 2.1h1m3.2.7h1m-1-3.1h1m-.7 0h1m-1 1.8h1m-.9.9h1m-.7-2.7h1m-.7 4.4h1m-.9-3.7h1m-.9 3.2h1m-.9-3.7h1m-.5 5.1h1m.6-4.9h1m-.8.4h1m-1 2.9h1m-.8-3.9h1m-.7.9h1m-.8 3.6h1m-.9-3.5h1m-1 1.1h1m-.9-1.9h1m-1 .9h1m-.8 4.6h1m-.9-.2h1m-.7-3.8h1m-.3 1.5h1m-.8-2h1m-1-.1h1m-1 1.6h1m-.6 1.1h1m.2-1.2h1m-.9-.3h1m-1 1.9h1m-.4 1.5h1m-1-4.9h1m-.4 2.5h1m-.6-1.2h1m-.5 2.6h1m-1-2.9h1m-.8 2.8h1m-.9-.8h1m-.5-1.9h1m-.6 2.8h1m-.7-2.8h1m-.9 1.9h1m-.8.4h1m-.8.1h1m-.7-1.9h1m-.6 1.1h1m-1 1.6h1m-.7-.2h1m.4.8h1m-.8-.8h1m-.3-.3h1m-.3 0h1m-.8 1.2h1m-.4-3.3h1m-.8 1.5h1m-.8-1.1h1m-.9 1.5h1m-.7-.4h1m.5 1.4h1m-.3-.8h1m-.5.7h1m-.9.2h1m-.9-2.2h1m-.9 1.8h1m-1-.7h1m-37.3 3.7h1m3.7.3h1m4.2-.8h1m-.2-.6h1m1.4-.4h1m1.3 2.7h1m-.9-1.8h1m-.9 2.2h1m-1 .3h1m-.5-3.1h1m-.6-1h1m-.4 4.6h1m-.3-.2h1m-.8-.3h1m-.7.7h1m-.9-.6h1m-.2-2.2h1m-1-.7h1m-.3-.6h1m-.9 4.2h1m-.9-2.8h1m-.9-.8h1m-.2 1h1m-1 2.9h1m-.7-.2h1m-1-4.5h1m-.8 2h1m-.8-1.4h1m-.8.7h1m-.8.8h1m-.8 1.7h1m-.9-1.2h1m-.9-.9h1m-.8 1h1m-.8.5h1m-1 1.9h1m-.7-.7h1m-.9-.1h1m-.5 1.2h1m-.8-3.1h1m-.9 1h1m-.9-1.5h1m-.8 1h1m-.5-1.9h1m-.9-.1h1m-1 3.2h1m-.7-2.5h1m-.4-1.9h1m-.7 2.8h1m-.7-2.4h1m-.9 5.2h1m-.6-3.9h1m-.7.5h1m-.5-2.1h1m-.9 4.6h1m-.9-1.3h1m-.9.9h1m-.6.6h1m-.3-3.8h1m-1 2.2h1m-.9-2.3h1m-.8-.8h1m-.9 3.1h1m-.4 1.9h1m-.3-4.3h1m-1-.6h1m-.9 1h1m-.8 4h1m-.7-1.6h1m-.6-1.4h1m-.9 1.5h1m-.6-.4h1m-.8-.8h1m-.9.2h1m-.9-2.4h1m-.7 1.4h1m-.9 2.1h1m-.4-.5h1m-.9.5h1m-.7-3.2h1m-.8 2.5h1m-.8 1.1h1m-1 .9h1m-.3-4.4h1m-.7.2h1m-.6 4.8h1m-.8-5h1m-.3 3.5h1m.1-.5h1m-30.9 7.7h1m3.5-1.7h1m-.8.3h1m.1.8h1m-.5-1.7h1m5.3-3.1h1m-.5 5.6h1m.4-5.6h1m1 .4h1m-.5-.6h1m-.3 3.9h1m-.8-1.8h1m-.1 2.6h1m.2-3.8h1m-1 4.1h1m-.9-3.1h1m1.6 1.1h1m-.5 1.3h1m-1-2.7h1m.7 2.5h1m-1-3.2h1m-.8-.9h1m-.5 4.1h1m.1-3.8h1m-.5 3.4h1m-.3-3.2h1m-.6 2.2h1m16 3h1m8.9-3.8h1m1.6.7h1m-1 0h1m2.8-1.1h1m-.9-.1h1m-1 0h1m-.9-.2h1m-1 0h1m.3-.4h1m-73.1 10.1h1m6.9-.3h1m1.5-3.9h1m.2 4.2h1m3.9-2.6h1m-.1-1.3h1m14.5-1.1h1m20.9 1h1m.5 2.5h1m-.1 1.9h1m-79 6.2h1m-.3.1h1m13.6-3.5h1m-.6 0h1m12.4 2h1m-.7 1.3h1m-.1-5.2h1m2.1.7h1m0 4.2h1m1.1-2.6h1m4.6 3.3h1m-42.9 2.7h1m-.1-2.4h1m-.8 2.5h1m-.5-1.7h1m1 3.2h1m-.4-4h1m-1 1.2h1m-.8 4.1h1m-.5-2.1h1m-1 0h1m4.1 2.1h1m6.4-.4h1m10.6-3h1m7 2.4h1m.1.2h1m35.3-.7h1m-73.1 2.3h1m2.4 2.1h1m.1-1.3h1m-.3 2.2h1m-.8-2.4h1m-.4 3.1h1m-1-1.1h1m-.8-.3h1m.4.3h1m-.3-2.9h1m.3.7h1m-.9 3.4h1m-.5.6h1m-.6-.5h1m-.8-.3h1m-.6-3.6h1m1.6 3.1h1m-.4-3.4h1m-.2 2.1h1m20.9-.3h1m-.2.2h1m.4.6h1m.8-1.4h1m.5 1h1m2.5-.5h1m1.2-1.2h1m-.7.3h1m.7 0h1m-.4.1h1m-.7-.8h1m-5.1 16.5h1m-1 0h1m.2.1h1m-1 0h1" stroke="#f22a3a" stroke-width="1"/>
<path d="M282.4 400.9h1m-1-.3h1m-.5-1.5h1m-.7 1.1h1m-12 10.5h1m-.2-.3h1m-.1-1.3h1m-.4 1.1h1m1.5-4.1h1m-.9 4.7h1m.5-2h1m-12.1 7.9h1m11.2-2.8h1m2.8 2.5h1m-.5-1.4h1m-.8 1.6h1m-.9.3h1m-21 3.2h1m.1.2h1m-.7-2.8h1m-1 .8h1m-.5 2.3h1m2.3 2h1m.1-3.4h1m6.8-1.2h1m-.8 1.3h1m-16.1 8h1m.5-3.4h1m-.9 4h1m-.6-3.9h1m-.5.7h1m-.4-.1h1m1.6 3.6h1m-.1-2.3h1m2.4 1.1h1m3.9-1.7h1m45.7-.7h1m-1 0h1m.2 1h1m-1 0h1m-.9.1h1m-61.9 3.7h1m-.2 3.4h1m1 1.3h1m2.9-4.8h1m-2.5 10.5h1m38.8-2.8h1m-.5-.7h1m-1 0h1m1.2.5h1m-1 0h1m-.6.1h1m-1 0h1m1.8 1h1m-.4-.7h1m1 1.2h1m-1 0h1m.3-.5h1m0 .4h1m-1 0h1m-.9-.6h1m-.9.1h1m-1 0h1m.6.2h1m0-.5h1m0-.5h1m-1 0h1m-1-.3h1m-1 0h1m.4-.3h1m-1 0h1m-48.7 6.9h1m1.7 1h1m2.4-.9h1m-.2.9h1m-14.9 3.8h1m5.2 0h1m.1 2.3h1m-.9 1.7h1m2.2-4.3h1m-.9 3.9h1m-.9-3.7h1m1.8.1h1m4.2-.7h1m-.1 3.2h1m-.9-.4h1m-.7-1.7h1m33.4 3.6h1m-.9-1.9h1m-62.8 5.9h1m7.1 1.4h1m1.2-3.5h1m.4-.6h1m0 .2h1m0 1.6h1m-.9 1.3h1m.2.3h1m-.7-3h1m.1 2.4h1m-.7 1h1m-.8-1.5h1m-.4-2.2h1m-.2 3.1h1m-1-1.7h1m-.9-.7h1m-.7 2.8h1m-.5-2.3h1m-.8 1.2h1m-.1-1.9h1m-.7 2h1m-.8 1.5h1m-1-.6h1m-.8.7h1m-.4.6h1m-.4-.6h1m0-2.3h1m1.5.1h1m-.7-2h1m27.5 1.8h1m-1 0h1m.2.4h1m-.7-.3h1m-1 0h1m-49.3 8.4h1m-.7.5h1m34.4-3h1m-55.1 4h1m6.1.4h1m4.1.7h1m.6-.4h1m7.2 2.7h1m-45.4 3.3h1m-.9 1.8h1m.2 1.2h1m-.6.8h1m1.2-1.1h1m.6-1.9h1m25 1.8h1m-.6.1h1m-29.6 2.7h1m2.2 2.3h1m-.1-1.7h1m-.8 1.4h1m2.9 2.8h1m-.7-1.9h1m4.9-1h1m19.2-.7h1m1.1-.2h1m5-.1h1m2.8 0h1m-2.9 15.1h1m-.9.6h1m-1 0h1m-1 .3h1m-.3-.2h1m-1 0h1m-.4-.5h1" stroke="#2a22e8" stroke-width="1"/>
<circle cx="295.6" cy="481.2" r="1.3" fill="#2a22e8"/>
<circle cx="295.6" cy="486.9" r="1.3" fill="#f22a3a"/>
<circle cx="295.6" cy="492.8" r="1.3" fill="#34e88c"/>
<rect x="394.15" y="380" width="7.89" height="3.4" fill="#ff33ff"/>
<rect x="402.34" y="380" width="7.89" height="3.4" fill="#77ccff"/>
<rect x="410.53" y="380" width="7.89" height="3.4" fill="#ff5500"/>
<rect x="418.72" y="380" width="7.89" height="3.4" fill="#ffaa00"/>
<rect x="426.91" y="380" width="7.89" height="3.4" fill="#0022ee"/>
<rect x="435.10" y="380" width="7.89" height="3.4" fill="#ccd4d0"/>
<rect x="443.29" y="380" width="7.89" height="3.4" fill="#ccd4d0"/>
<rect x="451.48" y="380" width="7.89" height="3.4" fill="#ccd4d0"/>
<rect x="459.67" y="380" width="7.89" height="3.4" fill="#4422ee"/>
<rect x="467.86" y="380" width="7.89" height="3.4" fill="#44ee33"/>
<rect x="476.05" y="380" width="7.89" height="3.4" fill="#114411"/>
<rect x="394.00" y="385.4" width="2.00" height="3.2" fill="#f03366"/>
<rect x="396.00" y="385.4" width="6.20" height="3.2" fill="#22e022"/>
<rect x="402.20" y="385.4" width="8.20" height="3.2" fill="#5a96ff"/>
<rect x="410.40" y="385.4" width="1.60" height="3.2" fill="#f03366"/>
<rect x="412.00" y="385.4" width="6.60" height="3.2" fill="#22e022"/>
<rect x="418.60" y="385.4" width="8.20" height="3.2" fill="#5a96ff"/>
<rect x="426.80" y="385.4" width="5.20" height="3.2" fill="#5a96ff"/>
<rect x="432.00" y="385.4" width="1.00" height="3.2" fill="#f03366"/>
<rect x="433.00" y="385.4" width="2.00" height="3.2" fill="#22e022"/>
<rect x="435.00" y="385.4" width="1.50" height="3.2" fill="#5a96ff"/>
<rect x="436.50" y="385.4" width="3.00" height="3.2" fill="#f03366"/>
<rect x="439.50" y="385.4" width="3.70" height="3.2" fill="#22e022"/>
<rect x="443.20" y="385.4" width="1.80" height="3.2" fill="#5a96ff"/>
<rect x="445.00" y="385.4" width="3.00" height="3.2" fill="#f03366"/>
<rect x="448.00" y="385.4" width="3.40" height="3.2" fill="#22e022"/>
<rect x="451.40" y="385.4" width="1.10" height="3.2" fill="#5a96ff"/>
<rect x="452.50" y="385.4" width="3.50" height="3.2" fill="#f03366"/>
<rect x="456.00" y="385.4" width="3.60" height="3.2" fill="#22e022"/>
<rect x="459.60" y="385.4" width="4.40" height="3.2" fill="#f03366"/>
<rect x="464.00" y="385.4" width="3.80" height="3.2" fill="#22e022"/>
<rect x="467.80" y="385.4" width="4.50" height="3.2" fill="#f03366"/>
<rect x="472.30" y="385.4" width="3.70" height="3.2" fill="#22e022"/>
<rect x="476.00" y="385.4" width="1.30" height="3.2" fill="#22e022"/>
<rect x="477.30" y="385.4" width="4.70" height="3.2" fill="#5a96ff"/>
<rect x="482.00" y="385.4" width="2.10" height="3.2" fill="#22e022"/>
<path d="M394 392.68h2M398 392.68h2M435 392.68h1M441 392.68h1M443 392.68h2M447 392.68h1M449 392.68h2M454 392.68h2M464 392.68h1M469 392.68h2M473 392.68h2M479 392.68h3M398 397.03h1M400 397.03h2M419 397.03h2M422 397.03h1M425 397.03h1M435 397.03h2M444 397.03h1M454 397.03h1M461 397.03h1M463 397.03h5M397 401.39h3M401 401.39h1M411 401.39h1M414 401.39h1M416 401.39h3M421 401.39h1M424 401.39h3M438 401.39h1M440 401.39h2M443 401.39h1M447 401.39h2M450 401.39h1M456 401.39h4M461 401.39h1M464 401.39h2M467 401.39h1M402 405.74h1M404 405.74h1M407 405.74h3M427 405.74h4M432 405.74h1M435 405.74h1M437 405.74h2M447 405.74h1M454 405.74h1M456 405.74h1M459 405.74h1M460 405.74h1M465 405.74h1M469 405.74h3M482 405.74h1M403 410.10h1M406 410.10h2M409 410.10h1M427 410.10h2M431 410.10h1M435 410.10h1M437 410.10h2M441 410.10h2M443 410.10h2M448 410.10h2M455 410.10h1M457 410.10h1M459 410.10h1M461 410.10h1M463 410.10h1M467 410.10h1M469 410.10h2M472 410.10h2M475 410.10h1M476 410.10h1M482 410.10h1M402 414.45h1M404 414.45h1M406 414.45h2M427 414.45h2M435 414.45h1M438 414.45h1M448 414.45h1M452 414.45h1M455 414.45h5M461 414.45h3M468 414.45h1M470 414.45h1M472 414.45h1M474 414.45h1M479 414.45h2M483 414.45h1M402 418.81h1M404 418.81h3M412 418.81h1M414 418.81h1M437 418.81h1M440 418.81h1M445 418.81h3M449 418.81h1M451 418.81h1M455 418.81h1M459 418.81h1M460 418.81h3M464 418.81h1M469 418.81h1M476 418.81h1M478 418.81h2M482 418.81h1M412 423.16h1M415 423.16h1M417 423.16h1M427 423.16h1M429 423.16h2M432 423.16h1M434 423.16h1M436 423.16h2M439 423.16h1M441 423.16h1M443 423.16h1M449 423.16h1M452 423.16h1M454 423.16h2M458 423.16h1M461 423.16h1M464 423.16h2M469 423.16h1M471 423.16h2M475 423.16h1M477 423.16h1M480 423.16h4M403 427.52h1M406 427.52h2M422 427.52h2M425 427.52h1M433 427.52h2M437 427.52h1M441 427.52h2M444 427.52h1M447 427.52h2M450 427.52h1M451 427.52h1M453 427.52h1M456 427.52h2M464 427.52h2M468 427.52h1M471 427.52h1M473 427.52h1M483 427.52h1M396 431.87h5M403 431.87h1M405 431.87h1M408 431.87h1M422 431.87h1M424 431.87h1M435 431.87h2M441 431.87h2M451 431.87h1M453 431.87h2M456 431.87h1M458 431.87h2M405 440.58h4M411 440.58h1M413 440.58h2M420 440.58h1M422 440.58h1M425 440.58h1M427 440.58h1M429 440.58h1M433 440.58h2M444 440.58h1M446 440.58h4M455 440.58h1M458 440.58h1M460 440.58h1M463 440.58h1M468 440.58h1M473 440.58h2M479 440.58h1M481 440.58h1M402 444.94h2M409 444.94h1M410 444.94h2M415 444.94h1M419 444.94h2M424 444.94h1M427 444.94h1M433 444.94h2M445 444.94h3M450 444.94h1M451 444.94h1M454 444.94h1M458 444.94h2M465 444.94h1M467 444.94h1M468 444.94h1M471 444.94h1M477 444.94h3M481 444.94h1M402 449.29h1M404 449.29h1M409 449.29h1M410 449.29h1M412 449.29h1M417 449.29h2M421 449.29h1M423 449.29h1M427 449.29h1M431 449.29h1M433 449.29h1M436 449.29h1M438 449.29h1M440 449.29h1M444 449.29h1M446 449.29h2M449 449.29h2M453 449.29h1M455 449.29h2M459 449.29h1M464 449.29h2M469 449.29h1M471 449.29h4M480 449.29h1M402 453.65h1M405 453.65h1M407 453.65h1M411 453.65h2M425 453.65h1M432 453.65h2M436 453.65h4M448 453.65h2M459 453.65h1M470 453.65h1M473 453.65h2M476 453.65h1M479 453.65h1M481 453.65h2M407 458.00h2M413 458.00h1M416 458.00h3M422 458.00h1M424 458.00h2M427 458.00h1M430 458.00h1M433 458.00h2M436 458.00h2M440 458.00h1M442 458.00h1M446 458.00h5M452 458.00h4M468 458.00h1M475 458.00h1M477 458.00h3M481 458.00h1M403 462.35h2M408 462.35h1M414 462.35h3M420 462.35h2M427 462.35h2M430 462.35h1M435 462.35h2M438 462.35h2M441 462.35h1M454 462.35h1M458 462.35h2M469 462.35h1M472 462.35h3M482 462.35h1M394 466.71h1M397 466.71h1M399 466.71h3M410 466.71h1M416 466.71h1M419 466.71h1M423 466.71h1M425 466.71h1M439 466.71h1M444 466.71h1M447 466.71h1M453 466.71h2M457 466.71h1M459 466.71h1M461 466.71h3M465 466.71h1M467 466.71h1M423 471.06h2M439 471.06h1M446 497.19h1M445 505.90h1M447 510.26h1M450 510.26h1" stroke="#8010ff" stroke-width="4.35" shape-rendering="crispEdges"/>
<path d="M396 392.68h1M422 392.68h1M436 392.68h1M438 392.68h1M440 392.68h1M446 392.68h1M448 392.68h1M462 392.68h2M466 392.68h2M468 392.68h1M475 392.68h1M476 392.68h1M395 397.03h1M410 397.03h1M438 397.03h1M441 397.03h1M448 397.03h1M451 397.03h1M453 397.03h1M457 397.03h3M394 401.39h1M442 401.39h1M455 401.39h1M460 401.39h1M403 405.74h1M414 405.74h1M434 405.74h1M439 405.74h2M443 405.74h1M448 405.74h1M451 405.74h1M479 405.74h1M410 410.10h1M429 410.10h1M432 410.10h2M436 410.10h1M447 410.10h1M453 410.10h2M458 410.10h1M460 410.10h1M462 410.10h1M477 410.10h1M403 414.45h1M409 414.45h1M410 414.45h1M429 414.45h1M431 414.45h1M433 414.45h2M436 414.45h2M440 414.45h1M442 414.45h1M443 414.45h4M466 414.45h2M477 414.45h1M481 414.45h1M410 418.81h1M416 418.81h1M428 418.81h1M435 418.81h1M439 418.81h1M448 418.81h1M452 418.81h1M458 418.81h1M467 418.81h1M471 418.81h5M396 423.16h1M400 423.16h1M435 423.16h1M440 423.16h1M446 423.16h1M456 423.16h1M460 423.16h1M468 423.16h1M479 423.16h1M398 427.52h1M402 427.52h1M408 427.52h1M419 427.52h1M421 427.52h1M426 427.52h1M430 427.52h2M435 427.52h2M439 427.52h1M443 427.52h1M445 427.52h2M454 427.52h2M466 427.52h1M469 427.52h2M474 427.52h1M482 427.52h1M401 431.87h1M409 431.87h1M423 431.87h1M427 431.87h1M430 431.87h1M439 431.87h1M455 431.87h1M395 436.23h1M401 436.23h1M433 436.23h1M436 436.23h1M463 436.23h2M473 436.23h1M482 436.23h1M403 440.58h1M409 440.58h1M410 440.58h1M412 440.58h1M415 440.58h1M417 440.58h1M423 440.58h2M428 440.58h1M430 440.58h1M432 440.58h1M442 440.58h1M443 440.58h1M450 440.58h1M456 440.58h1M464 440.58h1M466 440.58h1M471 440.58h1M477 440.58h1M480 440.58h1M407 444.94h1M413 444.94h1M417 444.94h1M426 444.94h1M443 444.94h2M455 444.94h1M461 444.94h1M463 444.94h2M470 444.94h1M476 444.94h1M482 444.94h1M403 449.29h1M406 449.29h1M408 449.29h1M411 449.29h1M434 449.29h1M442 449.29h1M445 449.29h1M448 449.29h1M451 449.29h1M458 449.29h1M461 449.29h1M470 449.29h1M475 449.29h1M479 449.29h1M482 449.29h1M403 453.65h1M408 453.65h1M414 453.65h1M417 453.65h2M424 453.65h1M426 453.65h1M427 453.65h1M429 453.65h1M431 453.65h1M435 453.65h1M441 453.65h1M443 453.65h1M445 453.65h2M453 453.65h1M475 453.65h1M477 453.65h1M414 458.00h1M419 458.00h1M421 458.00h1M423 458.00h1M438 458.00h1M444 458.00h1M474 458.00h1M482 458.00h1M402 462.35h1M406 462.35h1M410 462.35h1M412 462.35h2M417 462.35h1M423 462.35h2M429 462.35h1M432 462.35h1M442 462.35h1M444 462.35h1M446 462.35h1M448 462.35h1M451 462.35h3M470 462.35h2M478 462.35h1M480 462.35h1M398 466.71h1M411 466.71h4M417 466.71h1M420 466.71h1M437 466.71h1M442 466.71h1M443 466.71h1M450 466.71h1M451 466.71h1M456 466.71h1M460 466.71h1M394 471.06h2M397 471.06h3M403 471.06h1M405 471.06h1M408 471.06h2M410 471.06h2M413 471.06h1M417 471.06h2M421 471.06h1M425 471.06h1M435 471.06h2M441 471.06h1M443 471.06h1M447 471.06h1M450 471.06h1M452 471.06h1M455 471.06h2M460 471.06h1M462 471.06h2M475 471.06h1M398 475.42h1M411 475.42h1M418 475.42h1M420 475.42h6M440 475.42h1M452 475.42h1M454 475.42h4M459 475.42h1M462 475.42h1M466 475.42h2M469 475.42h2M475 475.42h1M479 475.42h1M482 475.42h1M417 479.77h1M426 479.77h1M430 479.77h1M434 479.77h1M428 484.13h1M436 484.13h1M397 488.48h1M449 497.19h1M445 501.55h1M446 505.90h1M445 510.26h1" stroke="#7010f0" stroke-width="4.35" shape-rendering="crispEdges"/>
<path d="M397 392.68h1M400 392.68h1M439 392.68h1M459 392.68h1M472 392.68h1M423 397.03h2M440 397.03h1M452 397.03h1M395 401.39h1M400 401.39h1M415 401.39h1M437 401.39h1M462 401.39h1M466 401.39h1M458 405.74h1M463 405.74h2M477 405.74h1M402 410.10h1M404 410.10h1M412 410.10h1M418 410.10h1M450 410.10h1M452 410.10h1M465 410.10h1M474 410.10h1M478 410.10h1M483 410.10h1M408 414.45h1M432 414.45h1M447 414.45h1M453 414.45h1M475 414.45h1M476 414.45h1M482 414.45h1M407 418.81h1M436 418.81h1M444 418.81h1M453 418.81h1M456 418.81h1M465 418.81h1M470 418.81h1M480 418.81h2M418 423.16h1M428 423.16h1M433 423.16h1M445 423.16h1M462 423.16h1M466 423.16h1M427 427.52h1M449 427.52h1M461 427.52h1M472 427.52h1M480 427.52h2M395 431.87h1M406 431.87h1M419 431.87h1M426 431.87h1M428 431.87h1M437 431.87h2M431 440.58h1M453 440.58h2M457 440.58h1M461 440.58h1M465 440.58h1M483 440.58h1M405 444.94h1M418 444.94h1M432 444.94h1M448 444.94h1M456 444.94h1M460 444.94h1M472 444.94h1M483 444.94h1M419 449.29h1M422 449.29h1M432 449.29h1M435 449.29h1M439 449.29h1M462 449.29h2M466 449.29h1M468 449.29h1M413 453.65h1M421 453.65h3M430 453.65h1M444 453.65h1M450 453.65h1M455 453.65h2M458 453.65h1M468 453.65h1M472 453.65h1M406 458.00h1M410 458.00h3M415 458.00h1M435 458.00h1M457 458.00h3M473 458.00h1M476 458.00h1M483 458.00h1M409 462.35h1M418 462.35h1M426 462.35h1M456 462.35h1M468 462.35h1M476 462.35h2M396 466.71h1M421 466.71h2M424 466.71h1M426 466.71h1M435 466.71h1M438 466.71h1M445 466.71h1M449 466.71h1M455 466.71h1M458 466.71h1M466 466.71h1M446 471.06h1M461 471.06h1M447 497.19h1M444 501.55h1M444 505.90h1M443 510.26h1" stroke="#8010f0" stroke-width="4.35" shape-rendering="crispEdges"/>
<path d="M401 392.68h1M425 392.68h2M405 405.74h1M417 405.74h1M478 414.45h1M395 418.81h1M403 418.81h1M407 423.16h1M478 423.16h1M476 427.52h1M420 436.23h1M475 436.23h1M476 436.23h1M451 440.58h1M476 440.58h1M412 444.94h1M416 444.94h1M425 449.29h1M476 449.29h1M483 453.65h1M472 458.00h1M397 462.35h1M412 471.06h1M406 475.42h1M461 475.42h1M463 475.42h1" stroke="#6010d0" stroke-width="4.35" shape-rendering="crispEdges"/>
<path d="M402 392.68h1M473 401.39h1M416 436.23h1M396 449.29h1M400 449.29h1M480 466.71h1" stroke="#505010" stroke-width="4.35" shape-rendering="crispEdges"/>
<path d="M403 392.68h1" stroke="#404030" stroke-width="4.35" shape-rendering="crispEdges"/>
<path d="M404 392.68h1M461 462.35h1" stroke="#908050" stroke-width="4.35" shape-rendering="crispEdges"/>
<path d="M405 392.68h1M424 392.68h1M479 397.03h1M463 431.87h1M411 436.23h1M403 497.19h1M406 497.19h1M425 497.19h1M438 510.26h1" stroke="#201070" stroke-width="4.35" shape-rendering="crispEdges"/>
<path d="M406 392.68h1M414 392.68h1M477 436.23h1M400 479.77h1M405 479.77h1M408 479.77h1M444 479.77h2M451 479.77h1M473 484.13h1M396 497.19h2M400 497.19h1M404 497.19h1M408 497.19h1M412 497.19h1M414 497.19h1M418 497.19h1M419 497.19h1M421 497.19h1M434 497.19h1M440 497.19h1M442 497.19h1M451 497.19h1M465 497.19h1M475 497.19h1M481 497.19h2M417 501.55h1M422 501.55h2M453 501.55h1M469 501.55h1M477 501.55h1M400 505.90h1M418 505.90h1M424 505.90h1M433 505.90h1M456 505.90h2M470 505.90h2M474 505.90h1M412 510.26h1M481 510.26h1M399 514.61h1M403 514.61h1M429 514.61h1M434 514.61h1M464 514.61h1M420 518.97h1M428 518.97h1M446 523.32h1M469 523.32h1M482 523.32h1" stroke="#301090" stroke-width="4.35" shape-rendering="crispEdges"/>
<path d="M407 392.68h1M399 444.94h1M459 523.32h1" stroke="#809000" stroke-width="4.35" shape-rendering="crispEdges"/>
<path d="M408 392.68h1M431 397.03h1M478 397.03h1M424 405.74h1M470 431.87h1M401 458.00h1M400 462.35h1" stroke="#202000" stroke-width="4.35" shape-rendering="crispEdges"/>
<path d="M409 392.68h1M415 405.74h1M437 436.23h1M445 462.35h1M473 475.42h1M399 479.77h1M423 479.77h1M425 479.77h1M447 479.77h1M419 484.13h1M458 484.13h1M472 484.13h1M402 488.48h1M426 488.48h1M428 488.48h1M461 492.84h1M473 492.84h2M399 497.19h1M401 497.19h1M405 497.19h1M407 497.19h1M409 497.19h1M411 497.19h1M413 497.19h1M416 497.19h1M420 497.19h1M422 497.19h1M426 497.19h1M428 497.19h3M436 497.19h1M438 497.19h2M441 497.19h1M453 497.19h4M458 497.19h2M460 497.19h1M462 497.19h1M464 497.19h1M466 497.19h2M468 497.19h3M472 497.19h3M476 497.19h4M399 501.55h1M405 501.55h1M409 501.55h1M410 501.55h1M419 501.55h1M421 501.55h1M426 501.55h1M428 501.55h1M431 501.55h1M466 501.55h1M471 501.55h1M476 501.55h1M394 505.90h1M396 505.90h1M399 505.90h1M401 505.90h1M403 505.90h1M407 505.90h1M427 505.90h2M432 505.90h1M462 505.90h2M397 510.26h1M400 510.26h1M402 510.26h2M415 510.26h1M421 510.26h1M430 510.26h1M440 510.26h1M459 510.26h1M463 510.26h2M472 510.26h1M474 510.26h1M476 510.26h1M480 510.26h1M482 510.26h1M402 514.61h1M405 514.61h2M414 514.61h1M419 514.61h1M421 514.61h1M430 514.61h1M432 514.61h1M435 514.61h1M448 514.61h1M450 514.61h1M465 514.61h1M467 514.61h1M476 514.61h1M394 518.97h1M396 518.97h1M402 518.97h1M408 518.97h2M412 518.97h1M421 518.97h1M424 518.97h1M443 518.97h1M449 518.97h1M463 518.97h1M473 518.97h1M475 518.97h1M482 518.97h2M400 523.32h1M402 523.32h1M404 523.32h1M423 523.32h1M427 523.32h2M435 523.32h2M438 523.32h1M450 523.32h1M467 523.32h1M476 523.32h1M483 523.32h1" stroke="#3010a0" stroke-width="4.35" shape-rendering="crispEdges"/>
<path d="M410 392.68h1M437 397.03h1M456 410.10h1M483 418.81h1M402 423.16h1M421 423.16h1M397 427.52h1M399 427.52h1M428 436.23h2M443 436.23h1M459 436.23h1M468 436.23h1M483 436.23h1M440 440.58h1M428 449.29h1M467 449.29h1M447 462.35h1M404 471.06h1M415 471.06h1M482 471.06h1M449 475.42h1M397 479.77h1M411 479.77h1M424 479.77h1M440 479.77h1M464 479.77h1M397 484.13h1M402 484.13h1M414 484.13h1M444 484.13h1M447 484.13h1M449 484.13h1M460 484.13h1M399 488.48h1M404 488.48h1M413 488.48h2M430 488.48h1M455 488.48h1M465 488.48h1M423 492.84h1M451 492.84h1M482 492.84h1M425 501.55h1M461 501.55h1M468 501.55h1M475 501.55h1M408 505.90h1M412 505.90h1M423 510.26h1M432 510.26h1M437 510.26h1M451 510.26h1M460 510.26h1M466 510.26h1M420 514.61h1M424 514.61h1M428 514.61h1M437 514.61h1M407 518.97h1M413 518.97h1M418 518.97h1M403 523.32h1M413 523.32h1M464 523.32h1" stroke="#5010c0" stroke-width="4.35" shape-rendering="crispEdges"/>
<path d="M411 392.68h1M432 418.81h1M470 436.23h1M464 471.06h1M437 479.77h1M401 488.48h1M452 488.48h1M454 488.48h1M469 488.48h1M480 488.48h1M482 488.48h1M448 492.84h1M394 497.19h1M415 497.19h1M433 497.19h1M452 497.19h1M397 501.55h1M416 501.55h1M451 501.55h1M462 501.55h3M467 501.55h1M473 501.55h1M478 501.55h2M483 501.55h1M413 505.90h1M429 505.90h1M435 505.90h1M441 505.90h1M454 505.90h1M429 510.26h1M441 510.26h1M458 510.26h1M483 510.26h1M401 514.61h1M412 514.61h1M426 514.61h1M433 514.61h1M445 514.61h1M447 514.61h1M478 514.61h2M403 518.97h2M411 518.97h1M415 518.97h1M426 518.97h1M441 518.97h1M444 518.97h1M450 518.97h1M461 518.97h1M468 518.97h1M472 518.97h1M474 518.97h1M479 518.97h1M394 523.32h1M396 523.32h1M411 523.32h1M440 523.32h1M443 523.32h1M477 523.32h1M479 523.32h1" stroke="#3010b0" stroke-width="4.35" shape-rendering="crispEdges"/>
<path d="M412 392.68h1M449 397.03h1M427 418.81h1M433 418.81h1M399 423.16h1M409 423.16h1M411 462.35h1M407 466.71h1M413 484.13h1M437 484.13h1" stroke="#4010a0" stroke-width="4.35" shape-rendering="crispEdges"/>
<path d="M413 392.68h1M437 392.68h1M442 392.68h1M445 392.68h1M453 392.68h1M456 392.68h3M461 392.68h1M477 392.68h2M482 392.68h2M394 397.03h1M396 397.03h2M399 397.03h1M418 397.03h1M421 397.03h1M439 397.03h1M442 397.03h1M455 397.03h1M462 397.03h1M396 401.39h1M412 401.39h2M420 401.39h1M422 401.39h1M436 401.39h1M439 401.39h1M444 401.39h2M449 401.39h1M451 401.39h4M406 405.74h1M412 405.74h1M418 405.74h1M431 405.74h1M436 405.74h1M441 405.74h2M444 405.74h1M446 405.74h1M449 405.74h1M452 405.74h2M455 405.74h1M457 405.74h1M461 405.74h1M466 405.74h2M468 405.74h1M472 405.74h3M476 405.74h1M480 405.74h1M483 405.74h1M408 410.10h1M430 410.10h1M439 410.10h2M445 410.10h2M451 410.10h1M464 410.10h1M468 410.10h1M471 410.10h1M479 410.10h3M430 414.45h1M439 414.45h1M441 414.45h1M449 414.45h2M451 414.45h1M454 414.45h1M465 414.45h1M469 414.45h1M471 414.45h1M473 414.45h1M408 418.81h2M438 418.81h1M441 418.81h2M443 418.81h1M450 418.81h1M454 418.81h1M457 418.81h1M463 418.81h1M466 418.81h1M468 418.81h1M477 418.81h1M431 423.16h1M442 423.16h1M447 423.16h2M453 423.16h1M457 423.16h1M459 423.16h1M463 423.16h1M467 423.16h1M470 423.16h1M473 423.16h2M405 427.52h1M409 427.52h1M420 427.52h1M424 427.52h1M432 427.52h1M438 427.52h1M440 427.52h1M452 427.52h1M458 427.52h2M460 427.52h1M462 427.52h2M475 427.52h1M477 427.52h1M479 427.52h1M402 431.87h1M407 431.87h1M421 431.87h1M425 431.87h1M432 431.87h1M440 431.87h1M452 431.87h1M464 431.87h1M402 440.58h1M404 440.58h1M416 440.58h1M419 440.58h1M421 440.58h1M426 440.58h1M445 440.58h1M452 440.58h1M459 440.58h1M462 440.58h1M467 440.58h1M469 440.58h2M472 440.58h1M475 440.58h1M482 440.58h1M406 444.94h1M414 444.94h1M421 444.94h3M425 444.94h1M428 444.94h4M452 444.94h1M457 444.94h1M462 444.94h1M466 444.94h1M473 444.94h3M480 444.94h1M407 449.29h1M413 449.29h1M416 449.29h1M420 449.29h1M426 449.29h1M429 449.29h1M441 449.29h1M443 449.29h1M452 449.29h1M457 449.29h1M460 449.29h1M477 449.29h1M483 449.29h1M404 453.65h1M406 453.65h1M409 453.65h1M410 453.65h1M415 453.65h2M419 453.65h1M428 453.65h1M434 453.65h1M440 453.65h1M442 453.65h1M447 453.65h1M452 453.65h1M457 453.65h1M471 453.65h1M480 453.65h1M404 458.00h2M409 458.00h1M420 458.00h1M429 458.00h1M432 458.00h1M439 458.00h1M441 458.00h1M443 458.00h1M445 458.00h1M456 458.00h1M469 458.00h3M480 458.00h1M405 462.35h1M419 462.35h1M422 462.35h1M425 462.35h1M434 462.35h1M440 462.35h1M455 462.35h1M475 462.35h1M479 462.35h1M481 462.35h1M483 462.35h1M408 466.71h1M436 466.71h1M440 466.71h1M448 466.71h1M452 466.71h1M449 501.55h1M447 505.90h1" stroke="#9010ff" stroke-width="4.35" shape-rendering="crispEdges"/>
<path d="M415 392.68h1M462 405.74h1M460 431.87h1" stroke="#5010b0" stroke-width="4.35" shape-rendering="crispEdges"/>
<path d="M416 392.68h1M427 392.68h1M481 431.87h1" stroke="#000020" stroke-width="4.35" shape-rendering="crispEdges"/>
<path d="M417 392.68h1M410 401.39h1M445 405.74h1M405 414.45h1M395 423.16h1M398 423.16h1M420 423.16h1M476 423.16h1M394 427.52h1M404 431.87h1M397 436.23h1M400 436.23h1M403 436.23h1M407 436.23h1M421 436.23h1M424 436.23h1M441 436.23h2M446 436.23h1M448 436.23h1M453 436.23h1M455 436.23h1M457 436.23h1M474 436.23h1M481 436.23h1M418 440.58h1M469 444.94h1M414 471.06h1M419 471.06h1M426 471.06h1M445 471.06h1M458 471.06h2M467 471.06h1M468 471.06h1M472 471.06h1M479 471.06h1M481 471.06h1M483 471.06h1M396 475.42h1M399 475.42h1M402 475.42h1M405 475.42h1M408 475.42h1M414 475.42h1M419 475.42h1M441 475.42h1M443 475.42h1M453 475.42h1M474 475.42h1M483 475.42h1M394 479.77h2M402 479.77h2M406 479.77h2M413 479.77h1M415 479.77h1M418 479.77h1M420 479.77h1M427 479.77h1M429 479.77h1M432 479.77h1M446 479.77h1M448 479.77h1M453 479.77h1M458 479.77h1M460 479.77h3M465 479.77h1M476 479.77h1M479 479.77h1M481 479.77h3M396 484.13h1M400 484.13h1M404 484.13h2M409 484.13h1M410 484.13h1M420 484.13h1M422 484.13h1M425 484.13h1M434 484.13h1M443 484.13h1M445 484.13h1M448 484.13h1M450 484.13h1M451 484.13h1M453 484.13h2M462 484.13h4M467 484.13h1M469 484.13h1M471 484.13h1M475 484.13h1M395 488.48h1M408 488.48h2M416 488.48h3M420 488.48h2M424 488.48h1M429 488.48h1M443 488.48h1M446 488.48h1M448 488.48h1M451 488.48h1M453 488.48h1M458 488.48h1M460 488.48h1M463 488.48h2M468 488.48h1M470 488.48h1M472 488.48h1M475 488.48h1M479 488.48h1M395 492.84h1M398 492.84h1M403 492.84h2M406 492.84h1M408 492.84h1M411 492.84h3M415 492.84h2M425 492.84h2M428 492.84h2M433 492.84h1M444 492.84h1M446 492.84h1M453 492.84h1M457 492.84h1M467 492.84h1M470 492.84h1M472 492.84h1M477 492.84h1M481 492.84h1M483 492.84h1M398 501.55h1M456 501.55h1M404 505.90h1M421 505.90h1M459 505.90h1M398 510.26h1M418 510.26h1M465 510.26h1M469 510.26h1M436 514.61h1M439 514.61h1M443 514.61h1M463 514.61h1M477 514.61h1M481 514.61h1M400 518.97h1M405 518.97h1M448 518.97h1M465 518.97h1M399 523.32h1M422 523.32h1M432 523.32h1M437 523.32h1M442 523.32h1M470 523.32h1M480 523.32h2" stroke="#5010d0" stroke-width="4.35" shape-rendering="crispEdges"/>
<path d="M418 392.68h1M419 392.68h1M451 392.68h1M415 397.03h1M423 401.39h1M463 401.39h1M411 405.74h1M433 405.74h1M434 410.10h1M460 414.45h1M464 414.45h1M394 423.16h1M401 423.16h1M423 423.16h1M438 423.16h1M444 423.16h1M450 423.16h1M396 427.52h1M467 427.52h1M394 431.87h1M457 431.87h1M478 431.87h1M394 436.23h1M398 436.23h2M406 436.23h1M408 436.23h1M422 436.23h2M425 436.23h1M427 436.23h1M430 436.23h1M432 436.23h1M434 436.23h1M440 436.23h1M444 436.23h1M450 436.23h1M452 436.23h1M461 436.23h1M465 436.23h2M471 436.23h2M478 436.23h1M480 436.23h1M478 440.58h1M404 444.94h1M408 444.94h1M449 444.94h1M405 449.29h1M415 449.29h1M424 449.29h1M430 449.29h1M437 449.29h1M454 449.29h1M478 449.29h1M403 458.00h1M426 458.00h1M428 458.00h1M431 462.35h1M433 462.35h1M437 462.35h1M449 462.35h2M441 466.71h1M446 466.71h1M464 466.71h1M396 471.06h1M400 471.06h1M420 471.06h1M437 471.06h2M440 471.06h1M442 471.06h1M451 471.06h1M457 471.06h1M465 471.06h2M469 471.06h3M473 471.06h2M480 471.06h1M394 475.42h2M397 475.42h1M400 475.42h2M404 475.42h1M409 475.42h1M410 475.42h1M412 475.42h1M415 475.42h2M426 475.42h1M435 475.42h1M437 475.42h1M439 475.42h1M444 475.42h1M446 475.42h1M448 475.42h1M460 475.42h1M464 475.42h2M472 475.42h1M476 475.42h1M481 475.42h1M416 479.77h1M422 479.77h1M428 479.77h1M431 479.77h1M433 479.77h1M452 479.77h1M454 479.77h1M457 479.77h1M463 479.77h1M466 479.77h1M477 479.77h1M408 484.13h1M427 484.13h1M431 484.13h1M435 484.13h1M466 484.13h1M398 488.48h1M423 488.48h1M427 488.48h1M431 488.48h1M434 488.48h1M456 488.48h2M481 488.48h1M483 488.48h1M400 492.84h1M402 492.84h1M418 492.84h1M421 492.84h1M427 492.84h1M431 492.84h1M443 492.84h1M452 492.84h1M468 492.84h1M479 505.90h1M469 518.97h1" stroke="#6010e0" stroke-width="4.35" shape-rendering="crispEdges"/>
<path d="M420 392.68h1M446 401.39h1M450 405.74h1M475 405.74h1M478 405.74h1M466 410.10h1M422 423.16h1M402 436.23h1M419 436.23h1M426 436.23h1M439 436.23h1M447 436.23h1M462 436.23h1M453 444.94h1M469 453.65h1M402 458.00h1M431 458.00h1M395 466.71h1M415 466.71h1M407 471.06h1M422 471.06h1M449 471.06h1M407 475.42h1M413 475.42h1M436 475.42h1M445 475.42h1M447 475.42h1M478 475.42h1M480 475.42h1M396 479.77h1M398 479.77h1M435 479.77h1M455 484.13h1M405 488.48h1M396 492.84h1M471 492.84h1M431 523.32h1" stroke="#6010f0" stroke-width="4.35" shape-rendering="crispEdges"/>
<path d="M421 392.68h1M410 405.74h1M476 431.87h1M431 436.23h1M454 436.23h1M456 436.23h1M460 436.23h1M467 436.23h1M469 436.23h1M479 436.23h1M443 462.35h1M476 471.06h2M442 475.42h1M477 475.42h1M404 479.77h1M412 479.77h1M419 479.77h1M436 479.77h1M455 479.77h1M398 484.13h2M401 484.13h1M418 484.13h1M424 484.13h1M430 484.13h1M433 484.13h1M446 484.13h1M456 484.13h2M459 484.13h1M396 488.48h1M410 488.48h2M415 488.48h1M422 488.48h1M432 488.48h1M444 488.48h1M447 488.48h1M450 488.48h1M462 488.48h1M471 488.48h1M474 488.48h1M397 492.84h1M407 492.84h1M414 492.84h1M419 492.84h1M430 492.84h1M432 492.84h1M447 492.84h1M450 492.84h1M458 492.84h1M464 492.84h2M469 492.84h1M480 492.84h1M431 497.19h1M396 501.55h1M400 501.55h1M402 501.55h1M404 501.55h1M406 501.55h3M411 501.55h1M413 501.55h1M415 501.55h1M424 501.55h1M427 501.55h1M432 501.55h2M454 501.55h1M457 501.55h1M470 501.55h1M472 501.55h1M481 501.55h2M395 505.90h1M397 505.90h2M402 505.90h1M405 505.90h1M409 505.90h1M411 505.90h1M416 505.90h2M419 505.90h1M425 505.90h1M430 505.90h1M438 505.90h2M442 505.90h1M452 505.90h1M458 505.90h1M460 505.90h2M464 505.90h3M469 505.90h1M472 505.90h1M475 505.90h1M478 505.90h1M482 505.90h2M394 510.26h1M399 510.26h1M401 510.26h1M404 510.26h3M408 510.26h2M410 510.26h1M416 510.26h1M419 510.26h2M422 510.26h1M424 510.26h1M426 510.26h1M428 510.26h1M431 510.26h1M433 510.26h2M435 510.26h1M442 510.26h1M452 510.26h2M455 510.26h1M457 510.26h1M470 510.26h1M475 510.26h1M477 510.26h1M479 510.26h1M394 514.61h2M398 514.61h1M400 514.61h1M407 514.61h2M410 514.61h1M413 514.61h1M415 514.61h3M425 514.61h1M427 514.61h1M440 514.61h3M444 514.61h1M446 514.61h1M462 514.61h1M468 514.61h1M470 514.61h2M474 514.61h1M480 514.61h1M482 514.61h1M397 518.97h1M401 518.97h1M416 518.97h2M422 518.97h1M427 518.97h1M429 518.97h3M433 518.97h1M435 518.97h2M438 518.97h2M445 518.97h1M447 518.97h1M460 518.97h1M464 518.97h1M466 518.97h1M476 518.97h1M395 523.32h1M409 523.32h1M414 523.32h3M418 523.32h1M419 523.32h3M426 523.32h1M433 523.32h1M439 523.32h1M441 523.32h1M447 523.32h2M460 523.32h1M462 523.32h2M465 523.32h1M473 523.32h3M478 523.32h1" stroke="#4010b0" stroke-width="4.35" shape-rendering="crispEdges"/>
<path d="M423 392.68h1M412 397.03h1M431 418.81h1M404 423.16h1M406 423.16h1M478 427.52h1M404 436.23h2M435 436.23h1M438 436.23h1M445 436.23h1M449 436.23h1M458 436.23h1M401 471.06h1M406 471.06h1M416 471.06h1M444 471.06h1M448 471.06h1M454 471.06h1M468 475.42h1M401 479.77h1M409 479.77h1M410 479.77h1M414 479.77h1M421 479.77h1M438 479.77h2M441 479.77h1M443 479.77h1M449 479.77h2M456 479.77h1M459 479.77h1M467 479.77h1M478 479.77h1M480 479.77h1M394 484.13h2M403 484.13h1M407 484.13h1M411 484.13h2M416 484.13h1M421 484.13h1M423 484.13h1M426 484.13h1M429 484.13h1M432 484.13h1M452 484.13h1M461 484.13h1M470 484.13h1M400 488.48h1M403 488.48h1M406 488.48h2M412 488.48h1M419 488.48h1M425 488.48h1M433 488.48h1M445 488.48h1M449 488.48h1M459 488.48h1M461 488.48h1M467 488.48h1M473 488.48h1M476 488.48h1M478 488.48h1M394 492.84h1M399 492.84h1M401 492.84h1M405 492.84h1M409 492.84h1M410 492.84h1M417 492.84h1M420 492.84h1M422 492.84h1M424 492.84h1M434 492.84h1M445 492.84h1M449 492.84h1M454 492.84h1M456 492.84h1M460 492.84h1M462 492.84h2M466 492.84h1M475 492.84h1M476 492.84h1M478 492.84h2M394 501.55h2M401 501.55h1M403 501.55h1M412 501.55h1M414 501.55h1M418 501.55h1M420 501.55h1M429 501.55h2M434 501.55h1M452 501.55h1M455 501.55h1M459 501.55h1M460 501.55h1M465 501.55h1M480 501.55h1M406 505.90h1M410 505.90h1M415 505.90h1M420 505.90h1M422 505.90h2M426 505.90h1M434 505.90h1M436 505.90h2M440 505.90h1M451 505.90h1M453 505.90h1M455 505.90h1M467 505.90h1M468 505.90h1M473 505.90h1M476 505.90h2M480 505.90h2M395 510.26h2M407 510.26h1M411 510.26h1M413 510.26h2M417 510.26h1M425 510.26h1M427 510.26h1M436 510.26h1M439 510.26h1M454 510.26h1M456 510.26h1M461 510.26h2M467 510.26h1M468 510.26h1M471 510.26h1M473 510.26h1M478 510.26h1M396 514.61h2M404 514.61h1M409 514.61h1M411 514.61h1M418 514.61h1M422 514.61h2M431 514.61h1M438 514.61h1M449 514.61h1M460 514.61h2M466 514.61h1M469 514.61h1M472 514.61h2M483 514.61h1M395 518.97h1M398 518.97h2M406 518.97h1M410 518.97h1M414 518.97h1M419 518.97h1M423 518.97h1M425 518.97h1M432 518.97h1M434 518.97h1M437 518.97h1M440 518.97h1M442 518.97h1M446 518.97h1M462 518.97h1M470 518.97h1M478 518.97h1M480 518.97h2M397 523.32h2M401 523.32h1M405 523.32h4M410 523.32h1M412 523.32h1M417 523.32h1M424 523.32h2M429 523.32h2M434 523.32h1M444 523.32h2M449 523.32h1M461 523.32h1M466 523.32h1M468 523.32h1M471 523.32h2" stroke="#4010c0" stroke-width="4.35" shape-rendering="crispEdges"/>
<path d="M428 392.68h1M476 397.03h1M398 405.74h1" stroke="#303010" stroke-width="4.35" shape-rendering="crispEdges"/>
<path d="M429 392.68h1" stroke="#809010" stroke-width="4.35" shape-rendering="crispEdges"/>
<path d="M430 392.68h1M409 397.03h1M411 397.03h1M428 397.03h1M432 397.03h1M402 401.39h1M406 401.39h1M470 401.39h1M401 405.74h1M416 405.74h1M420 405.74h1M394 410.10h1M419 410.10h1M422 410.10h2M398 414.45h1M400 418.81h1M413 431.87h1M416 431.87h1M443 431.87h1M445 431.87h1M450 431.87h1M479 431.87h1M410 436.23h1M413 436.23h2M435 440.58h1M437 440.58h1M399 453.65h1M399 458.00h1M464 462.35h2M472 466.71h1" stroke="#000010" stroke-width="4.35" shape-rendering="crispEdges"/>
<path d="M431 392.68h1M477 397.03h1M481 397.03h1M412 427.52h1M399 440.58h1M397 444.94h1M439 444.94h1M442 444.94h1M463 462.35h1M481 466.71h3" stroke="#808010" stroke-width="4.35" shape-rendering="crispEdges"/>
<path d="M432 392.68h1M434 392.68h1M403 401.39h1M409 401.39h1" stroke="#405000" stroke-width="4.35" shape-rendering="crispEdges"/>
<path d="M433 392.68h1M425 414.45h1M415 431.87h1M417 436.23h1M403 466.71h1M405 466.71h1M440 484.13h1" stroke="#200070" stroke-width="4.35" shape-rendering="crispEdges"/>
<path d="M452 392.68h1M409 436.23h1M451 436.23h1M478 453.65h1M402 471.06h1M453 471.06h1M451 475.42h1M471 475.42h1M442 479.77h1M406 484.13h1M415 484.13h1M417 484.13h1M468 484.13h1M474 484.13h1M394 488.48h1M466 488.48h1M477 488.48h1M455 492.84h1M459 492.84h1" stroke="#5010e0" stroke-width="4.35" shape-rendering="crispEdges"/>
<path d="M460 392.68h1M465 392.68h1M471 392.68h1M426 397.03h1M456 397.03h1M460 397.03h1M419 401.39h1M481 405.74h1M405 410.10h1M451 423.16h1M404 427.52h1M428 427.52h2M420 431.87h1M396 436.23h1M414 449.29h1M481 449.29h1M420 453.65h1M451 453.65h1M454 453.65h1M451 458.00h1M407 462.35h1M457 462.35h1M418 466.71h1M478 471.06h1M417 475.42h1M438 475.42h1M450 475.42h1M458 475.42h1" stroke="#7010e0" stroke-width="4.35" shape-rendering="crispEdges"/>
<path d="M402 397.03h1M398 449.29h1M398 453.65h1M467 458.00h1" stroke="#707000" stroke-width="4.35" shape-rendering="crispEdges"/>
<path d="M403 397.03h1M430 397.03h1M471 397.03h1M472 401.39h1M422 418.81h1M466 462.35h1M479 466.71h1M451 518.97h1" stroke="#607000" stroke-width="4.35" shape-rendering="crispEdges"/>
<path d="M404 397.03h1M398 458.00h1M468 466.71h1M470 466.71h1M447 501.55h1" stroke="#506000" stroke-width="4.35" shape-rendering="crispEdges"/>
<path d="M405 397.03h1M472 397.03h1M405 401.39h1M408 401.39h1M477 431.87h1M396 462.35h1" stroke="#505000" stroke-width="4.35" shape-rendering="crispEdges"/>
<path d="M406 397.03h1M399 418.81h1M440 444.94h1" stroke="#100030" stroke-width="4.35" shape-rendering="crispEdges"/>
<path d="M407 397.03h1M407 401.39h1M425 410.10h1" stroke="#203000" stroke-width="4.35" shape-rendering="crispEdges"/>
<path d="M408 397.03h1M474 397.03h1M483 397.03h1M481 401.39h1M411 423.16h1M478 484.13h1" stroke="#90a000" stroke-width="4.35" shape-rendering="crispEdges"/>
<path d="M413 397.03h1" stroke="#6010c0" stroke-width="4.35" shape-rendering="crispEdges"/>
<path d="M414 397.03h1M420 414.45h1M397 418.81h2M461 431.87h1M418 436.23h1M477 466.71h1" stroke="#100040" stroke-width="4.35" shape-rendering="crispEdges"/>
<path d="M416 397.03h1M408 423.16h1M426 423.16h1M434 431.87h1M480 431.87h1M402 466.71h1" stroke="#401090" stroke-width="4.35" shape-rendering="crispEdges"/>
<path d="M417 397.03h1M426 418.81h1M429 418.81h1M434 418.81h1M406 466.71h1M442 484.13h1" stroke="#301070" stroke-width="4.35" shape-rendering="crispEdges"/>
<path d="M427 397.03h1M482 397.03h1M395 405.74h1M400 405.74h1M396 410.10h3M401 410.10h1M421 410.10h1M394 414.45h2M400 414.45h1M419 414.45h1M396 418.81h1M395 427.52h1M411 431.87h1M482 431.87h1M395 449.29h1M397 453.65h1M397 458.00h1" stroke="#000000" stroke-width="4.35" shape-rendering="crispEdges"/>
<path d="M429 397.03h1M433 397.03h2M396 405.74h2M399 405.74h1M422 405.74h1M425 405.74h2M395 410.10h1M399 410.10h1M396 414.45h1M399 414.45h1M395 440.58h1M398 440.58h1" stroke="#101000" stroke-width="4.35" shape-rendering="crispEdges"/>
<path d="M443 397.03h1M445 397.03h1M435 401.39h1" stroke="#5010a0" stroke-width="4.35" shape-rendering="crispEdges"/>
<path d="M446 397.03h1M413 405.74h1M403 475.42h1M398 497.19h1M402 497.19h1M417 497.19h1M423 497.19h2M432 497.19h1M471 497.19h1M414 505.90h1M431 505.90h1" stroke="#201080" stroke-width="4.35" shape-rendering="crispEdges"/>
<path d="M447 397.03h1M450 397.03h1M416 423.16h1M400 427.52h1M415 427.52h2M429 431.87h1M436 440.58h1M441 440.58h1M441 484.13h1M450 501.55h1" stroke="#401080" stroke-width="4.35" shape-rendering="crispEdges"/>
<path d="M468 397.03h1M394 405.74h1M419 405.74h1M420 410.10h1M424 410.10h1M397 414.45h1M420 418.81h1M424 418.81h1M410 431.87h1M417 431.87h1M468 431.87h1M473 431.87h1M483 431.87h1M395 462.35h1M476 466.71h1" stroke="#101010" stroke-width="4.35" shape-rendering="crispEdges"/>
<path d="M469 397.03h1" stroke="#707020" stroke-width="4.35" shape-rendering="crispEdges"/>
<path d="M470 397.03h1M466 453.65h2M481 484.13h1M439 492.84h1M449 510.26h1M454 514.61h1" stroke="#f0ff20" stroke-width="4.35" shape-rendering="crispEdges"/>
<path d="M473 397.03h1M421 418.81h1M398 444.94h1" stroke="#404000" stroke-width="4.35" shape-rendering="crispEdges"/>
<path d="M475 397.03h1M414 431.87h1M447 431.87h1M439 484.13h1" stroke="#300070" stroke-width="4.35" shape-rendering="crispEdges"/>
<path d="M480 397.03h1M401 414.45h1M462 462.35h1" stroke="#304000" stroke-width="4.35" shape-rendering="crispEdges"/>
<path d="M404 401.39h1M476 401.39h1M417 414.45h1M465 431.87h1M475 431.87h1M394 462.35h1M398 462.35h1" stroke="#606000" stroke-width="4.35" shape-rendering="crispEdges"/>
<path d="M427 401.39h1M411 414.45h1M479 484.13h1" stroke="#d0d000" stroke-width="4.35" shape-rendering="crispEdges"/>
<path d="M428 401.39h1M468 479.77h1" stroke="#a0b000" stroke-width="4.35" shape-rendering="crispEdges"/>
<path d="M429 401.39h1M474 401.39h1M482 484.13h2M459 518.97h1" stroke="#c0c000" stroke-width="4.35" shape-rendering="crispEdges"/>
<path d="M430 401.39h1M483 401.39h1M413 414.45h1M394 444.94h1" stroke="#c0c010" stroke-width="4.35" shape-rendering="crispEdges"/>
<path d="M431 401.39h1M471 431.87h1M427 466.71h1M430 466.71h3M427 471.06h1M429 471.06h3M434 471.06h1M434 475.42h1M473 479.77h1M480 484.13h1M439 488.48h1M441 488.48h1M435 492.84h2M438 492.84h1M441 492.84h1M455 514.61h1M451 523.32h1" stroke="#f0ff10" stroke-width="4.35" shape-rendering="crispEdges"/>
<path d="M432 401.39h1M475 401.39h1M413 410.10h1M444 431.87h1M475 479.77h1M457 518.97h1" stroke="#c0d000" stroke-width="4.35" shape-rendering="crispEdges"/>
<path d="M433 401.39h1M479 401.39h1M457 514.61h1" stroke="#b0c000" stroke-width="4.35" shape-rendering="crispEdges"/>
<path d="M434 401.39h1M469 401.39h1M482 401.39h1M429 466.71h1M428 471.06h1M431 475.42h2M476 484.13h1M439 501.55h2M454 518.97h1M455 523.32h1" stroke="#e0f000" stroke-width="4.35" shape-rendering="crispEdges"/>
<path d="M468 401.39h1M400 444.94h1M451 514.61h1" stroke="#708000" stroke-width="4.35" shape-rendering="crispEdges"/>
<path d="M471 401.39h1M463 458.00h1M474 466.71h1M477 484.13h1M440 492.84h1M438 501.55h1M458 518.97h1" stroke="#ffff20" stroke-width="4.35" shape-rendering="crispEdges"/>
<path d="M477 401.39h1M470 479.77h2M474 479.77h1M456 514.61h1" stroke="#d0e000" stroke-width="4.35" shape-rendering="crispEdges"/>
<path d="M478 401.39h1" stroke="#909000" stroke-width="4.35" shape-rendering="crispEdges"/>
<path d="M480 401.39h1M412 414.45h1M397 449.29h1M460 453.65h4M428 466.71h1M433 466.71h2M433 471.06h1M428 475.42h2M469 479.77h1M435 488.48h4M440 488.48h1M442 488.48h1M442 492.84h1M441 501.55h1M458 514.61h1M452 518.97h1M455 518.97h2M458 523.32h1" stroke="#f0f010" stroke-width="4.35" shape-rendering="crispEdges"/>
<path d="M421 405.74h1" stroke="#605060" stroke-width="4.35" shape-rendering="crispEdges"/>
<path d="M423 405.74h1M412 431.87h1M396 440.58h1M394 458.00h1" stroke="#202010" stroke-width="4.35" shape-rendering="crispEdges"/>
<path d="M400 410.10h1M395 444.94h1" stroke="#102000" stroke-width="4.35" shape-rendering="crispEdges"/>
<path d="M411 410.10h1" stroke="#a07070" stroke-width="4.35" shape-rendering="crispEdges"/>
<path d="M414 410.10h1M410 423.16h1M417 427.52h1M448 497.19h1" stroke="#a07080" stroke-width="4.35" shape-rendering="crispEdges"/>
<path d="M415 410.10h1M415 414.45h1M438 440.58h1" stroke="#501080" stroke-width="4.35" shape-rendering="crispEdges"/>
<path d="M416 410.10h1M414 414.45h1M401 462.35h1M450 497.19h1M446 501.55h1" stroke="#906080" stroke-width="4.35" shape-rendering="crispEdges"/>
<path d="M417 410.10h1M418 414.45h1M413 418.81h1M415 418.81h1M417 418.81h1M418 427.52h1M442 501.55h1M443 501.55h1M450 505.90h1M452 523.32h1" stroke="#b08080" stroke-width="4.35" shape-rendering="crispEdges"/>
<path d="M426 410.10h1M423 414.45h2M397 423.16h1M415 436.23h1" stroke="#100020" stroke-width="4.35" shape-rendering="crispEdges"/>
<path d="M416 414.45h1M413 427.52h2M443 497.19h1M445 497.19h1M448 505.90h1M446 510.26h1M456 523.32h1" stroke="#c08090" stroke-width="4.35" shape-rendering="crispEdges"/>
<path d="M421 414.45h2M446 431.87h1" stroke="#200050" stroke-width="4.35" shape-rendering="crispEdges"/>
<path d="M426 414.45h1" stroke="#302050" stroke-width="4.35" shape-rendering="crispEdges"/>
<path d="M394 418.81h1M478 466.71h1" stroke="#101030" stroke-width="4.35" shape-rendering="crispEdges"/>
<path d="M401 418.81h1M403 423.16h1M419 423.16h1M433 431.87h1M462 431.87h1M472 431.87h1M409 466.71h1M483 497.19h1" stroke="#200060" stroke-width="4.35" shape-rendering="crispEdges"/>
<path d="M411 418.81h1M474 431.87h1M473 466.71h1" stroke="#90a010" stroke-width="4.35" shape-rendering="crispEdges"/>
<path d="M418 418.81h1M405 423.16h1M431 431.87h1M412 436.23h1M394 440.58h1M410 497.19h1M458 501.55h1M474 501.55h1M477 518.97h1" stroke="#301080" stroke-width="4.35" shape-rendering="crispEdges"/>
<path d="M419 418.81h1M424 423.16h2M401 427.52h1M438 484.13h1" stroke="#501090" stroke-width="4.35" shape-rendering="crispEdges"/>
<path d="M423 418.81h1M466 431.87h1M469 431.87h1M436 444.94h1M396 458.00h1" stroke="#708010" stroke-width="4.35" shape-rendering="crispEdges"/>
<path d="M425 418.81h1" stroke="#404010" stroke-width="4.35" shape-rendering="crispEdges"/>
<path d="M430 418.81h1" stroke="#403050" stroke-width="4.35" shape-rendering="crispEdges"/>
<path d="M413 423.16h1M435 444.94h1M443 505.90h1" stroke="#502080" stroke-width="4.35" shape-rendering="crispEdges"/>
<path d="M414 423.16h1M448 501.55h1" stroke="#704080" stroke-width="4.35" shape-rendering="crispEdges"/>
<path d="M410 427.52h1" stroke="#a0a000" stroke-width="4.35" shape-rendering="crispEdges"/>
<path d="M411 427.52h1" stroke="#b08090" stroke-width="4.35" shape-rendering="crispEdges"/>
<path d="M418 431.87h1M399 462.35h1" stroke="#808040" stroke-width="4.35" shape-rendering="crispEdges"/>
<path d="M448 431.87h1" stroke="#607010" stroke-width="4.35" shape-rendering="crispEdges"/>
<path d="M449 431.87h1M401 440.58h1" stroke="#201050" stroke-width="4.35" shape-rendering="crispEdges"/>
<path d="M467 431.87h1M441 444.94h1" stroke="#a08070" stroke-width="4.35" shape-rendering="crispEdges"/>
<path d="M397 440.58h1M438 444.94h1M394 449.29h1M464 458.00h1" stroke="#b0c010" stroke-width="4.35" shape-rendering="crispEdges"/>
<path d="M400 440.58h1" stroke="#402070" stroke-width="4.35" shape-rendering="crispEdges"/>
<path d="M439 440.58h1" stroke="#806080" stroke-width="4.35" shape-rendering="crispEdges"/>
<path d="M396 444.94h1" stroke="#505020" stroke-width="4.35" shape-rendering="crispEdges"/>
<path d="M401 444.94h1M395 453.65h1" stroke="#705070" stroke-width="4.35" shape-rendering="crispEdges"/>
<path d="M437 444.94h1M401 449.29h1M466 458.00h1M471 466.71h1" stroke="#909010" stroke-width="4.35" shape-rendering="crispEdges"/>
<path d="M399 449.29h1" stroke="#908060" stroke-width="4.35" shape-rendering="crispEdges"/>
<path d="M394 453.65h1" stroke="#303000" stroke-width="4.35" shape-rendering="crispEdges"/>
<path d="M396 453.65h1" stroke="#202030" stroke-width="4.35" shape-rendering="crispEdges"/>
<path d="M400 453.65h1M395 458.00h1M475 466.71h1" stroke="#808000" stroke-width="4.35" shape-rendering="crispEdges"/>
<path d="M401 453.65h1" stroke="#304010" stroke-width="4.35" shape-rendering="crispEdges"/>
<path d="M464 453.65h2M462 458.00h1M437 492.84h1" stroke="#e0e000" stroke-width="4.35" shape-rendering="crispEdges"/>
<path d="M400 458.00h1M460 458.00h1M452 514.61h1M459 514.61h1" stroke="#d0d010" stroke-width="4.35" shape-rendering="crispEdges"/>
<path d="M461 458.00h1M460 462.35h1M432 471.06h1M427 475.42h1M430 475.42h1M436 501.55h1M453 518.97h1" stroke="#d0e010" stroke-width="4.35" shape-rendering="crispEdges"/>
<path d="M465 458.00h1" stroke="#c0d010" stroke-width="4.35" shape-rendering="crispEdges"/>
<path d="M467 462.35h1" stroke="#001000" stroke-width="4.35" shape-rendering="crispEdges"/>
<path d="M404 466.71h1" stroke="#100050" stroke-width="4.35" shape-rendering="crispEdges"/>
<path d="M469 466.71h1M433 475.42h1M472 479.77h1" stroke="#e0f010" stroke-width="4.35" shape-rendering="crispEdges"/>
<path d="M395 497.19h1M427 497.19h1M435 497.19h1M437 497.19h1M457 497.19h1M461 497.19h1M463 497.19h1M480 497.19h1M475 514.61h1M467 518.97h1M471 518.97h1" stroke="#201090" stroke-width="4.35" shape-rendering="crispEdges"/>
<path d="M444 497.19h1" stroke="#b07080" stroke-width="4.35" shape-rendering="crispEdges"/>
<path d="M435 501.55h1" stroke="#a08080" stroke-width="4.35" shape-rendering="crispEdges"/>
<path d="M437 501.55h1" stroke="#805080" stroke-width="4.35" shape-rendering="crispEdges"/>
<path d="M449 505.90h1" stroke="#905080" stroke-width="4.35" shape-rendering="crispEdges"/>
<path d="M444 510.26h1M448 510.26h1" stroke="#c08080" stroke-width="4.35" shape-rendering="crispEdges"/>
<path d="M453 514.61h1" stroke="#a0a010" stroke-width="4.35" shape-rendering="crispEdges"/>
<path d="M453 523.32h1" stroke="#907070" stroke-width="4.35" shape-rendering="crispEdges"/>
<path d="M454 523.32h1" stroke="#602080" stroke-width="4.35" shape-rendering="crispEdges"/>
<path d="M457 523.32h1" stroke="#907080" stroke-width="4.35" shape-rendering="crispEdges"/>
<path d="M402.19 390.50V525.50M410.38 390.50V525.50M418.57 390.50V525.50M426.76 390.50V525.50M434.95 390.50V525.50M443.14 390.50V525.50M451.33 390.50V525.50M459.52 390.50V525.50M467.71 390.50V525.50M475.90 390.50V525.50" stroke="#c8b8e0" stroke-opacity="0.55" stroke-width="0.5"/>
<defs><linearGradient id="cb394" x1="0" y1="0" x2="0" y2="1">
<stop offset="0.000" stop-color="#f0f812"/>
<stop offset="0.050" stop-color="#e8f308"/>
<stop offset="0.100" stop-color="#dfec00"/>
<stop offset="0.150" stop-color="#b9c500"/>
<stop offset="0.200" stop-color="#929e00"/>
<stop offset="0.250" stop-color="#5a6300"/>
<stop offset="0.300" stop-color="#242800"/>
<stop offset="0.350" stop-color="#0c0e00"/>
<stop offset="0.400" stop-color="#010004"/>
<stop offset="0.450" stop-color="#03010c"/>
<stop offset="0.500" stop-color="#050213"/>
<stop offset="0.550" stop-color="#07031b"/>
<stop offset="0.600" stop-color="#14064b"/>
<stop offset="0.650" stop-color="#280a8c"/>
<stop offset="0.700" stop-color="#3a0db1"/>
<stop offset="0.750" stop-color="#510ed1"/>
<stop offset="0.800" stop-color="#6710ed"/>
<stop offset="0.850" stop-color="#7610f5"/>
<stop offset="0.900" stop-color="#8510fd"/>
<stop offset="0.950" stop-color="#8910fe"/>
<stop offset="1.000" stop-color="#8d10ff"/>
</linearGradient></defs>
<rect x="486.1" y="394.2" width="3.4" height="36.7" fill="url(#cb394)"/>
<path d="M486.1 400.1h1.2" stroke="#fff" stroke-width="0.5"/>
<path d="M486.1 410.2h1.2" stroke="#fff" stroke-width="0.5"/>
<path d="M486.1 420.4h1.2" stroke="#fff" stroke-width="0.5"/>
<rect x="0.7" y="0.7" width="518.6" height="530.6" fill="none" stroke="#000" stroke-width="1.5"/>
<g style="filter:grayscale(1)"><text x="15" y="15.88" font-size="11.2" font-weight="bold" style="stroke-width:0.2px">A</text><text x="28.2" y="28.00" font-size="8" text-anchor="end">10</text><text x="28.2" y="64.70" font-size="8" text-anchor="end">0</text><text x="28.2" y="101.30" font-size="8" text-anchor="end">−10</text><text x="28.2" y="137.80" font-size="8" text-anchor="end">−20</text><text x="37.2" y="159.00" font-size="8" text-anchor="middle">−10</text><text x="86.5" y="159.00" font-size="8" text-anchor="middle">0</text><text x="133.6" y="159.00" font-size="8" text-anchor="middle">10</text><text x="181" y="159.00" font-size="8" text-anchor="middle">20</text><text x="95" y="170.72" font-size="9.5" textLength="24.3" lengthAdjust="spacingAndGlyphs" style="stroke-width:0.45px">UMAP_1</text><text x="0" y="0" font-size="9.5" style="stroke-width:0.45px" text-anchor="middle" transform="translate(13.6 85.8) rotate(-90)" textLength="23.9" lengthAdjust="spacingAndGlyphs">UMAP_2</text><text x="35.8" y="37.70" font-size="6.1" textLength="38.5" lengthAdjust="spacingAndGlyphs">HSCs/HSPCs</text><text x="54.6" y="44.90" font-size="6.1" text-anchor="middle">1</text><text x="46.4" y="78.00" font-size="6.1" text-anchor="middle">2</text><text x="46.6" y="85.60" font-size="6.1" text-anchor="middle" textLength="23.2" lengthAdjust="spacingAndGlyphs">Erythroid</text><text x="46.4" y="93.00" font-size="6.1" text-anchor="middle">cells</text><text x="69.2" y="89.20" font-size="6.1" text-anchor="middle">5</text><text x="69" y="96.80" font-size="6.1" text-anchor="middle" textLength="20.4" lengthAdjust="spacingAndGlyphs">Dividing</text><text x="69" y="103.70" font-size="6.1" text-anchor="middle">HSPCs</text><text x="80.9" y="29.20" font-size="6.1" textLength="47.9" lengthAdjust="spacingAndGlyphs">9 Neutrophil prog.</text><text x="101.5" y="39.80" font-size="6.1" textLength="39.9" lengthAdjust="spacingAndGlyphs">6 Myeloid prog.</text><text x="113.5" y="51.00" font-size="6.1" textLength="34.9" lengthAdjust="spacingAndGlyphs">0 Multipotent</text><text x="118.8" y="58.80" font-size="6.1" textLength="12.6" lengthAdjust="spacingAndGlyphs">prog</text><text x="111.5" y="72.10" font-size="6.1" textLength="36.6" lengthAdjust="spacingAndGlyphs">10 Tcell prog.</text><text x="94.2" y="77.50" font-size="6.1" text-anchor="middle">3</text><text x="96.4" y="82.50" font-size="6.1" textLength="38.6" lengthAdjust="spacingAndGlyphs">HSCs/HSPCs</text><text x="175.4" y="55.50" font-size="6.1">4</text><text x="164.9" y="63.20" font-size="6.1" textLength="24.7" lengthAdjust="spacingAndGlyphs">Non Hem</text><text x="144.9" y="110.80" font-size="6.1">7</text><text x="132.8" y="118.20" font-size="6.1" textLength="24.9" lengthAdjust="spacingAndGlyphs">Non Hem</text><text x="105" y="139.50" font-size="6.1" textLength="30.4" lengthAdjust="spacingAndGlyphs">8 Non Hem</text><text x="156.2" y="137.68" font-size="8.0" font-weight="bold" style="stroke-width:0.2px" textLength="18.5" lengthAdjust="spacingAndGlyphs">6 dpf</text><text x="205.6" y="15.98" font-size="11.2" font-weight="bold" style="stroke-width:0.2px">B</text><text x="221.5" y="61.80" font-size="8" text-anchor="end">10</text><text x="221.5" y="88.80" font-size="8" text-anchor="end">0</text><text x="221.5" y="114.60" font-size="8" text-anchor="end">−10</text><text x="221.5" y="141.10" font-size="8" text-anchor="end">−20</text><text x="228" y="158.40" font-size="8" text-anchor="middle">−10</text><text x="260.6" y="158.40" font-size="8" text-anchor="middle">0</text><text x="291.5" y="158.40" font-size="8" text-anchor="middle">10</text><text x="322.3" y="158.40" font-size="8" text-anchor="middle">20</text><text x="261.8" y="170.62" font-size="9.5" textLength="24.9" lengthAdjust="spacingAndGlyphs" style="stroke-width:0.45px">UMAP_1</text><text x="0" y="0" font-size="9.5" style="stroke-width:0.45px" text-anchor="middle" transform="translate(204.2 102.8) rotate(-90)" textLength="23.6" lengthAdjust="spacingAndGlyphs">UMAP_2</text><text x="281.1" y="136.00" font-size="6.4" textLength="29.1" lengthAdjust="spacingAndGlyphs"><tspan font-style="italic">runx1</tspan> 6dpf</text><text x="281.1" y="143.30" font-size="6.4" textLength="23.9" lengthAdjust="spacingAndGlyphs">WT 6dpf</text><text x="355.6" y="16.53" font-size="11.2" font-weight="bold" style="stroke-width:0.2px">C</text><text x="372.6" y="19.18" font-size="8.0" text-anchor="middle">0</text><text x="386.8" y="19.18" font-size="8.0" text-anchor="middle">1</text><text x="401.7" y="19.18" font-size="8.0" text-anchor="middle">2</text><text x="416.6" y="19.18" font-size="8.0" text-anchor="middle">3</text><text x="431.3" y="19.18" font-size="8.0" text-anchor="middle">4</text><text x="446.1" y="19.18" font-size="8.0" text-anchor="middle">5</text><text x="458.9" y="19.18" font-size="8.0" text-anchor="middle">6</text><text x="470.3" y="19.18" font-size="8.0" text-anchor="middle">7</text><text x="477.9" y="19.18" font-size="8.0" text-anchor="middle">8</text><text x="483.9" y="19.18" font-size="8.0" text-anchor="middle">9</text><text x="491.3" y="19.18" font-size="8.0" text-anchor="middle">10</text><text x="492.5" y="25.80" font-size="5.0" font-style="italic" style="stroke-width:0.05px" textLength="15.8" lengthAdjust="spacingAndGlyphs">Identity</text><text x="492.5" y="30.90" font-size="5.0" font-style="italic" style="stroke-width:0.05px" textLength="21.4" lengthAdjust="spacingAndGlyphs">Genotype</text><text x="362.8" y="36.65" font-size="5.4" text-anchor="end" font-style="italic" style="stroke-width:0.05px" fill="#222">csf1rb</text><text x="362.8" y="41.31" font-size="5.4" text-anchor="end" font-style="italic" style="stroke-width:0.05px" fill="#222">cebpb</text><text x="362.8" y="45.97" font-size="5.4" text-anchor="end" font-style="italic" style="stroke-width:0.05px" fill="#222">ccr9a</text><text x="362.8" y="50.63" font-size="5.4" text-anchor="end" font-style="italic" style="stroke-width:0.05px" fill="#222">myb</text><text x="362.8" y="55.28" font-size="5.4" text-anchor="end" font-style="italic" style="stroke-width:0.05px" fill="#222">lbll</text><text x="362.8" y="59.94" font-size="5.4" text-anchor="end" font-style="italic" style="stroke-width:0.05px" fill="#222">tal1</text><text x="362.8" y="64.60" font-size="5.4" text-anchor="end" font-style="italic" style="stroke-width:0.05px" fill="#222">lmo2</text><text x="362.8" y="69.26" font-size="5.4" text-anchor="end" font-style="italic" style="stroke-width:0.05px" fill="#222">fli1a</text><text x="362.8" y="73.92" font-size="5.4" text-anchor="end" font-style="italic" style="stroke-width:0.05px" fill="#222">meis1b</text><text x="362.8" y="78.58" font-size="5.4" text-anchor="end" font-style="italic" style="stroke-width:0.05px" fill="#222">gata2b</text><text x="362.8" y="83.24" font-size="5.4" text-anchor="end" font-style="italic" style="stroke-width:0.05px" fill="#222">ccna2</text><text x="362.8" y="87.89" font-size="5.4" text-anchor="end" font-style="italic" style="stroke-width:0.05px" fill="#222">ccnb1</text><text x="362.8" y="92.55" font-size="5.4" text-anchor="end" font-style="italic" style="stroke-width:0.05px" fill="#222">alas2</text><text x="362.8" y="97.21" font-size="5.4" text-anchor="end" font-style="italic" style="stroke-width:0.05px" fill="#222">hbbe2</text><text x="362.8" y="101.87" font-size="5.4" text-anchor="end" font-style="italic" style="stroke-width:0.05px" fill="#222">hbbe1.1</text><text x="362.8" y="106.53" font-size="5.4" text-anchor="end" font-style="italic" style="stroke-width:0.05px" fill="#222">spi1b</text><text x="362.8" y="111.19" font-size="5.4" text-anchor="end" font-style="italic" style="stroke-width:0.05px" fill="#222">mpeg1.1</text><text x="362.8" y="115.85" font-size="5.4" text-anchor="end" font-style="italic" style="stroke-width:0.05px" fill="#222">mpx</text><text x="362.8" y="120.50" font-size="5.4" text-anchor="end" font-style="italic" style="stroke-width:0.05px" fill="#222">lyz</text><text x="362.8" y="125.16" font-size="5.4" text-anchor="end" font-style="italic" style="stroke-width:0.05px" fill="#222">krt4</text><text x="362.8" y="129.82" font-size="5.4" text-anchor="end" font-style="italic" style="stroke-width:0.05px" fill="#222">krt5</text><text x="362.8" y="134.48" font-size="5.4" text-anchor="end" font-style="italic" style="stroke-width:0.05px" fill="#222">cldnb</text><text x="362.8" y="139.14" font-size="5.4" text-anchor="end" font-style="italic" style="stroke-width:0.05px" fill="#222">cdh17</text><text x="362.8" y="143.80" font-size="5.4" text-anchor="end" font-style="italic" style="stroke-width:0.05px" fill="#222">pax2a</text><text x="362.8" y="148.46" font-size="5.4" text-anchor="end" font-style="italic" style="stroke-width:0.05px" fill="#222">stmn1b</text><text x="362.8" y="153.11" font-size="5.4" text-anchor="end" font-style="italic" style="stroke-width:0.05px" fill="#222">gpnmba</text><text x="362.8" y="157.77" font-size="5.4" text-anchor="end" font-style="italic" style="stroke-width:0.05px" fill="#222">sox13</text><text x="362.8" y="162.43" font-size="5.4" text-anchor="end" font-style="italic" style="stroke-width:0.05px" fill="#222">gata3</text><text x="362.8" y="167.09" font-size="5.4" text-anchor="end" font-style="italic" style="stroke-width:0.05px" fill="#222">gata2a</text><text x="498.6" y="46.04" font-size="8.0">2</text><text x="498.6" y="56.54" font-size="8.0">1</text><text x="498.6" y="67.64" font-size="8.0">0</text><text x="15" y="192.88" font-size="11.2" font-weight="bold" style="stroke-width:0.2px">D</text><text x="28.2" y="213.60" font-size="8" text-anchor="end">10</text><text x="28.2" y="239.90" font-size="8" text-anchor="end">5</text><text x="28.2" y="266.00" font-size="8" text-anchor="end">0</text><text x="28.2" y="292.20" font-size="8" text-anchor="end">−5</text><text x="28.2" y="318.30" font-size="8" text-anchor="end">−10</text><text x="75.6" y="337.00" font-size="8" text-anchor="middle">0</text><text x="119" y="337.00" font-size="8" text-anchor="middle">10</text><text x="162.4" y="337.00" font-size="8" text-anchor="middle">20</text><text x="92.5" y="349.02" font-size="9.5" textLength="24" lengthAdjust="spacingAndGlyphs" style="stroke-width:0.45px">UMAP_1</text><text x="0" y="0" font-size="9.5" style="stroke-width:0.45px" text-anchor="middle" transform="translate(13.6 266.7) rotate(-90)" textLength="24.2" lengthAdjust="spacingAndGlyphs">UMAP_2</text><text x="41" y="216.40" font-size="6.1" textLength="43.5" lengthAdjust="spacingAndGlyphs">Multipotent prog</text><text x="53.6" y="238.40" font-size="6.1" text-anchor="middle">1</text><text x="84.7" y="235.20" font-size="6.1" text-anchor="middle">4</text><text x="85.8" y="225.50" font-size="6.1" textLength="33.6" lengthAdjust="spacingAndGlyphs">Myeloid prog</text><text x="92" y="260.90" font-size="6.1" textLength="38" lengthAdjust="spacingAndGlyphs">HSCs/HSPCs</text><text x="97.3" y="269.90" font-size="6.1" text-anchor="middle">0</text><text x="53.5" y="280.10" font-size="6.1" text-anchor="middle">2</text><text x="40" y="288.20" font-size="6.1" textLength="38" lengthAdjust="spacingAndGlyphs">HSCs/HSPCs</text><text x="77.1" y="305.50" font-size="6.1" text-anchor="middle">3</text><text x="82" y="309.90" font-size="6.1" textLength="23" lengthAdjust="spacingAndGlyphs">Erythroid</text><text x="82" y="318.40" font-size="6.1" textLength="12.4" lengthAdjust="spacingAndGlyphs">prog</text><text x="165.7" y="269.70" font-size="6.1" text-anchor="middle">5</text><text x="142.4" y="277.30" font-size="6.1" textLength="25.2" lengthAdjust="spacingAndGlyphs">Non Hem</text><text x="156.2" y="319.18" font-size="8.0" font-weight="bold" style="stroke-width:0.2px" textLength="22.7" lengthAdjust="spacingAndGlyphs">10 dpf</text><text x="205.6" y="193.28" font-size="11.2" font-weight="bold" style="stroke-width:0.2px">E</text><text x="221.6" y="221.00" font-size="8" text-anchor="end">10</text><text x="221.6" y="245.40" font-size="8" text-anchor="end">5</text><text x="221.6" y="269.90" font-size="8" text-anchor="end">0</text><text x="221.6" y="293.80" font-size="8" text-anchor="end">−5</text><text x="221.6" y="318.00" font-size="8" text-anchor="end">−10</text><text x="260" y="336.90" font-size="8" text-anchor="middle">0</text><text x="296.2" y="336.90" font-size="8" text-anchor="middle">10</text><text x="332.6" y="336.90" font-size="8" text-anchor="middle">20</text><text x="273.4" y="349.72" font-size="9.5" textLength="23.6" lengthAdjust="spacingAndGlyphs" style="stroke-width:0.45px">UMAP_1</text><text x="0" y="0" font-size="9.5" style="stroke-width:0.45px" text-anchor="middle" transform="translate(206.8 271.2) rotate(-90)" textLength="24.1" lengthAdjust="spacingAndGlyphs">UMAP_2</text><text x="302.1" y="315.60" font-size="6.4" textLength="33.0" lengthAdjust="spacingAndGlyphs"><tspan font-style="italic">runx1</tspan> 10dpf</text><text x="302.1" y="322.90" font-size="6.4" textLength="27.9" lengthAdjust="spacingAndGlyphs">WT 10dpf</text><text x="355.6" y="192.68" font-size="11.2" font-weight="bold" style="stroke-width:0.2px">F</text><text x="405" y="188.58" font-size="8.0" text-anchor="middle">0</text><text x="419.6" y="188.58" font-size="8.0" text-anchor="middle">1</text><text x="434.7" y="188.58" font-size="8.0" text-anchor="middle">2</text><text x="449.8" y="188.58" font-size="8.0" text-anchor="middle">3</text><text x="464" y="188.58" font-size="8.0" text-anchor="middle">4</text><text x="477" y="188.58" font-size="8.0" text-anchor="middle">5</text><text x="484.9" y="194.00" font-size="5.0" font-style="italic" style="stroke-width:0.05px" textLength="15.8" lengthAdjust="spacingAndGlyphs">Identity</text><text x="484.9" y="199.00" font-size="5.0" font-style="italic" style="stroke-width:0.05px" textLength="21.4" lengthAdjust="spacingAndGlyphs">Genotype</text><text x="395.4" y="206.60" font-size="6.4" text-anchor="end" font-style="italic" style="stroke-width:0.05px" fill="#222">csf1rb</text><text x="395.4" y="213.96" font-size="6.4" text-anchor="end" font-style="italic" style="stroke-width:0.05px" fill="#222">cebpb</text><text x="395.4" y="221.32" font-size="6.4" text-anchor="end" font-style="italic" style="stroke-width:0.05px" fill="#222">ccr9a</text><text x="395.4" y="228.68" font-size="6.4" text-anchor="end" font-style="italic" style="stroke-width:0.05px" fill="#222">myb</text><text x="395.4" y="236.04" font-size="6.4" text-anchor="end" font-style="italic" style="stroke-width:0.05px" fill="#222">fli1a</text><text x="395.4" y="243.41" font-size="6.4" text-anchor="end" font-style="italic" style="stroke-width:0.05px" fill="#222">tal1</text><text x="395.4" y="250.77" font-size="6.4" text-anchor="end" font-style="italic" style="stroke-width:0.05px" fill="#222">lmo2</text><text x="395.4" y="258.13" font-size="6.4" text-anchor="end" font-style="italic" style="stroke-width:0.05px" fill="#222">meis1b</text><text x="395.4" y="265.49" font-size="6.4" text-anchor="end" font-style="italic" style="stroke-width:0.05px" fill="#222">gata2b</text><text x="395.4" y="272.85" font-size="6.4" text-anchor="end" font-style="italic" style="stroke-width:0.05px" fill="#222">alas2</text><text x="395.4" y="280.21" font-size="6.4" text-anchor="end" font-style="italic" style="stroke-width:0.05px" fill="#222">hbbe1.1</text><text x="395.4" y="287.57" font-size="6.4" text-anchor="end" font-style="italic" style="stroke-width:0.05px" fill="#222">spi1b</text><text x="395.4" y="294.93" font-size="6.4" text-anchor="end" font-style="italic" style="stroke-width:0.05px" fill="#222">mpx</text><text x="395.4" y="302.30" font-size="6.4" text-anchor="end" font-style="italic" style="stroke-width:0.05px" fill="#222">lyz</text><text x="395.4" y="309.66" font-size="6.4" text-anchor="end" font-style="italic" style="stroke-width:0.05px" fill="#222">cldnb</text><text x="395.4" y="317.02" font-size="6.4" text-anchor="end" font-style="italic" style="stroke-width:0.05px" fill="#222">hoxb8a</text><text x="395.4" y="324.38" font-size="6.4" text-anchor="end" font-style="italic" style="stroke-width:0.05px" fill="#222">cdh17</text><text x="395.4" y="331.74" font-size="6.4" text-anchor="end" font-style="italic" style="stroke-width:0.05px" fill="#222">pax2a</text><text x="492.4" y="213.34" font-size="8.0">2</text><text x="492.4" y="223.64" font-size="8.0">1</text><text x="492.4" y="234.04" font-size="8.0">0</text><text x="15" y="371.53" font-size="11.2" font-weight="bold" style="stroke-width:0.2px">G</text><text x="28.2" y="409.90" font-size="8" text-anchor="end">10</text><text x="28.2" y="443.40" font-size="8" text-anchor="end">0</text><text x="28.2" y="476.90" font-size="8" text-anchor="end">−10</text><text x="42.1" y="510.80" font-size="8" text-anchor="middle">−10</text><text x="69.1" y="510.80" font-size="8" text-anchor="middle">−5</text><text x="99.1" y="510.80" font-size="8" text-anchor="middle">0</text><text x="126.2" y="510.80" font-size="8" text-anchor="middle">5</text><text x="153" y="510.80" font-size="8" text-anchor="middle">10</text><text x="180" y="510.80" font-size="8" text-anchor="middle">15</text><text x="94.2" y="524.42" font-size="9.5" textLength="23.8" lengthAdjust="spacingAndGlyphs" style="stroke-width:0.45px">UMAP_1</text><text x="0" y="0" font-size="9.5" style="stroke-width:0.45px" text-anchor="middle" transform="translate(13.6 442) rotate(-90)" textLength="24" lengthAdjust="spacingAndGlyphs">UMAP_2</text><text x="113" y="387.20" font-size="6.1" textLength="42.6" lengthAdjust="spacingAndGlyphs">8 Erythroid cells</text><text x="114" y="405.70" font-size="6.1" textLength="44" lengthAdjust="spacingAndGlyphs">0 Erythroid prog.</text><text x="43.8" y="428.70" font-size="6.1" textLength="38.5" lengthAdjust="spacingAndGlyphs">HSCs/HSPCs</text><text x="80.4" y="435.70" font-size="6.1" text-anchor="middle">3</text><text x="101.9" y="430.10" font-size="6.1" textLength="37.9" lengthAdjust="spacingAndGlyphs">HSCs/HSPCs</text><text x="121.2" y="438.40" font-size="6.1" text-anchor="middle">2</text><text x="154.2" y="433.80" font-size="6.1" text-anchor="middle">5</text><text x="152.3" y="441.00" font-size="6.1" textLength="25.6" lengthAdjust="spacingAndGlyphs">Non Hem</text><text x="152.5" y="447.00" font-size="6.1" text-anchor="middle">6</text><text x="40.6" y="455.30" font-size="6.1" textLength="35.6" lengthAdjust="spacingAndGlyphs">Myeloid prog.</text><text x="56" y="462.60" font-size="6.1" textLength="5.9" lengthAdjust="spacingAndGlyphs">10</text><text x="106.2" y="463.80" font-size="6.1" textLength="49.6" lengthAdjust="spacingAndGlyphs">1 Multipotent prog.</text><text x="106.5" y="483.20" font-size="6.1" textLength="71.4" lengthAdjust="spacingAndGlyphs">9 Myeloid prog. (Macroph.)</text><text x="52" y="483.90" font-size="6.1" text-anchor="middle">4</text><text x="34.5" y="490.40" font-size="6.1" textLength="35.5" lengthAdjust="spacingAndGlyphs">Myeloid prog.</text><text x="37.6" y="497.20" font-size="6.1" textLength="29.8" lengthAdjust="spacingAndGlyphs">(Neutroph.)</text><text x="112.6" y="494.90" font-size="6.1" textLength="30.1" lengthAdjust="spacingAndGlyphs">2 Non Hem</text><text x="156.7" y="492.88" font-size="8.0" font-weight="bold" style="stroke-width:0.2px" textLength="22.1" lengthAdjust="spacingAndGlyphs">16 dpf</text><text x="205.8" y="371.53" font-size="11.2" font-weight="bold" style="stroke-width:0.2px">H</text><text x="221.4" y="420.30" font-size="8" text-anchor="end">10</text><text x="221.4" y="449.70" font-size="8" text-anchor="end">0</text><text x="221.4" y="479.30" font-size="8" text-anchor="end">−10</text><text x="233.4" y="511.70" font-size="8" text-anchor="middle">−10</text><text x="253.3" y="511.70" font-size="8" text-anchor="middle">−5</text><text x="275.4" y="511.70" font-size="8" text-anchor="middle">0</text><text x="295.2" y="511.70" font-size="8" text-anchor="middle">5</text><text x="315.2" y="511.70" font-size="8" text-anchor="middle">10</text><text x="335" y="511.70" font-size="8" text-anchor="middle">15</text><text x="268" y="524.82" font-size="9.5" textLength="24.6" lengthAdjust="spacingAndGlyphs" style="stroke-width:0.45px">UMAP_1</text><text x="0" y="0" font-size="9.5" style="stroke-width:0.45px" text-anchor="middle" transform="translate(207.6 446.9) rotate(-90)" textLength="24.6" lengthAdjust="spacingAndGlyphs">UMAP_2</text><text x="299.2" y="483.23" font-size="6.2" textLength="61.0" lengthAdjust="spacingAndGlyphs"><tspan font-style="italic">runx1</tspan> 16 dpf bloodless</text><text x="299.2" y="489.13" font-size="6.2" textLength="61.6" lengthAdjust="spacingAndGlyphs"><tspan font-style="italic">runx1</tspan> 16 dpf recovered</text><text x="299.2" y="495.33" font-size="6.2" textLength="28.3" lengthAdjust="spacingAndGlyphs">WT 16 dpf</text><text x="355.3" y="371.18" font-size="11.2" font-weight="bold" style="stroke-width:0.2px">I</text><text x="398.4" y="377.68" font-size="8.0" text-anchor="middle">0</text><text x="406.7" y="377.68" font-size="8.0" text-anchor="middle">1</text><text x="414.4" y="377.68" font-size="8.0" text-anchor="middle">2</text><text x="422.7" y="377.68" font-size="8.0" text-anchor="middle">3</text><text x="430.1" y="377.68" font-size="8.0" text-anchor="middle">4</text><text x="439.3" y="377.68" font-size="8.0" text-anchor="middle">5</text><text x="447.2" y="377.68" font-size="8.0" text-anchor="middle">6</text><text x="455.7" y="377.68" font-size="8.0" text-anchor="middle">7</text><text x="463.8" y="377.68" font-size="8.0" text-anchor="middle">8</text><text x="471.4" y="377.68" font-size="8.0" text-anchor="middle">9</text><text x="480.4" y="377.68" font-size="8.0" text-anchor="middle">10</text><text x="485" y="383.80" font-size="5.0" font-style="italic" style="stroke-width:0.05px" textLength="16" lengthAdjust="spacingAndGlyphs">Identity</text><text x="485.2" y="388.80" font-size="5.0" font-style="italic" style="stroke-width:0.05px" textLength="21.2" lengthAdjust="spacingAndGlyphs">Genotype</text><text x="392" y="394.24" font-size="5.2" text-anchor="end" font-style="italic" style="stroke-width:0.05px" fill="#222">cebpa</text><text x="392" y="398.59" font-size="5.2" text-anchor="end" font-style="italic" style="stroke-width:0.05px" fill="#222">cebpb</text><text x="392" y="402.95" font-size="5.2" text-anchor="end" font-style="italic" style="stroke-width:0.05px" fill="#222">ccr9a</text><text x="392" y="407.30" font-size="5.2" text-anchor="end" font-style="italic" style="stroke-width:0.05px" fill="#222">lbll</text><text x="392" y="411.66" font-size="5.2" text-anchor="end" font-style="italic" style="stroke-width:0.05px" fill="#222">tal1</text><text x="392" y="416.01" font-size="5.2" text-anchor="end" font-style="italic" style="stroke-width:0.05px" fill="#222">lmo2</text><text x="392" y="420.37" font-size="5.2" text-anchor="end" font-style="italic" style="stroke-width:0.05px" fill="#222">myb</text><text x="392" y="424.72" font-size="5.2" text-anchor="end" font-style="italic" style="stroke-width:0.05px" fill="#222">fli1a</text><text x="392" y="429.08" font-size="5.2" text-anchor="end" font-style="italic" style="stroke-width:0.05px" fill="#222">meis1b</text><text x="392" y="433.43" font-size="5.2" text-anchor="end" font-style="italic" style="stroke-width:0.05px" fill="#222">klf6a</text><text x="392" y="437.79" font-size="5.2" text-anchor="end" font-style="italic" style="stroke-width:0.05px" fill="#222">gata2b</text><text x="392" y="442.14" font-size="5.2" text-anchor="end" font-style="italic" style="stroke-width:0.05px" fill="#222">ccna2</text><text x="392" y="446.50" font-size="5.2" text-anchor="end" font-style="italic" style="stroke-width:0.05px" fill="#222">ccnb1</text><text x="392" y="450.85" font-size="5.2" text-anchor="end" font-style="italic" style="stroke-width:0.05px" fill="#222">gata1a</text><text x="392" y="455.21" font-size="5.2" text-anchor="end" font-style="italic" style="stroke-width:0.05px" fill="#222">alas2</text><text x="392" y="459.56" font-size="5.2" text-anchor="end" font-style="italic" style="stroke-width:0.05px" fill="#222">hbbe1.1</text><text x="392" y="463.91" font-size="5.2" text-anchor="end" font-style="italic" style="stroke-width:0.05px" fill="#222">hbaa1</text><text x="392" y="468.27" font-size="5.2" text-anchor="end" font-style="italic" style="stroke-width:0.05px" fill="#222">spi1b</text><text x="392" y="472.62" font-size="5.2" text-anchor="end" font-style="italic" style="stroke-width:0.05px" fill="#222">mpx</text><text x="392" y="476.98" font-size="5.2" text-anchor="end" font-style="italic" style="stroke-width:0.05px" fill="#222">lyz</text><text x="392" y="481.33" font-size="5.2" text-anchor="end" font-style="italic" style="stroke-width:0.05px" fill="#222">mpeg1.1</text><text x="392" y="485.69" font-size="5.2" text-anchor="end" font-style="italic" style="stroke-width:0.05px" fill="#222">gata2a</text><text x="392" y="490.04" font-size="5.2" text-anchor="end" font-style="italic" style="stroke-width:0.05px" fill="#222">pneI1</text><text x="392" y="494.40" font-size="5.2" text-anchor="end" font-style="italic" style="stroke-width:0.05px" fill="#222">dlx4</text><text x="392" y="498.75" font-size="5.2" text-anchor="end" font-style="italic" style="stroke-width:0.05px" fill="#222">sparc</text><text x="392" y="503.11" font-size="5.2" text-anchor="end" font-style="italic" style="stroke-width:0.05px" fill="#222">stmn1b</text><text x="392" y="507.46" font-size="5.2" text-anchor="end" font-style="italic" style="stroke-width:0.05px" fill="#222">krt4</text><text x="392" y="511.82" font-size="5.2" text-anchor="end" font-style="italic" style="stroke-width:0.05px" fill="#222">krt5</text><text x="392" y="516.17" font-size="5.2" text-anchor="end" font-style="italic" style="stroke-width:0.05px" fill="#222">cldnb</text><text x="392" y="520.53" font-size="5.2" text-anchor="end" font-style="italic" style="stroke-width:0.05px" fill="#222">cdh17</text><text x="392" y="524.88" font-size="5.2" text-anchor="end" font-style="italic" style="stroke-width:0.05px" fill="#222">pax2a</text><text x="490.9" y="402.94" font-size="8.0">2</text><text x="490.9" y="413.04" font-size="8.0">1</text><text x="490.9" y="423.24" font-size="8.0">0</text></g>
</svg></body></html>
